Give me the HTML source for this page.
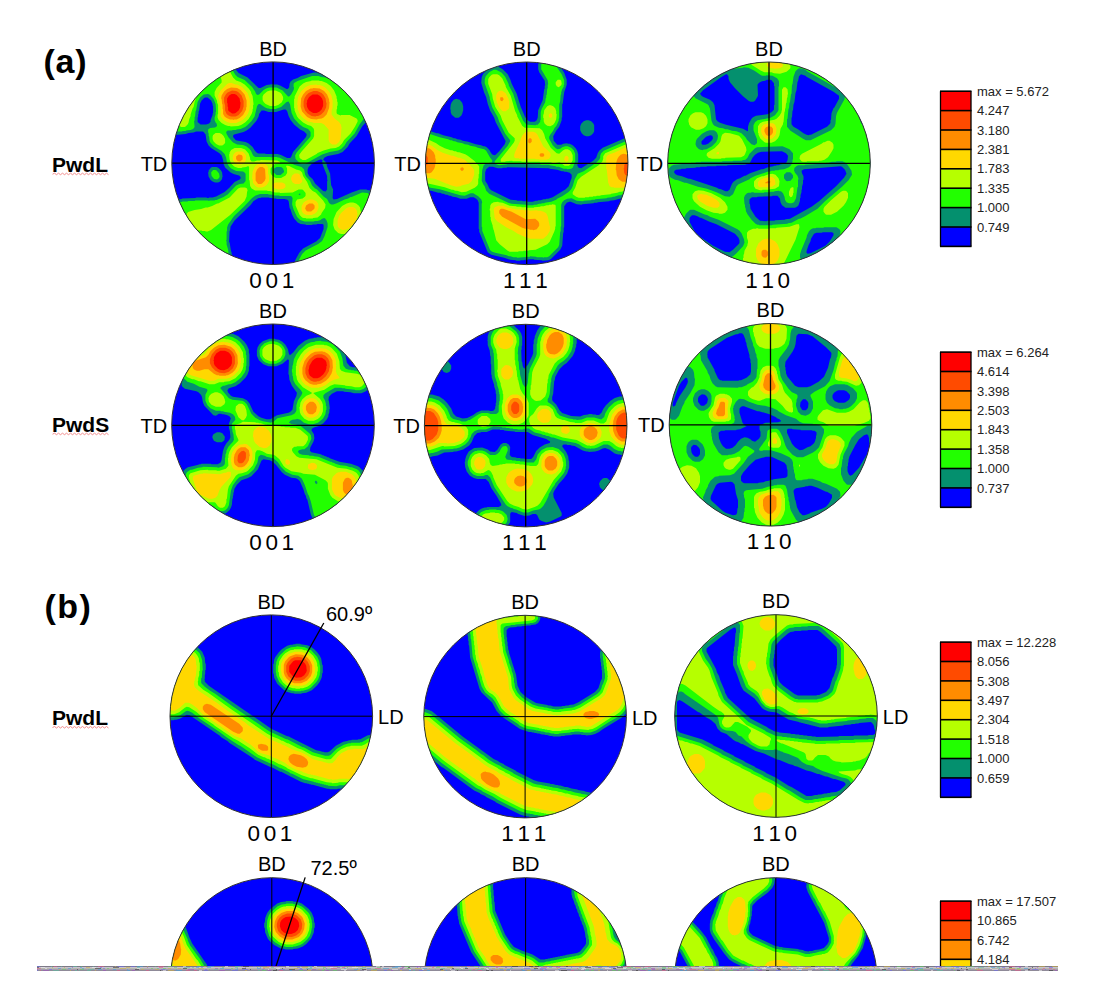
<!DOCTYPE html><html><head><meta charset="utf-8"><style>html,body{margin:0;padding:0;background:#fff;width:1099px;height:1005px;overflow:hidden}svg{display:block}</style></head><body><svg width="1099" height="1005" viewBox="0 0 1099 1005" font-family="Liberation Sans, sans-serif"><defs><clipPath id="c0"><circle cx="273.1" cy="163.2" r="101.3"/></clipPath><clipPath id="c1"><circle cx="526.7" cy="163.3" r="101.3"/></clipPath><clipPath id="c2"><circle cx="769.0" cy="163.3" r="101.3"/></clipPath><clipPath id="c3"><circle cx="273.0" cy="425.3" r="101.3"/></clipPath><clipPath id="c4"><circle cx="525.7" cy="425.6" r="101.3"/></clipPath><clipPath id="c5"><circle cx="770.5" cy="424.8" r="101.3"/></clipPath><clipPath id="c6"><circle cx="271.3" cy="716.2" r="101.3"/></clipPath><clipPath id="c7"><circle cx="525.1" cy="716.6" r="101.3"/></clipPath><clipPath id="c8"><circle cx="776.0" cy="716.0" r="101.3"/></clipPath><clipPath id="c9"><circle cx="271.8" cy="979.0" r="101.3"/></clipPath><clipPath id="c10"><circle cx="525.6" cy="979.0" r="101.3"/></clipPath><clipPath id="c11"><circle cx="775.8" cy="979.0" r="101.3"/></clipPath></defs><rect width="1099" height="1005" fill="#fff"/><g clip-path="url(#c0)"><rect x="169.8" y="59.9" width="206.6" height="206.6" fill="#0000ff"/>
<path fill="#04906e" fill-rule="evenodd" d="M212.1 167.1 211.1 167.6 208.6 170.6 208.6 172.1 208.1 172.6 208.6 176.6 210.6 180.1 212.6 181.6 215.1 182.6 218.1 182.6 220.1 181.6 222.1 179.1 222.1 177.6 222.6 177.1 222.1 172.6 221.1 170.6 218.6 168.1 216.6 167.1ZM218.6 63.6 215.6 66.6 214.1 69.6 213.1 74.1 210.6 76.6 200.6 81.1 194.1 86.6 188.6 90.1 182.1 97.1 179.1 101.6 174.1 112.1 173.1 118.6 172.6 119.1 172.6 121.6 172.1 122.1 171.6 131.1 172.1 132.6 174.1 134.6 175.6 135.1 185.6 134.1 188.6 133.1 193.6 132.6 196.1 131.6 202.6 131.6 203.6 132.1 205.6 134.6 206.6 141.6 208.6 145.6 211.1 148.1 219.1 153.1 221.6 155.6 223.1 160.1 223.6 164.1 225.1 167.6 230.6 172.6 233.6 174.1 239.1 175.6 240.6 177.1 240.6 178.6 239.6 179.6 234.6 182.1 229.1 188.1 224.6 192.1 216.1 196.6 212.6 197.6 209.1 197.6 208.6 198.1 207.1 198.1 206.6 197.6 196.1 197.6 195.6 198.1 182.1 198.6 181.6 199.1 177.6 199.6 175.6 202.1 175.6 204.6 178.6 213.1 178.6 214.6 179.6 216.6 179.6 218.1 181.1 222.6 186.6 232.6 207.1 252.6 211.1 255.1 212.1 255.1 221.6 259.6 227.1 261.6 229.6 261.6 230.6 261.1 232.1 259.1 232.1 254.6 231.6 254.1 231.6 252.1 231.1 251.6 229.6 242.6 229.1 242.1 229.6 231.1 230.1 230.6 230.6 226.6 234.6 220.6 250.6 205.1 253.6 201.1 258.6 198.1 260.6 198.1 261.1 197.6 269.1 197.6 269.6 198.1 272.6 198.1 273.1 198.6 276.1 198.6 276.6 199.1 285.1 199.1 285.6 199.6 287.1 199.6 288.6 201.1 289.6 208.1 290.6 209.6 292.1 214.6 294.1 218.6 297.6 222.6 300.6 224.1 305.6 224.6 306.1 225.1 312.1 225.1 312.6 224.6 316.6 224.6 317.1 224.1 322.6 224.1 323.6 225.1 323.6 229.1 320.1 238.1 316.1 241.6 303.1 248.6 299.1 253.1 295.1 260.6 295.1 262.1 294.6 262.6 295.1 264.6 297.6 266.6 300.6 266.6 315.1 262.6 336.1 250.6 346.1 241.6 353.1 238.1 356.6 235.6 361.6 230.6 365.1 225.1 365.1 224.1 366.1 222.6 367.1 219.1 367.1 217.1 367.6 216.6 368.1 208.6 368.6 208.1 369.6 203.1 370.6 201.6 372.6 195.6 372.1 192.6 370.1 190.6 367.1 190.1 366.6 189.6 360.1 189.6 351.6 192.6 337.1 199.1 333.6 199.6 332.6 198.1 333.1 189.6 331.1 185.1 330.1 173.6 327.1 166.6 326.6 164.1 325.6 162.1 323.1 159.6 324.6 157.6 327.6 156.1 338.1 154.1 342.6 152.1 347.6 147.1 349.6 143.6 356.6 136.1 362.1 126.6 366.1 122.1 367.1 120.1 367.1 116.1 355.6 92.6 352.1 89.1 350.1 88.1 342.6 82.1 336.1 77.6 335.1 77.6 333.6 76.6 324.6 74.1 317.1 73.1 316.6 72.6 313.6 72.6 301.1 76.1 297.6 78.1 293.1 79.6 290.6 81.6 289.6 83.6 289.1 87.6 287.6 89.1 286.6 89.1 280.1 85.6 277.1 84.6 274.1 84.6 273.6 84.1 266.6 85.1 260.6 88.1 258.6 88.1 247.6 77.6 238.6 73.1 236.1 70.1 234.6 67.1 232.1 64.6 227.1 62.1 222.1 62.1ZM320.1 159.6 321.6 159.6 322.6 160.6 322.1 161.6 322.6 164.6 327.1 176.1 327.1 179.6 327.6 180.1 327.1 181.6 327.1 189.6 325.6 191.6 323.1 191.1 315.1 183.6 312.6 179.1 309.1 176.1 307.6 173.1 307.6 169.6 308.6 167.1 311.6 164.1 314.6 162.1ZM306.6 134.1 306.6 135.6 305.6 137.6 293.1 152.1 291.1 157.1 290.1 158.1 287.1 158.1 281.1 155.1 277.6 154.1 265.6 154.1 265.1 153.6 258.6 153.6 257.1 153.1 255.1 151.1 252.6 147.1 248.6 143.6 245.6 142.1 236.6 140.6 235.6 140.1 233.1 137.1 233.1 135.6 234.1 134.6 243.6 132.1 246.6 130.6 250.6 127.6 256.6 120.6 258.6 116.6 259.1 114.1 261.6 110.6 264.1 110.6 268.6 112.1 276.1 112.1 283.6 109.6 285.6 109.6 287.1 111.1 288.6 116.1 290.6 120.1 294.1 124.6 300.1 129.6 304.1 131.6ZM207.6 97.6 211.1 100.6 212.6 104.1 212.6 105.6 213.1 106.1 213.1 113.1 212.6 113.6 212.6 115.1 210.6 120.1 210.6 121.6 209.1 123.6 206.1 124.6 200.6 124.6 197.6 122.1 197.6 117.6 198.1 117.1 198.1 114.6 198.6 114.1 198.6 111.6 199.1 111.1 200.1 103.6 201.6 100.6 204.1 98.1 205.1 97.6Z"/>
<path fill="#22ff00" fill-rule="evenodd" d="M213.1 170.1 211.1 172.6 211.6 176.1 214.1 179.1 217.1 179.6 219.1 178.1 219.6 176.6 219.1 173.6 216.6 170.6 215.6 170.1ZM221.6 65.6 218.1 68.6 217.1 71.1 216.6 75.6 214.6 78.1 209.6 80.6 206.1 81.6 201.6 84.1 196.6 88.6 189.1 93.6 184.1 99.6 179.6 107.1 176.6 114.6 176.1 118.6 175.6 119.1 175.6 121.6 175.1 122.1 174.6 129.6 176.1 131.6 182.1 131.6 182.6 131.1 185.6 131.1 186.1 130.6 190.6 130.1 193.1 129.1 194.6 127.1 194.1 121.1 194.6 120.6 194.6 117.1 195.1 116.6 195.6 111.1 196.1 110.6 197.6 102.1 200.1 97.6 203.6 94.6 208.1 94.1 210.1 95.1 213.6 99.1 215.6 104.1 216.1 111.6 215.6 112.1 215.6 114.6 214.6 117.6 214.6 120.1 215.6 122.6 216.6 123.6 217.1 126.1 215.1 127.6 210.1 128.1 208.1 129.6 208.1 132.6 208.6 133.1 208.6 136.1 209.1 136.6 209.6 141.1 210.6 143.1 214.1 146.6 221.6 151.1 224.6 154.1 226.1 157.6 227.1 163.1 229.1 166.6 231.1 168.6 236.1 171.1 243.1 171.6 245.1 173.1 245.6 174.1 245.6 181.1 243.6 183.6 239.6 184.1 236.1 185.6 227.6 194.6 223.6 197.1 216.6 200.1 215.1 200.1 214.6 200.6 209.6 200.6 209.1 201.1 207.6 200.6 195.1 200.6 194.6 201.1 188.1 201.1 187.6 201.6 182.1 201.6 181.6 202.1 180.1 202.1 179.1 203.1 179.1 206.1 184.6 222.6 188.6 230.1 208.6 250.1 212.6 252.6 219.6 255.1 222.1 256.6 223.1 256.6 226.1 258.1 228.1 258.1 229.1 257.1 229.1 254.6 228.6 254.1 228.1 249.6 226.6 244.6 226.6 241.6 226.1 241.1 226.6 239.6 226.6 231.6 227.1 231.1 227.1 227.6 228.1 224.6 234.1 216.1 244.1 206.6 252.1 198.1 255.6 195.6 260.1 194.1 268.1 194.1 268.6 194.6 271.1 194.6 274.6 195.6 279.1 195.6 279.6 196.1 290.6 196.1 291.6 196.6 292.6 198.1 292.1 204.6 293.6 209.6 297.1 217.1 300.1 220.1 304.6 221.6 314.1 221.6 314.6 221.1 317.6 221.1 320.6 220.1 321.6 219.1 324.1 218.1 325.1 218.6 326.6 220.6 327.6 223.6 327.6 227.1 324.6 236.1 322.1 241.1 318.1 244.1 305.6 250.6 302.1 254.1 298.6 260.6 298.6 262.1 299.6 263.1 301.6 263.1 314.1 259.6 319.1 257.1 335.6 247.1 344.6 238.6 352.1 234.6 358.6 228.6 360.6 225.6 363.6 218.6 365.1 206.6 367.1 202.1 367.6 199.6 368.6 198.1 369.1 194.6 367.6 193.1 362.1 192.6 351.6 197.1 350.6 197.1 348.1 198.6 344.6 199.6 336.1 203.6 333.1 204.6 331.1 204.6 329.1 203.1 327.1 199.1 323.6 196.6 317.1 189.6 315.1 188.6 312.1 185.6 310.1 181.1 306.1 176.6 305.1 174.6 304.1 169.6 301.6 167.1 294.6 165.1 279.1 157.6 277.6 157.6 277.1 157.1 272.1 157.1 271.6 157.6 270.1 157.1 255.1 157.1 253.1 155.6 251.1 151.1 249.6 149.1 246.6 146.6 243.1 145.1 237.1 144.6 233.1 142.6 228.6 137.6 226.6 134.1 226.1 132.1 227.6 130.6 232.1 130.6 232.6 130.1 236.1 130.1 236.6 129.6 240.6 129.1 245.1 127.1 247.1 125.6 251.6 121.1 254.6 116.6 257.1 106.1 258.6 104.1 260.1 104.1 265.1 107.6 267.6 108.6 269.1 108.6 269.6 109.1 275.6 109.1 281.1 107.1 286.6 102.1 288.6 101.6 290.1 104.6 291.6 113.1 294.1 118.6 299.1 124.1 303.1 127.1 308.1 129.1 310.6 132.1 310.6 136.1 310.1 137.1 296.6 152.6 295.1 155.6 295.6 159.1 298.6 162.1 301.6 164.1 305.1 164.1 322.1 154.6 329.6 152.1 338.1 150.6 341.1 149.1 344.6 145.6 346.6 142.1 354.6 133.6 359.6 124.6 364.1 118.6 363.6 115.6 359.6 108.1 359.6 107.1 353.6 95.1 349.6 91.1 335.1 80.6 331.1 79.1 329.6 79.1 325.6 77.6 321.1 77.1 318.6 76.1 312.1 76.1 297.6 81.1 294.1 83.1 293.6 84.1 293.6 87.1 294.1 87.6 293.6 90.1 291.1 94.6 289.1 96.6 288.1 96.6 282.6 90.6 276.6 87.6 269.1 87.6 266.1 88.6 263.6 90.1 259.1 94.6 257.6 95.1 256.1 94.1 255.1 91.6 252.1 87.1 244.6 80.1 237.6 77.1 235.1 74.6 232.1 69.1 229.6 66.6 226.1 65.1ZM298.6 194.1 300.1 193.6 300.6 194.6 299.1 195.1ZM273.1 170.6 274.1 168.6 276.6 167.1 281.1 167.1 283.1 168.6 284.1 171.6 283.6 172.6 280.6 175.1 276.6 175.1 273.6 172.6Z"/>
<path fill="#b6ff00" fill-rule="evenodd" d="M356.1 203.6 353.1 202.6 350.1 202.6 346.6 203.6 342.1 206.1 336.6 212.1 333.6 219.1 333.1 225.1 334.6 229.6 338.1 233.1 341.1 234.1 344.6 234.1 347.6 233.1 351.1 231.1 357.6 224.1 360.1 218.6 361.1 211.6 360.6 211.1 360.1 207.6 358.6 205.6ZM247.1 188.6 245.1 187.6 240.6 187.6 238.1 188.6 229.6 197.6 218.1 203.6 217.1 203.6 212.1 206.1 207.6 207.6 205.6 207.6 201.1 209.1 194.6 210.1 188.1 212.1 186.6 214.1 186.6 216.6 189.1 222.6 191.6 226.1 195.6 229.6 199.1 230.6 201.6 230.6 202.1 231.1 205.1 231.1 205.6 231.6 207.6 231.6 211.1 230.1 230.1 215.1 244.6 201.1 246.6 196.6 247.1 191.6 247.6 191.1ZM231.1 150.1 229.6 152.6 229.6 154.1 229.1 154.6 229.6 159.6 231.1 163.6 234.1 166.6 238.1 168.1 241.6 168.1 242.1 167.6 246.1 167.1 248.1 166.1 249.1 167.1 249.1 180.1 249.6 180.6 250.1 186.1 251.6 188.6 255.1 190.6 267.1 190.6 267.6 191.1 270.1 191.1 275.1 192.6 279.6 192.6 280.1 193.1 292.6 192.6 298.6 189.6 302.1 189.6 303.1 190.1 305.6 193.1 305.6 195.6 305.1 196.6 302.6 198.6 297.1 199.6 295.6 202.1 295.6 205.6 299.6 215.1 302.1 217.6 303.6 218.1 305.6 218.1 306.1 218.6 312.6 218.6 313.1 218.1 317.6 217.6 321.1 214.6 321.6 213.1 325.1 208.1 325.6 204.6 323.1 200.6 315.6 192.6 312.6 191.1 309.6 188.1 307.1 182.1 303.1 176.1 302.1 172.6 300.1 170.6 296.1 169.6 289.1 166.1 286.6 165.6 286.1 166.6 287.1 168.6 287.1 173.1 285.6 175.6 281.1 178.1 276.1 178.1 274.6 177.6 271.6 175.1 270.6 173.1 270.6 168.6 274.1 164.6 276.6 163.6 280.1 163.1 280.1 162.1 277.1 160.6 260.6 160.1 260.1 160.6 257.1 160.6 254.1 161.6 251.6 161.6 250.1 159.6 250.1 158.1 248.6 153.6 245.1 149.6 241.1 148.1 234.6 148.1ZM213.1 135.1 212.6 136.6 212.6 139.1 213.6 141.6 216.1 144.1 219.1 145.6 222.1 145.6 223.1 145.1 225.1 143.1 225.1 139.1 223.6 136.1 221.6 134.1 219.6 133.1 215.6 133.1ZM195.6 95.1 193.6 95.1 191.6 96.1 189.6 98.1 184.6 105.1 182.6 109.1 179.1 120.1 179.1 125.1 179.6 126.1 181.1 127.1 184.6 127.1 185.6 126.6 187.6 124.6 188.6 122.6 189.1 119.6 190.6 116.1 190.6 114.6 192.6 108.6 193.6 107.1 194.6 102.1 196.6 97.1 196.6 96.1ZM262.6 96.6 262.6 100.1 263.6 102.1 265.6 104.1 270.1 106.1 275.1 106.1 278.1 105.1 281.6 102.6 283.1 99.6 283.1 97.1 281.6 94.1 280.1 92.6 275.6 90.6 270.1 90.6 267.1 91.6 263.6 94.6ZM321.6 81.1 319.6 81.1 319.1 80.6 311.6 80.6 311.1 81.1 306.1 82.1 303.1 83.6 299.6 86.6 294.6 96.6 294.6 98.6 294.1 99.1 294.1 108.1 294.6 108.6 294.6 110.6 297.1 116.6 298.6 118.6 303.1 122.6 307.6 125.1 311.1 126.1 313.6 128.6 314.1 130.1 314.1 136.1 313.1 138.6 301.6 151.6 299.1 155.1 299.6 158.1 302.6 160.1 305.6 160.1 316.6 154.1 317.6 153.1 323.6 150.6 330.6 148.6 335.6 148.1 339.1 146.6 342.1 143.6 344.1 140.1 350.6 133.6 355.1 126.6 357.6 121.6 357.6 120.1 356.6 118.6 349.6 115.1 341.1 115.1 340.6 115.6 337.1 114.1 336.6 113.1 336.6 109.6 337.1 109.1 337.1 106.1 337.6 105.6 337.6 102.1 337.1 101.6 337.1 99.1 336.6 98.6 336.6 96.6 334.1 90.6 330.6 86.1 326.6 83.1ZM224.1 68.1 222.6 68.6 220.6 70.6 220.1 72.1 220.1 75.6 221.6 80.1 221.6 82.6 216.6 88.1 214.6 92.1 214.6 95.6 217.1 101.1 217.1 102.6 218.1 105.1 218.1 114.1 217.6 114.6 217.6 117.6 218.6 120.1 221.6 123.1 225.1 125.1 228.1 126.1 230.1 126.1 230.6 126.6 238.1 126.1 241.1 125.1 245.1 122.6 248.6 119.1 251.6 114.1 252.6 111.1 252.6 109.1 253.1 108.6 253.1 105.1 253.6 104.6 252.6 96.1 251.1 93.1 251.1 92.1 249.1 89.1 244.6 84.6 240.6 82.1 236.1 80.6 233.1 77.6 229.6 71.1 227.6 69.1Z"/>
<path fill="#ffd800" fill-rule="evenodd" d="M353.1 207.1 349.1 207.1 346.6 208.1 341.1 213.1 339.1 216.1 337.6 220.6 337.6 225.6 338.1 227.1 340.1 229.1 342.6 230.1 346.6 229.6 350.1 227.6 354.6 222.6 356.6 218.6 357.6 213.6 357.1 213.1 357.1 211.1 355.6 208.6ZM316.1 201.1 312.6 199.6 309.1 199.6 305.6 201.1 303.6 202.6 301.6 206.1 301.6 210.6 302.6 212.6 304.1 214.1 306.6 215.1 311.6 215.1 315.1 213.6 317.1 211.6 318.6 207.6 318.1 203.6ZM272.1 185.6 273.6 188.1 278.1 189.6 283.1 189.1 285.6 187.1 285.1 184.1 282.1 182.6 275.6 182.6 273.6 183.6ZM292.1 175.6 291.1 178.1 291.1 179.6 292.6 182.6 295.1 184.1 299.6 184.1 302.1 182.1 302.1 180.6 299.6 174.6 298.1 173.6 294.6 173.6ZM259.6 163.6 257.1 164.6 254.6 167.1 252.6 172.1 252.1 178.6 252.6 179.1 253.1 183.1 256.1 186.6 258.1 187.6 262.1 187.6 264.6 186.6 266.6 185.1 268.1 183.1 269.1 180.6 269.1 176.1 268.1 173.6 268.1 168.1 267.6 167.6 267.6 166.1 264.1 163.6ZM237.1 151.6 235.1 152.6 233.1 155.1 233.1 156.6 232.6 157.1 233.1 160.6 236.1 164.1 237.6 164.6 241.6 164.6 244.1 163.1 245.6 161.1 246.1 156.1 245.1 154.1 243.1 152.1 242.1 151.6ZM307.6 86.1 305.1 87.6 301.1 91.6 298.1 97.1 297.1 104.6 297.6 105.1 297.6 108.6 299.1 113.1 301.1 116.1 303.6 118.6 308.1 121.6 313.1 122.6 313.6 123.1 321.1 123.1 324.1 124.6 328.6 129.6 328.6 140.1 329.6 142.6 332.1 144.6 336.1 144.6 339.1 142.1 340.6 138.6 341.6 127.1 341.1 126.6 341.1 125.1 339.1 122.1 334.6 118.6 331.6 114.6 331.6 110.6 332.6 107.6 332.6 100.1 332.1 99.6 331.6 96.1 329.1 91.6 325.1 87.6 322.6 86.1 319.6 85.1 317.1 85.1 316.6 84.6 310.6 85.1ZM229.1 83.1 227.1 84.1 220.6 90.6 218.1 95.6 218.1 97.1 220.1 103.6 220.1 106.1 220.6 106.6 220.6 116.6 223.6 120.1 227.1 122.1 230.6 123.1 236.1 123.1 242.6 120.1 246.1 116.6 248.1 113.6 249.6 109.1 249.6 105.6 250.1 105.1 249.6 98.6 247.6 93.1 242.1 87.1 237.1 84.6 235.6 84.6 231.6 83.1Z"/>
<path fill="#ff8c00" fill-rule="evenodd" d="M309.1 203.6 306.1 205.6 305.1 208.6 306.6 211.1 307.6 211.6 311.1 211.6 314.1 209.1 314.6 208.1 314.6 205.6 312.6 203.6ZM262.6 167.1 260.1 167.1 259.1 167.6 257.1 169.6 255.6 173.1 255.6 180.6 258.1 184.1 261.1 184.1 262.1 183.6 264.6 181.1 265.6 178.6 265.1 169.6 264.6 168.6ZM238.6 154.6 236.1 156.6 236.1 159.1 237.6 161.1 240.1 161.6 242.6 159.6 242.6 156.6 241.6 155.1ZM313.1 88.1 312.6 88.6 310.6 88.6 306.1 91.1 303.1 94.6 301.1 98.6 300.6 106.6 302.1 111.6 307.1 117.1 311.1 119.1 317.1 119.6 317.6 119.1 321.6 118.6 323.6 117.6 326.6 114.6 329.1 108.1 329.6 102.1 329.1 101.6 329.1 99.6 327.1 94.6 324.1 91.1 319.6 88.6ZM231.1 87.6 227.1 89.1 224.1 91.6 221.6 95.6 221.1 98.6 221.6 99.1 222.1 104.1 222.6 104.6 222.6 109.1 223.1 109.6 223.1 114.1 224.6 116.6 226.6 118.1 230.1 119.6 232.6 119.6 233.6 120.1 234.1 119.6 236.6 119.6 239.6 118.1 243.1 115.1 246.1 109.6 246.1 107.6 246.6 107.1 246.6 100.6 244.6 94.6 240.6 90.1 237.1 88.1Z"/>
<path fill="#ff4b00" fill-rule="evenodd" d="M313.6 91.1 308.6 93.1 306.1 95.6 304.6 98.1 303.6 101.6 303.6 106.1 305.1 110.6 307.6 113.6 311.6 116.1 315.6 116.6 316.1 116.1 318.1 116.1 321.1 114.6 324.1 111.6 326.1 107.6 326.6 103.1 326.1 102.6 325.6 98.6 323.6 95.1 321.6 93.1 317.1 91.1ZM232.1 90.6 227.6 92.6 226.1 94.1 224.1 97.6 224.1 102.1 225.1 105.6 225.1 110.6 226.6 114.1 228.6 115.6 231.1 116.6 235.6 116.6 238.6 115.1 242.1 111.1 243.6 106.6 243.6 101.1 241.6 95.6 238.1 92.1 236.1 91.1Z"/>
<path fill="#ff0000" fill-rule="evenodd" d="M312.6 94.6 309.1 97.1 307.1 100.6 307.1 102.6 306.6 103.1 307.1 107.1 309.1 110.6 313.1 113.1 316.6 113.1 319.6 111.6 321.6 109.6 323.1 106.1 323.1 101.6 322.1 98.6 320.1 96.1 317.6 94.6ZM231.6 94.1 229.1 95.6 227.1 98.6 227.1 103.1 227.6 103.6 227.6 106.6 228.1 107.1 228.1 110.1 228.6 111.1 232.1 113.6 234.1 113.6 235.6 113.1 238.6 110.6 240.1 107.6 240.6 102.6 240.1 102.1 239.6 98.6 236.6 95.1 234.6 94.1Z"/>
<path d="M171.8 163.2H374.4M273.1 61.9V264.5" stroke="#000" stroke-width="1.3" fill="none"/>
</g>
<circle cx="273.1" cy="163.2" r="101.3" fill="none" stroke="#333" stroke-width="1"/>
<g clip-path="url(#c1)"><rect x="423.4" y="60.0" width="206.6" height="206.6" fill="#0000ff"/>
<path fill="#04906e" fill-rule="evenodd" d="M586.2 120.3 583.7 121.3 581.2 123.8 580.2 126.3 580.2 130.2 581.7 133.2 583.7 135.2 586.2 136.2 588.7 136.2 591.2 135.2 593.2 133.2 594.2 131.2 594.2 125.3 593.2 123.3 591.2 121.3 588.7 120.3ZM456.2 98.8 453.7 99.8 451.7 102.3 450.7 104.8 450.2 109.3 450.7 109.8 450.7 112.3 451.7 114.8 455.2 117.8 458.7 117.8 461.2 115.8 462.2 113.8 463.2 110.3 463.2 106.3 462.2 102.8 459.7 99.8ZM552.2 56.3 543.7 56.3 540.2 60.3 538.2 64.3 538.2 69.3 539.2 72.3 544.7 80.8 545.2 85.3 544.7 85.8 544.7 88.8 544.2 89.3 542.7 100.3 538.2 110.3 537.7 117.8 536.7 120.3 534.7 121.8 530.2 121.8 528.2 120.8 525.2 117.3 520.7 106.8 516.7 93.8 511.7 83.8 510.2 79.3 507.7 74.3 502.7 69.3 499.2 67.3 496.7 64.8 495.7 64.3 493.2 64.3 483.2 73.8 481.7 77.3 481.2 82.8 484.2 92.8 486.2 97.3 487.7 103.8 490.2 110.8 494.2 117.8 495.7 122.3 505.7 141.2 504.7 144.2 499.2 151.2 495.7 154.8 494.7 155.2 492.7 154.8 491.2 153.2 489.2 149.8 486.7 147.2 484.7 146.2 483.2 146.2 481.2 145.2 475.7 144.2 468.2 141.8 462.7 140.8 460.7 139.8 457.2 139.2 455.2 138.2 453.7 138.2 451.7 137.2 443.2 135.2 438.2 133.2 436.7 133.2 427.7 130.2 422.7 130.2 419.7 131.2 419.7 188.8 422.2 188.8 426.7 190.2 428.7 190.2 429.2 190.8 431.2 190.8 438.2 192.8 440.2 192.8 442.2 193.8 443.7 193.8 445.7 194.8 447.2 194.8 449.2 195.8 450.7 195.8 452.7 196.8 456.2 197.2 460.2 198.8 466.7 198.8 470.2 197.2 473.7 197.2 476.2 198.8 477.7 200.2 478.7 202.8 478.7 228.8 479.2 229.2 479.2 231.8 487.7 252.2 491.2 254.8 504.2 257.8 510.2 259.8 515.7 260.2 516.2 260.8 520.2 260.8 520.7 260.2 524.2 260.2 524.7 259.8 527.7 259.8 528.2 259.2 533.7 259.2 534.2 259.8 541.7 260.2 542.2 260.8 548.7 260.2 551.2 258.8 560.2 249.8 562.2 245.8 563.2 232.8 563.7 232.2 563.7 227.8 564.2 227.2 564.2 206.2 566.7 202.8 569.2 201.8 570.7 201.8 576.7 204.2 581.7 204.8 582.2 204.2 593.7 203.2 594.2 202.8 597.2 202.8 597.7 202.2 609.2 201.2 609.7 200.8 614.2 200.2 623.2 197.8 633.7 196.8 633.7 137.2 628.2 137.2 624.7 138.2 602.7 147.8 599.2 150.8 597.7 153.2 596.2 157.8 593.2 160.8 581.2 168.2 578.7 167.8 577.2 165.2 578.2 161.8 578.2 154.2 577.2 150.8 575.7 148.2 572.7 145.2 569.7 143.8 567.7 143.8 567.2 143.2 563.2 143.8 561.2 144.8 557.2 144.8 553.7 140.8 553.2 136.2 556.2 130.8 559.2 126.8 561.7 120.3 561.7 117.8 562.2 117.3 562.2 104.3 562.7 103.8 564.2 92.3 566.7 84.8 566.7 79.8 564.2 72.8 557.2 62.3 552.2 57.3ZM485.2 172.2 486.2 169.2 489.2 166.8 492.7 166.8 497.7 168.2 502.2 168.2 502.7 167.8 506.7 167.8 507.2 167.2 549.2 168.2 549.7 168.8 557.2 169.8 561.7 171.2 563.7 171.2 564.2 171.8 566.2 171.8 569.7 172.8 571.7 174.8 571.7 177.8 568.7 186.2 565.7 189.2 552.7 197.2 548.2 198.8 546.2 198.8 545.7 199.2 543.7 199.2 540.7 200.2 538.2 200.2 537.7 200.8 535.7 200.8 532.7 201.8 527.7 201.8 527.2 201.2 522.7 201.2 522.2 200.8 517.2 200.8 516.7 200.2 510.7 199.8 491.2 190.2 489.2 188.2 487.2 183.8 485.7 181.8 485.2 180.2Z"/>
<path fill="#22ff00" fill-rule="evenodd" d="M419.7 136.2 419.7 184.2 426.2 186.8 428.2 186.8 430.7 187.8 439.7 189.2 460.2 195.2 464.7 195.8 470.7 193.2 473.2 193.2 478.2 196.2 481.2 199.2 482.2 202.2 481.7 203.8 481.7 226.8 482.2 227.2 482.2 230.8 489.7 249.2 490.7 250.8 492.2 251.8 495.2 252.8 506.7 255.2 508.7 256.2 510.7 256.2 513.2 257.2 516.7 257.2 517.2 257.8 529.7 256.8 530.2 256.2 536.2 256.8 536.7 257.2 542.7 257.2 543.2 257.8 544.2 257.2 547.2 257.2 549.2 256.2 558.2 247.2 559.2 244.8 560.2 231.8 560.7 231.2 560.7 226.8 561.2 226.2 561.2 204.8 562.2 202.2 564.2 200.2 567.2 198.8 571.7 198.2 576.7 200.8 583.2 201.2 583.7 200.8 591.2 200.2 591.7 199.8 594.7 199.8 595.2 199.2 606.7 198.2 607.2 197.8 612.2 197.2 612.7 196.8 614.2 196.8 618.7 195.2 620.7 195.2 621.2 194.8 623.2 194.8 623.7 194.2 628.2 194.2 628.7 193.8 632.7 193.8 633.7 193.2 633.7 140.8 632.2 140.8 631.7 140.2 626.7 140.8 603.7 150.8 601.2 153.2 600.2 155.8 600.2 157.8 599.2 159.8 596.2 162.8 583.7 171.2 577.7 173.8 574.7 179.2 572.7 186.2 571.2 189.2 568.2 192.2 562.2 196.2 557.2 198.8 556.2 199.8 551.2 201.8 544.7 202.8 544.2 203.2 541.7 203.2 541.2 203.8 539.2 203.8 536.2 204.8 533.7 204.8 533.2 205.2 526.7 205.2 526.2 204.8 511.7 203.8 508.2 202.8 489.2 193.8 486.2 190.8 484.7 186.2 483.2 184.2 481.7 180.8 482.2 170.2 483.7 165.2 485.7 163.8 492.2 162.2 492.2 160.2 490.2 157.8 486.2 150.8 484.2 149.2 477.7 147.8 475.7 146.8 470.2 145.8 468.2 144.8 464.7 144.2 462.7 143.2 457.2 142.2 455.2 141.2 453.7 141.2 451.7 140.2 450.2 140.2 448.2 139.2 439.7 137.2 427.7 133.2 424.7 133.2 421.7 135.8ZM551.2 60.8 548.7 59.8 545.2 60.3 541.7 63.3 541.2 64.8 541.2 69.3 547.7 80.3 548.2 84.3 547.7 84.8 547.7 88.3 547.2 88.8 546.7 94.8 546.2 95.3 546.2 97.8 545.7 98.3 545.2 102.3 541.7 108.8 540.7 112.3 540.7 119.8 540.2 120.3 540.2 121.8 537.7 124.8 536.2 124.8 535.7 125.3 527.7 124.8 525.7 123.8 523.2 120.8 517.7 108.3 513.2 93.8 508.7 85.3 508.7 84.3 505.2 76.8 501.7 72.8 496.2 69.8 493.7 69.8 489.2 72.3 485.7 76.3 484.7 79.3 484.7 83.3 489.7 97.3 489.7 98.8 492.2 107.3 497.7 117.3 499.2 121.8 505.2 133.8 510.2 140.2 510.2 141.2 507.7 145.8 494.7 161.2 494.7 162.8 496.2 164.2 499.2 165.2 507.2 164.2 507.7 163.8 540.2 164.2 540.7 164.8 549.2 164.8 549.7 165.2 555.7 166.2 556.2 166.8 558.7 166.8 563.7 168.8 566.7 168.8 567.2 169.2 571.2 168.8 572.7 167.8 575.2 161.8 575.2 153.8 573.7 150.2 571.2 147.8 567.7 146.2 565.2 146.2 562.2 147.2 560.2 148.8 557.7 149.2 555.7 148.2 552.7 145.2 549.2 138.8 549.2 136.8 550.2 134.8 553.2 130.8 554.7 127.8 556.2 126.3 558.7 120.8 558.7 118.8 559.2 118.3 559.2 104.8 560.2 101.3 560.7 94.8 561.2 94.3 561.2 92.3 562.2 89.3 563.7 86.8 563.7 85.3 564.2 84.8 564.2 80.3 561.7 74.3 554.2 63.3Z"/>
<path fill="#b6ff00" fill-rule="evenodd" d="M491.2 203.8 490.2 205.8 490.2 208.2 489.7 208.8 489.7 210.2 490.2 210.8 490.2 216.8 490.7 217.2 490.7 219.8 492.7 225.8 492.7 227.2 493.2 227.8 493.2 229.2 493.7 229.8 496.2 240.2 499.7 244.2 507.7 250.8 509.7 251.8 518.2 251.8 518.7 251.2 523.2 251.2 523.7 250.8 528.2 250.8 528.7 250.2 535.7 249.8 547.2 244.2 549.7 241.8 554.2 231.8 555.2 228.8 555.2 226.8 555.7 226.2 555.7 205.8 555.2 204.8 552.2 204.2 551.7 204.8 549.2 204.8 548.7 205.2 546.7 205.2 543.7 206.2 540.7 206.2 540.2 206.8 534.2 207.2 533.7 207.8 527.2 207.8 526.7 207.2 521.7 207.2 521.2 206.8 516.7 206.8 516.2 206.2 509.7 205.8 502.7 202.8 498.7 202.2 498.2 201.8 493.7 202.2ZM633.7 144.2 630.7 143.2 627.2 143.8 605.2 153.2 603.2 156.2 603.2 158.8 602.2 161.8 598.7 165.2 581.2 176.8 577.7 180.2 575.2 187.8 572.7 192.2 572.7 194.2 576.2 196.8 578.7 197.8 584.7 197.8 585.2 197.2 588.7 197.2 589.2 196.8 592.7 196.8 593.2 196.2 596.2 196.2 596.7 195.8 600.2 195.8 600.7 195.2 610.7 194.2 611.2 193.8 617.2 192.8 619.7 191.8 622.2 191.8 622.7 191.2 628.7 191.2 629.2 190.8 633.2 190.2 633.7 189.8ZM419.7 143.2 419.7 178.2 421.2 178.8 424.7 182.8 444.7 187.2 451.7 189.8 453.2 189.8 455.2 190.8 457.2 190.8 461.7 192.2 466.2 191.8 474.7 187.8 477.2 185.8 478.2 183.8 478.2 178.8 478.7 178.2 478.7 174.2 479.2 173.8 479.2 166.2 474.2 160.8 467.7 155.8 465.2 154.2 459.2 152.2 457.7 152.2 455.7 151.2 454.2 151.2 452.2 150.2 450.7 150.2 444.7 148.2 439.7 145.8 436.2 143.2 426.7 138.8 424.2 139.2 421.7 142.2ZM549.2 105.3 547.2 106.3 544.2 110.3 543.7 114.3 543.2 114.8 543.2 117.8 543.7 118.3 543.7 121.3 544.7 123.8 547.2 125.8 550.2 126.3 553.2 124.8 554.7 122.8 556.2 119.3 556.7 114.3 556.2 113.8 556.2 111.3 555.2 108.3 553.2 106.3 550.7 105.3ZM560.2 79.8 557.7 79.8 555.7 82.3 555.7 84.3 556.7 86.3 558.7 87.3 561.2 85.3 561.7 83.8 561.2 80.8ZM491.7 74.8 489.2 77.3 488.2 79.3 488.2 83.8 492.2 94.3 492.7 98.3 495.2 106.8 500.7 115.8 502.2 120.3 508.7 132.8 514.7 138.2 514.7 140.8 513.7 142.8 500.7 159.2 500.7 161.2 501.2 161.8 505.2 161.8 505.7 161.2 512.2 160.8 512.7 161.2 521.2 161.2 521.7 161.8 539.7 161.8 540.2 162.2 550.2 162.2 553.7 163.2 559.7 162.2 564.7 165.8 568.7 165.8 570.2 164.8 572.7 160.2 572.7 155.2 571.2 151.8 569.7 150.2 567.7 149.2 565.2 149.2 563.2 150.2 559.2 153.8 556.7 153.2 550.7 147.8 545.2 138.2 544.2 134.2 542.2 130.2 539.7 128.2 524.7 127.8 522.2 125.8 517.2 116.3 517.2 115.3 515.2 111.3 510.7 95.8 505.7 86.8 505.7 85.8 502.2 78.3 499.2 75.3 497.2 74.3 493.2 74.3Z"/>
<path fill="#ffd800" fill-rule="evenodd" d="M493.7 209.2 494.7 218.2 497.2 221.2 506.2 227.2 513.2 230.8 517.7 233.8 525.7 237.2 530.2 238.8 543.2 238.8 547.2 235.2 549.7 231.2 550.2 226.2 549.7 225.8 547.7 216.2 546.2 213.2 543.7 211.8 540.2 210.8 537.7 210.8 537.2 210.2 529.7 210.8 529.2 210.2 524.2 210.2 523.7 209.8 515.2 209.2 514.7 208.8 512.2 208.8 511.7 208.2 507.7 207.8 503.2 205.8 498.2 205.8 494.7 207.2ZM566.2 155.8 564.7 156.8 564.2 159.8 565.2 161.2 566.7 161.8 568.2 160.8 568.7 157.8 567.7 156.2ZM628.7 146.8 623.7 148.2 614.2 152.8 609.7 154.2 607.2 155.8 606.2 157.8 606.2 168.8 606.7 169.2 608.2 182.8 609.7 186.2 611.7 187.2 613.7 187.2 614.2 187.8 629.2 187.8 630.7 186.2 630.7 184.8 631.7 182.2 633.7 180.8 633.7 156.2 632.2 155.2 631.2 153.2 630.7 148.2ZM419.7 148.2 419.7 173.2 421.2 173.8 424.7 176.8 426.7 177.8 434.7 178.8 446.7 183.8 447.7 183.8 449.2 184.8 456.2 186.8 460.2 186.2 462.2 185.2 468.7 183.8 471.7 181.2 474.2 174.8 474.2 170.2 472.2 167.2 464.7 159.8 459.7 157.8 458.2 157.8 453.2 155.8 451.7 155.8 442.7 152.8 437.7 150.2 431.7 145.8 429.2 144.8 424.7 144.8 421.2 147.8ZM524.7 132.8 522.2 135.8 520.7 138.8 520.7 139.8 515.2 151.8 514.2 154.8 514.2 157.2 515.7 158.2 518.7 158.2 519.2 158.8 535.2 158.8 535.7 159.2 539.2 159.2 539.7 159.8 546.2 159.8 549.2 158.8 550.7 155.8 550.2 153.2 549.2 151.8 543.2 146.2 537.2 134.2 535.7 132.8 533.2 131.8 526.2 131.8ZM550.2 113.3 548.7 114.8 548.7 116.3 549.7 117.8 551.2 117.8 552.2 116.8 552.2 114.8 551.7 113.8ZM500.2 90.8 498.7 91.3 497.2 92.8 496.2 95.3 496.2 100.3 496.7 100.8 496.7 102.3 499.7 108.3 502.2 110.8 503.2 111.3 505.7 111.3 508.7 108.8 509.2 107.3 509.2 101.3 508.7 100.8 508.7 99.3 505.7 93.3 502.2 90.8Z"/>
<path fill="#ff8c00" fill-rule="evenodd" d="M499.2 210.8 499.2 213.2 502.2 216.8 522.2 227.8 525.2 228.8 527.7 228.8 530.2 229.8 532.7 229.8 533.2 230.2 536.7 229.2 539.2 225.8 539.2 223.2 538.2 221.2 535.2 218.8 525.7 219.2 511.7 211.8 503.2 208.8 501.2 208.8 500.2 209.2ZM460.7 167.8 460.2 169.2 461.2 170.8 462.7 170.8 463.7 169.8 463.7 168.2 462.7 167.2ZM623.2 153.8 620.7 154.8 618.7 156.8 617.2 159.2 616.2 162.8 615.7 169.8 616.2 170.2 616.7 175.2 618.7 179.2 622.2 181.8 625.7 181.8 627.7 180.8 633.7 175.2 633.7 162.2 630.2 159.2 629.2 157.2 626.2 154.2ZM540.7 153.2 539.7 154.2 539.7 155.8 540.7 156.8 543.2 156.8 544.2 155.8 544.2 154.2 543.2 153.2ZM426.2 148.2 424.2 149.2 420.7 152.8 419.7 152.8 419.7 168.8 420.7 168.8 424.2 172.2 426.2 173.2 429.7 173.2 431.7 172.2 434.2 168.8 435.2 165.8 435.2 163.2 435.7 162.8 435.7 158.8 435.2 158.2 435.2 155.8 433.7 152.2 430.7 149.2 428.7 148.2ZM529.2 138.2 528.2 139.8 528.2 142.2 529.2 143.2 530.2 143.2 531.7 141.8 531.7 139.2 530.7 138.2ZM500.7 97.3 500.2 97.8 500.2 99.8 500.7 100.8 502.2 101.3 503.7 99.3 502.7 97.3Z"/>
<path fill="#ff4b00" fill-rule="evenodd" d="M628.2 162.2 626.2 162.2 625.2 163.2 624.2 165.2 624.2 167.8 623.7 168.2 624.2 172.8 625.2 174.8 627.2 175.8 629.7 174.2 631.2 170.8 631.2 166.8 630.7 165.2ZM424.2 155.2 421.7 158.2 421.2 161.8 422.2 164.2 423.7 165.8 425.2 166.2 427.2 164.8 427.7 163.2 427.7 157.8 426.7 155.8Z"/>
<path d="M425.4 163.3H628.0M526.7 62.0V264.6" stroke="#000" stroke-width="1.3" fill="none"/>
</g>
<circle cx="526.7" cy="163.3" r="101.3" fill="none" stroke="#333" stroke-width="1"/>
<g clip-path="url(#c2)"><rect x="665.7" y="60.0" width="206.6" height="206.6" fill="#0000ff"/>
<path fill="#04906e" fill-rule="evenodd" d="M696.0 56.3 696.0 57.3 691.0 62.3 685.0 66.8 674.5 77.3 668.0 85.3 663.5 89.8 662.0 90.3 662.0 238.2 663.5 238.8 667.5 242.8 674.0 250.8 683.5 260.2 692.5 267.8 693.5 269.2 693.5 270.2 844.5 270.2 845.0 268.8 849.0 264.8 855.0 260.2 868.5 246.2 870.5 243.2 874.5 239.2 876.0 238.8 876.0 89.8 874.5 89.3 870.0 84.8 868.0 81.8 854.0 67.3 845.5 60.8 843.0 58.3 842.5 56.3ZM833.5 233.2 833.5 235.2 829.5 241.8 825.5 245.8 810.5 253.2 807.5 253.8 806.5 252.8 806.5 251.2 808.5 245.2 810.5 241.2 811.0 238.8 814.0 233.8 816.5 232.8 822.0 232.8 822.5 232.2 832.0 232.2ZM690.0 217.2 692.0 215.2 694.5 215.2 697.5 216.2 700.0 217.8 701.0 217.8 709.5 221.8 716.5 224.2 735.0 233.8 738.5 237.8 739.5 240.2 739.5 242.8 739.0 243.8 733.0 249.8 729.5 252.2 725.0 251.8 713.0 245.8 702.0 238.2 695.5 232.8 689.5 221.8 689.5 218.2ZM846.5 173.8 844.0 177.8 836.0 186.2 819.0 201.2 811.5 206.8 790.0 218.8 785.5 219.2 785.0 219.8 775.0 220.2 774.5 220.8 767.0 220.8 766.5 221.2 760.0 220.8 755.5 216.8 750.5 208.8 750.0 204.2 749.5 203.8 749.5 199.2 752.0 197.2 757.0 197.2 757.5 196.8 772.0 196.2 772.5 195.8 777.5 195.8 780.0 198.8 780.5 202.2 782.0 205.2 785.5 207.8 795.0 207.8 797.0 206.8 798.5 205.2 800.0 200.8 800.0 198.2 800.5 197.8 800.5 195.2 801.5 192.2 801.5 189.8 802.0 189.2 802.0 186.8 803.0 183.2 803.0 180.2 803.5 179.8 803.5 176.2 802.0 173.2 801.5 170.8 804.0 169.2 840.5 166.2 842.0 166.8 845.0 169.8ZM788.0 155.8 787.5 160.2 786.5 162.2 784.5 163.8 781.0 164.2 778.5 165.2 776.5 165.2 776.0 165.8 774.0 165.8 773.5 166.2 768.0 167.2 763.0 169.2 761.5 169.2 750.0 173.2 745.5 175.8 744.5 175.8 740.0 178.2 737.0 179.2 733.5 181.8 732.0 183.8 729.5 189.8 727.5 191.2 725.5 191.2 721.0 189.2 718.5 188.8 717.0 187.8 690.0 178.8 688.5 178.8 682.0 176.2 677.5 175.2 675.5 174.2 674.0 172.2 674.5 170.8 676.0 169.8 681.0 169.2 681.5 168.8 685.5 168.8 686.0 168.2 695.5 167.8 696.0 167.2 700.0 167.2 700.5 166.8 706.5 166.8 707.0 166.2 716.0 166.2 716.5 165.8 727.0 165.8 727.5 165.2 745.5 164.8 746.0 164.2 747.5 164.2 750.0 162.8 752.5 157.8 755.0 154.8 758.0 152.8 761.5 151.8 782.0 151.2 786.0 153.2ZM712.5 136.2 713.0 138.2 712.0 140.2 708.0 143.8 705.5 144.8 702.5 144.8 701.5 143.8 701.5 141.2 706.0 136.8 710.0 135.2 711.0 135.2ZM801.0 74.3 805.5 75.8 806.5 76.8 833.5 91.8 839.0 95.8 839.0 98.8 834.5 107.3 833.5 108.3 831.5 113.3 831.0 119.8 830.5 120.3 830.5 122.8 830.0 123.8 827.0 126.8 811.0 134.8 809.5 134.8 809.0 135.2 806.5 134.8 803.5 133.2 798.0 129.2 793.5 126.8 791.5 124.3 791.5 117.8 792.0 117.3 792.5 110.8 793.0 110.3 793.5 104.8 794.5 101.8 795.5 93.3 796.5 90.3 797.5 81.8 798.0 81.3 799.0 76.3ZM726.0 74.3 727.0 74.3 728.5 76.3 728.5 78.8 730.0 82.3 735.0 88.3 743.0 96.3 748.5 100.8 750.5 101.8 753.5 101.8 755.0 100.8 757.5 96.8 758.0 95.3 757.5 84.8 759.0 82.8 762.0 81.3 765.0 80.8 767.0 79.8 770.5 79.8 771.5 80.3 774.0 83.3 774.0 85.8 774.5 86.3 774.5 104.8 774.0 105.3 774.0 109.3 773.5 110.3 771.5 112.3 767.5 114.3 756.0 115.8 753.0 117.3 751.5 118.8 749.0 123.3 748.0 126.8 748.0 130.8 747.5 131.2 743.0 128.8 726.0 124.8 720.0 122.8 717.5 121.3 716.0 119.3 714.5 105.3 713.0 102.3 710.0 99.8 703.0 96.8 701.5 95.8 700.0 93.8 703.0 90.3 721.0 77.3Z"/>
<path fill="#22ff00" fill-rule="evenodd" d="M701.5 56.3 701.0 58.3 699.0 60.3 686.0 70.3 673.5 83.3 667.5 91.3 664.0 94.8 662.0 95.3 662.0 233.2 664.0 233.8 667.0 236.8 672.5 244.2 677.5 249.8 688.5 260.2 697.0 266.8 699.0 270.2 839.5 270.2 840.5 267.8 843.0 265.2 853.5 257.2 865.5 244.8 870.5 237.8 874.0 234.2 876.0 233.8 876.0 94.8 874.0 94.3 870.5 90.8 864.5 82.8 852.5 70.3 840.0 60.8 837.5 58.3 837.0 56.3ZM839.5 229.2 840.5 231.2 840.0 234.2 833.5 244.8 829.5 249.2 815.0 256.8 814.0 256.8 806.0 260.8 802.0 260.2 800.0 257.8 800.0 254.2 801.5 249.8 806.5 237.8 807.0 235.2 809.0 231.2 811.0 229.2 813.0 228.2 815.5 228.2 816.0 227.8 823.5 227.8 824.0 227.2 836.5 227.2ZM686.0 213.8 689.5 210.2 690.5 209.8 694.0 209.8 704.0 214.2 707.5 215.2 710.0 216.8 718.5 219.8 737.5 229.2 739.5 230.8 741.5 233.2 744.0 239.2 744.5 242.8 743.0 246.2 736.0 253.8 733.0 256.2 730.0 257.8 725.0 257.2 709.0 249.2 695.0 239.2 691.5 235.8 689.5 232.8 684.0 221.8 684.0 217.8ZM786.5 172.2 790.0 172.2 791.0 172.8 793.0 175.2 793.0 177.8 790.5 180.8 787.0 181.2 786.0 180.8 784.0 178.2 784.0 174.8ZM851.5 170.8 852.0 174.8 848.5 180.2 842.0 186.8 825.0 201.2 817.5 208.8 805.0 216.2 800.0 218.8 799.0 218.8 791.5 222.8 788.0 223.2 787.5 223.8 772.5 224.8 772.0 225.2 759.5 225.2 759.0 224.8 757.5 224.8 755.5 223.8 751.5 219.8 747.5 214.2 746.0 211.2 745.5 207.8 745.0 207.2 745.0 204.8 744.5 204.2 744.0 197.8 745.0 195.2 747.0 193.2 748.5 192.8 751.0 192.8 751.5 192.2 753.5 192.2 754.0 192.8 764.0 192.8 764.5 192.2 770.0 192.2 770.5 191.8 774.0 191.8 774.5 191.2 779.0 190.8 779.5 191.2 781.0 191.2 783.0 193.2 784.5 196.8 785.0 199.8 786.5 202.2 789.0 203.2 791.5 203.2 794.0 202.2 796.0 198.2 797.5 187.2 798.0 186.8 798.0 180.2 798.5 178.8 797.5 175.8 795.0 172.8 794.0 170.2 794.5 167.8 797.0 165.8 798.5 165.2 804.5 165.2 805.0 164.8 822.0 163.8 822.5 163.2 825.5 163.2 826.0 162.8 828.5 162.8 832.0 161.8 836.0 161.8 836.5 161.2 842.5 161.2 845.5 162.8 847.5 164.8ZM793.0 153.2 793.0 159.2 792.5 159.8 792.5 161.8 791.0 165.2 789.0 167.2 784.0 169.2 779.0 169.8 778.5 170.2 775.0 170.2 774.5 170.8 771.5 170.8 771.0 171.2 767.5 171.8 755.5 175.8 750.5 178.2 749.5 179.2 738.5 184.2 736.5 186.2 733.0 194.2 729.5 196.8 725.0 196.2 716.5 192.2 707.0 188.8 698.0 186.8 686.0 182.8 684.5 182.8 678.0 180.2 675.0 179.8 671.0 177.8 669.5 176.2 668.5 173.8 668.5 169.8 669.0 168.2 671.5 165.8 674.0 164.8 685.5 163.8 686.0 163.2 690.5 163.2 691.0 162.8 695.5 162.8 696.0 162.2 700.5 162.2 701.0 161.8 722.0 161.8 722.5 161.2 732.5 161.2 733.0 160.8 742.0 160.8 742.5 160.2 745.5 159.8 747.5 157.8 749.5 153.8 755.0 148.2 757.0 147.2 782.5 146.2 789.5 149.2ZM715.0 130.8 717.0 132.8 718.0 135.8 717.5 139.2 716.0 142.2 712.0 146.2 706.5 149.2 703.0 149.8 702.5 150.2 699.0 149.2 696.5 146.8 695.5 144.2 696.0 140.8 697.0 138.8 702.0 133.8 706.5 131.2 709.5 130.2 713.5 130.2ZM855.0 99.8 856.5 100.3 861.0 104.8 871.5 118.3 873.0 121.8 873.0 126.3 871.0 128.8 868.0 128.8 864.0 126.8 861.0 123.3 854.5 104.8 854.0 100.8ZM799.5 68.3 803.0 68.8 806.0 70.3 807.0 71.3 841.5 90.8 844.5 93.8 845.0 95.3 844.5 99.3 837.0 112.8 836.0 116.3 835.5 123.8 834.5 126.8 831.0 130.2 810.5 140.2 806.0 140.2 803.0 138.8 790.5 130.8 787.0 126.8 787.0 119.3 787.5 118.8 788.5 108.8 789.0 108.3 789.5 102.8 790.0 102.3 791.0 94.3 791.5 93.8 792.0 84.8 792.5 84.3 793.5 76.8 795.5 71.3 798.0 68.8ZM726.5 67.8 730.0 67.3 734.0 68.8 743.0 67.8 743.5 67.3 748.5 67.8 754.5 70.8 761.0 75.3 762.5 75.8 766.0 75.8 766.5 75.3 772.5 75.8 777.0 78.3 778.5 80.3 779.0 81.8 779.0 86.3 778.5 86.8 778.5 109.8 778.0 111.3 775.0 115.3 770.5 117.8 757.5 120.3 755.0 122.3 753.5 125.3 753.5 130.2 757.0 139.2 757.0 142.8 756.5 143.8 754.5 145.2 751.5 144.2 747.0 139.8 745.5 137.2 741.5 133.2 736.5 131.2 732.0 130.8 727.5 129.2 725.5 129.2 723.0 128.2 719.0 127.8 714.5 125.8 713.0 124.3 711.5 120.8 710.0 108.8 708.5 105.3 707.5 104.3 695.5 98.3 693.5 95.8 693.5 92.3 696.0 89.3 723.5 69.3Z"/>
<path fill="#b6ff00" fill-rule="evenodd" d="M799.0 224.2 796.5 224.2 789.5 226.8 776.5 227.8 776.0 228.2 770.0 228.2 769.5 228.8 758.5 228.8 758.0 228.2 756.5 228.2 756.0 228.8 753.0 228.8 748.5 230.8 747.0 232.8 747.0 237.8 748.0 240.8 748.0 243.2 747.5 243.8 747.5 245.2 744.5 250.8 744.0 254.2 743.5 254.8 743.5 257.8 743.0 258.2 743.0 263.8 743.5 264.8 745.5 266.2 756.5 266.8 760.5 268.2 762.0 270.2 773.5 270.2 775.0 268.2 781.5 265.8 784.5 262.2 795.5 239.8 799.5 227.2ZM846.5 191.2 845.5 190.8 843.0 190.8 841.0 191.8 831.0 200.2 824.5 206.8 823.5 208.8 823.5 211.8 825.5 214.2 826.5 214.8 831.0 214.8 837.0 211.8 843.5 205.8 846.0 202.2 848.0 197.8 848.0 193.2ZM692.5 194.2 692.5 198.2 694.0 201.2 700.0 206.8 706.5 210.2 713.5 212.8 718.5 213.2 719.0 213.8 722.0 213.8 725.0 212.8 727.5 209.8 727.5 206.8 725.0 202.2 720.0 197.8 711.5 193.2 703.5 190.8 698.5 190.2 695.0 191.2ZM793.0 187.2 792.0 187.2 790.5 188.2 789.0 191.8 789.0 195.2 790.5 197.2 792.0 196.8 793.0 194.8 793.0 193.2 793.5 192.8 793.5 187.8ZM778.5 178.2 775.5 174.8 772.5 173.8 768.5 174.2 763.5 176.2 762.0 176.2 757.0 178.2 754.5 180.8 754.0 181.8 754.0 186.2 755.5 188.8 760.0 190.2 762.0 190.2 762.5 189.8 769.0 189.8 769.5 189.2 775.0 188.8 779.0 186.2 779.5 181.2ZM833.5 144.8 832.5 142.8 829.5 140.8 827.5 140.8 824.5 142.2 823.5 142.2 821.5 143.8 802.0 153.8 800.0 155.8 799.5 158.8 801.5 161.2 803.0 161.8 806.5 161.8 807.0 161.2 818.5 161.2 819.0 160.8 821.0 160.8 824.5 159.8 828.0 157.2 832.0 151.2 833.5 148.2ZM746.0 147.2 742.0 139.2 739.0 135.8 730.0 133.2 725.0 132.8 722.5 134.2 721.5 136.2 720.5 141.2 719.0 143.8 714.5 148.2 708.0 152.2 707.0 153.2 706.5 155.2 708.5 157.8 712.0 158.8 721.0 158.8 721.5 158.2 725.0 158.2 725.5 157.8 741.0 157.2 744.0 155.8 745.0 154.2 746.5 150.2ZM695.5 112.3 693.0 113.3 690.5 115.3 688.5 119.3 688.5 122.3 689.0 122.8 689.0 124.3 691.0 127.3 696.0 129.8 699.5 129.8 703.5 128.2 706.0 126.3 707.5 123.3 707.5 119.3 706.0 115.8 703.5 113.3 701.0 112.3ZM785.5 87.3 783.5 87.3 782.0 89.8 782.0 110.3 781.5 110.8 781.5 112.3 779.5 115.8 776.5 118.8 774.5 119.8 763.0 121.8 760.0 123.3 758.0 126.3 758.0 132.8 758.5 133.2 758.5 134.8 760.5 138.8 764.5 142.2 766.0 142.8 771.5 142.8 775.0 141.2 778.0 138.2 779.5 135.2 780.5 128.8 783.0 124.3 783.0 122.8 783.5 122.3 784.5 111.8 785.0 111.3 785.0 108.8 785.5 108.3 786.0 103.3 786.5 102.8 787.0 97.8 787.5 97.3 787.5 94.8 788.0 94.3 787.5 89.3ZM751.0 62.3 751.5 64.8 761.0 70.8 764.5 72.3 771.5 72.3 774.0 73.3 780.0 73.8 786.5 71.8 790.0 68.8 790.5 67.3 790.0 64.3 788.0 61.8 786.0 60.3 779.5 57.3 779.0 56.3 768.5 56.3 766.5 57.8 754.5 60.3Z"/>
<path fill="#ffd800" fill-rule="evenodd" d="M765.5 238.8 762.5 239.8 758.5 243.2 756.0 248.8 756.0 256.2 757.5 260.2 760.5 263.2 764.5 265.2 767.0 265.2 768.0 265.8 768.5 265.2 772.0 264.8 775.0 263.2 777.5 260.8 779.5 255.8 779.5 249.2 777.5 244.2 775.0 241.2 770.0 238.8ZM697.0 196.2 698.0 199.2 700.5 201.8 707.0 205.8 713.5 207.8 717.5 207.8 719.5 206.2 719.5 203.2 719.0 202.2 716.5 199.8 710.5 196.2 709.5 196.2 706.5 194.8 702.0 194.2 701.5 193.8 698.0 194.8ZM775.0 179.8 773.5 177.8 771.0 176.8 764.0 178.2 759.5 180.2 758.0 182.2 758.0 185.2 758.5 186.2 760.0 187.2 769.0 187.2 769.5 186.8 772.0 186.8 775.5 184.2ZM719.0 152.2 718.0 151.8 716.5 152.8 716.5 154.2 718.5 154.2 719.0 153.8ZM773.0 123.3 768.0 123.3 763.5 124.8 761.5 127.3 761.0 131.2 762.0 134.8 765.0 138.2 767.0 139.2 772.0 138.8 775.0 135.8 776.0 133.8 776.5 128.2 775.0 124.8ZM766.5 64.8 767.5 66.8 771.0 68.3 773.5 68.3 774.0 68.8 779.5 68.3 782.5 66.8 783.0 64.8 781.5 62.8 779.0 61.8 776.5 61.8 776.0 61.3 770.0 61.8 768.0 62.8Z"/>
<path fill="#ff8c00" fill-rule="evenodd" d="M763.5 249.8 762.5 250.2 761.5 251.8 761.5 255.2 763.0 257.2 765.5 257.8 766.5 257.2 768.0 255.2 768.0 251.8 766.0 249.8ZM765.0 182.8 765.5 183.2 769.0 183.2 770.0 182.8 770.5 181.8 770.0 181.2 767.5 181.2ZM768.5 126.3 766.0 127.3 764.5 129.2 764.5 131.8 766.0 134.8 767.5 135.8 770.0 135.8 772.0 134.2 773.0 132.2 773.0 128.8 771.5 126.8Z"/>
<path d="M667.7 163.3H870.3M769.0 62.0V264.6" stroke="#000" stroke-width="1.3" fill="none"/>
</g>
<circle cx="769.0" cy="163.3" r="101.3" fill="none" stroke="#333" stroke-width="1"/>
<g clip-path="url(#c3)"><rect x="169.7" y="322.0" width="206.6" height="206.6" fill="#0000ff"/>
<path fill="#04906e" fill-rule="evenodd" d="M213.4 434.2 212.4 436.2 212.4 437.8 213.9 440.8 216.9 442.2 221.9 442.2 224.4 440.2 224.9 436.8 222.4 433.2 219.9 432.2 216.9 432.2ZM182.4 356.8 179.4 361.8 177.4 366.8 177.4 373.2 177.9 373.8 177.9 375.2 181.4 381.2 181.9 386.2 184.9 388.8 196.4 391.2 198.4 392.2 200.9 394.8 201.9 396.8 202.9 402.2 204.4 405.8 213.4 415.2 215.9 415.8 218.9 413.8 221.4 413.8 221.9 414.2 223.9 414.2 227.4 415.2 229.4 416.2 230.9 418.2 228.9 423.8 228.9 427.8 229.9 431.2 230.4 437.2 229.4 439.8 226.4 443.2 224.4 446.8 222.9 451.2 221.4 460.8 220.4 462.8 217.4 464.2 211.4 464.2 210.9 463.8 201.4 463.8 200.9 464.2 198.9 464.2 198.4 464.8 187.9 467.2 184.9 469.2 183.4 471.2 182.4 474.8 182.4 477.8 182.9 478.2 183.4 481.8 187.9 495.2 191.4 500.8 204.4 507.8 210.9 509.2 216.9 513.2 220.4 514.2 222.4 514.2 225.9 513.2 229.4 510.2 230.9 507.8 231.9 504.8 232.4 498.8 232.9 498.2 232.9 495.8 233.4 495.2 233.4 492.8 233.9 492.2 234.4 488.8 236.9 484.8 241.4 480.2 247.4 478.2 251.4 476.2 257.9 469.2 261.4 460.8 263.4 459.2 269.9 460.2 272.9 461.8 276.4 465.2 281.9 472.2 284.9 474.8 291.4 477.8 295.9 478.2 297.9 479.2 299.9 481.2 303.4 489.2 304.9 494.2 305.9 495.8 306.4 498.2 307.4 499.8 310.9 514.8 312.9 518.8 315.9 521.2 317.4 521.8 321.9 521.2 327.9 516.2 333.9 514.2 335.4 513.2 339.4 512.2 348.9 507.8 349.9 507.8 360.4 502.2 362.9 499.8 363.9 497.8 363.9 492.8 364.4 492.2 364.4 488.8 364.9 488.2 364.9 485.2 365.4 484.8 365.4 477.2 362.9 470.8 359.4 467.2 357.9 466.2 350.9 463.8 339.4 461.8 329.9 458.2 328.4 457.2 327.4 457.2 325.9 456.2 324.9 456.2 323.4 455.2 322.4 455.2 320.9 454.2 311.4 452.2 309.9 450.8 310.4 447.2 313.4 441.8 314.4 438.2 313.9 434.2 311.4 430.2 311.9 428.8 314.4 427.2 318.4 426.2 323.4 423.2 326.9 419.2 328.4 416.2 328.4 414.8 329.4 412.2 329.4 409.2 329.9 408.8 328.9 400.8 328.4 400.2 328.9 396.8 331.9 393.8 336.9 391.2 343.4 391.2 343.9 391.8 350.4 392.2 353.9 393.2 361.4 393.2 365.9 391.2 368.9 388.2 370.4 385.2 370.9 378.8 368.9 373.8 365.4 370.2 362.4 368.8 355.9 367.8 355.4 367.2 352.9 367.2 349.9 366.2 346.9 362.8 345.4 354.8 343.4 350.2 337.4 343.2 331.4 339.2 328.4 338.2 326.4 338.2 325.9 337.8 323.4 337.8 322.9 337.2 316.9 337.2 316.4 337.8 313.9 337.8 313.4 338.2 309.4 338.8 304.9 340.8 298.4 345.8 293.4 352.2 289.9 355.2 288.9 353.8 287.9 349.2 285.4 344.8 282.4 341.8 278.9 339.8 275.4 339.2 274.9 338.8 269.4 338.8 262.9 341.2 259.4 344.2 257.4 347.8 257.4 349.2 256.9 349.8 256.9 355.8 258.9 360.2 263.4 364.2 268.4 366.2 276.4 366.2 282.4 363.8 287.9 359.2 288.9 360.2 288.4 374.2 288.9 374.8 289.4 379.8 291.9 385.8 296.9 392.8 296.4 395.8 293.9 401.2 292.4 409.8 290.4 411.8 288.4 412.8 276.9 415.2 270.4 419.2 266.4 419.2 261.4 417.8 258.4 416.2 253.4 411.8 249.4 403.2 246.9 400.2 242.9 398.2 232.9 396.8 230.9 395.8 227.9 392.2 227.4 390.2 228.9 388.2 235.4 386.2 239.9 383.2 245.4 377.8 247.4 374.8 248.9 370.8 248.9 366.8 249.4 366.2 249.4 353.8 248.9 353.2 248.9 349.8 246.9 345.2 244.4 341.8 238.4 336.2 232.9 333.8 231.4 333.8 228.9 332.8 226.4 332.8 225.9 332.2 219.4 332.2 218.9 332.8 216.4 332.8 215.9 333.2 212.4 333.8 206.4 337.2 196.4 347.2 187.9 351.2Z"/>
<path fill="#22ff00" fill-rule="evenodd" d="M264.4 343.2 260.9 346.8 259.4 350.8 259.9 356.2 262.9 360.8 264.9 362.2 268.9 363.8 275.9 363.8 280.4 361.8 283.9 358.2 285.4 354.8 285.4 350.8 283.9 347.2 281.4 344.2 276.9 341.8 275.4 341.8 274.9 341.2 269.9 341.2ZM185.4 358.2 181.4 365.2 180.4 368.8 180.4 371.8 182.4 376.8 187.4 381.8 193.9 383.8 199.4 386.8 206.4 388.8 207.4 389.8 207.4 390.8 205.4 394.8 205.4 400.8 207.4 405.2 210.4 408.2 215.9 410.8 220.4 410.8 220.9 411.2 223.4 411.2 223.9 411.8 229.9 412.8 232.9 414.2 234.9 416.8 235.4 419.8 231.9 423.8 231.9 428.8 232.4 429.2 232.4 431.2 233.4 434.2 233.9 439.8 232.9 441.8 228.4 446.8 226.4 450.8 226.4 452.2 225.4 454.8 225.4 457.2 224.9 457.8 224.9 463.2 224.4 464.8 222.9 466.2 218.4 467.8 216.9 467.2 202.9 466.8 202.4 467.2 197.9 467.8 191.9 469.8 190.4 469.8 186.9 472.2 185.9 474.2 185.9 478.8 190.9 493.8 192.4 496.8 194.9 499.2 205.9 504.8 211.9 505.8 213.9 506.8 218.4 510.8 222.9 511.2 225.4 510.2 227.4 508.2 228.9 505.2 230.9 490.8 232.9 485.2 236.9 479.8 239.4 477.2 248.4 474.2 253.9 469.2 257.4 462.8 258.4 457.2 258.9 456.2 260.9 454.8 264.9 455.8 266.4 456.8 273.4 458.2 277.9 462.2 280.9 466.8 285.9 471.8 292.4 474.8 298.4 475.8 301.9 478.8 304.9 485.2 307.9 494.2 308.9 495.8 310.9 501.8 313.9 514.8 315.4 517.2 317.9 518.8 320.4 518.8 321.4 518.2 324.9 514.8 329.4 512.2 336.4 510.2 337.9 509.2 343.9 507.2 347.4 505.2 348.4 505.2 356.4 501.2 360.4 498.2 360.9 497.2 360.9 493.8 361.4 493.2 361.9 484.2 362.4 483.8 362.4 478.2 361.9 477.8 361.9 475.8 358.9 470.8 356.9 469.2 351.9 467.2 350.4 467.2 345.9 465.8 340.4 465.2 335.4 463.8 333.9 462.8 332.9 462.8 331.4 461.8 330.4 461.8 318.4 456.8 313.9 456.2 313.4 455.8 309.4 455.8 308.9 455.2 302.4 454.8 299.4 453.8 297.9 451.8 298.9 450.2 302.4 449.2 304.4 449.2 307.9 446.2 311.4 438.8 310.9 435.2 309.4 433.2 300.4 425.8 296.9 424.8 291.9 424.2 288.9 422.8 290.4 420.8 292.4 419.8 296.4 419.2 296.9 418.8 300.4 419.8 303.9 422.8 308.9 424.2 312.9 424.2 317.9 422.8 322.9 418.8 325.4 414.2 325.9 410.2 326.4 409.8 326.4 406.2 325.9 405.8 325.9 403.8 324.9 400.2 323.4 397.8 323.4 395.2 325.4 393.2 334.9 387.8 341.4 387.8 341.9 388.2 344.9 388.2 345.4 388.8 354.9 389.8 355.4 390.2 359.9 390.2 363.9 388.8 366.4 386.2 367.9 381.8 367.9 380.2 366.4 375.8 363.4 372.8 361.4 371.8 357.4 371.2 356.9 370.8 354.4 370.8 353.9 370.2 351.4 370.2 350.9 369.8 348.9 369.8 345.9 368.8 343.4 365.8 342.4 358.2 339.9 351.8 333.9 345.2 331.9 343.8 326.9 341.8 321.4 341.2 320.9 340.8 315.4 341.2 314.9 341.8 310.9 342.2 306.4 344.2 299.4 350.2 296.4 354.2 293.9 359.2 292.9 365.2 292.4 365.8 292.4 368.8 291.9 369.2 291.9 372.2 292.4 372.8 292.4 375.8 292.9 376.2 293.4 380.2 295.4 384.2 300.9 390.2 302.4 392.8 301.4 395.2 297.9 400.2 296.4 405.2 296.4 410.2 295.9 411.8 294.4 413.8 291.4 415.2 277.4 418.2 272.9 422.2 271.4 422.2 270.9 422.8 262.9 421.2 259.9 420.2 255.4 417.8 251.4 413.8 246.9 404.2 244.4 401.8 242.4 400.8 232.4 399.8 228.9 398.2 220.4 388.2 220.4 387.8 222.9 385.8 224.4 385.8 228.9 384.2 230.9 384.2 235.4 382.2 241.4 377.2 244.9 372.2 245.9 369.2 245.9 366.2 246.4 365.8 246.4 355.2 245.9 354.8 245.9 351.8 243.9 346.8 239.9 341.8 237.4 339.8 232.9 337.2 229.4 336.2 227.4 336.2 226.9 335.8 218.4 335.8 217.9 336.2 215.9 336.2 212.9 337.2 206.9 341.2 198.4 350.2 191.4 352.8ZM315.4 480.8 316.4 480.8 317.4 482.2 317.4 483.2 316.4 484.2 314.9 482.8 314.9 481.2Z"/>
<path fill="#b6ff00" fill-rule="evenodd" d="M188.9 475.2 188.9 478.2 194.4 494.2 198.4 497.8 205.4 501.2 206.4 501.2 207.9 502.2 214.4 502.2 215.4 502.8 217.9 506.2 219.9 507.8 222.9 507.8 224.9 506.2 226.4 502.2 226.4 499.2 226.9 498.8 227.9 489.8 228.9 486.2 235.9 475.8 238.4 473.8 241.9 473.2 246.4 471.8 247.9 470.8 252.9 465.2 254.9 459.8 255.4 452.8 256.9 450.2 259.4 450.2 262.4 451.2 266.9 453.8 273.4 454.8 275.4 455.8 279.4 459.2 283.4 465.8 285.4 467.8 291.4 471.2 300.9 472.8 303.4 473.8 314.9 474.8 325.4 480.2 327.4 482.2 327.9 483.8 327.9 488.8 330.4 495.2 332.4 497.8 337.9 501.2 341.4 501.8 341.9 502.2 344.9 502.2 345.4 501.8 347.4 501.8 350.4 500.8 354.4 498.2 356.4 496.2 357.9 493.2 358.4 489.2 358.9 488.8 358.9 485.2 359.4 484.8 359.4 478.2 358.4 475.2 356.4 472.8 352.9 470.8 346.4 468.8 337.4 467.8 316.4 459.2 299.4 457.8 296.4 456.2 292.9 452.2 291.9 450.2 292.4 448.2 294.4 446.8 296.4 446.8 296.9 446.2 302.9 446.2 303.9 445.8 305.9 443.8 307.9 439.8 307.9 436.8 307.4 435.8 300.4 429.8 295.4 427.8 290.4 427.8 289.9 427.2 284.9 427.2 284.4 426.8 280.9 426.8 280.4 426.2 269.9 425.8 269.4 425.2 267.4 425.2 266.9 424.8 265.4 424.8 260.9 423.2 258.9 423.2 258.4 422.8 255.9 422.8 255.4 422.2 242.9 421.8 240.4 423.2 235.4 424.8 234.9 425.8 234.9 429.2 235.4 429.8 235.9 434.2 238.4 439.8 238.4 440.8 231.9 447.2 229.4 451.8 228.4 455.2 228.4 457.8 227.9 458.2 228.4 465.8 225.9 468.8 219.4 470.8 216.9 470.8 216.4 470.2 208.4 470.2 207.9 469.8 200.4 470.2 190.4 473.2ZM238.9 403.8 235.9 406.2 235.4 410.2 238.4 417.2 241.9 420.2 243.9 420.2 245.9 417.8 246.9 415.2 246.4 410.2 244.9 406.2 242.9 404.2 241.9 403.8ZM211.4 393.8 209.4 395.8 208.4 398.2 208.9 401.8 211.4 404.8 215.9 406.8 220.9 406.8 224.4 404.2 225.4 401.8 224.9 401.2 224.9 399.8 223.4 396.2 220.9 393.8 217.4 392.2 214.9 392.2ZM326.4 345.2 324.4 345.2 323.9 344.8 315.9 344.8 308.4 347.2 304.4 350.2 300.9 354.2 297.4 360.2 296.4 363.8 296.4 365.8 295.9 366.2 295.9 375.2 296.4 375.8 296.9 379.2 298.4 382.2 302.9 387.2 311.9 392.8 311.4 393.8 306.4 395.8 302.4 399.2 300.4 402.8 299.9 406.8 299.4 407.2 299.9 412.2 300.9 414.8 304.4 418.8 308.4 420.8 313.9 420.8 317.4 419.2 319.4 417.8 321.4 415.2 322.9 411.2 322.9 404.8 321.9 401.8 319.9 398.8 313.4 393.2 313.9 392.8 324.4 389.8 330.4 385.8 334.4 384.2 344.9 385.2 345.4 385.8 351.4 386.2 354.9 387.2 359.4 387.2 361.9 386.2 364.4 383.2 364.4 378.8 361.4 375.2 356.9 373.8 345.4 372.2 341.4 370.8 339.9 368.8 339.4 361.2 336.9 353.8 331.9 348.2 329.9 346.8ZM266.4 345.2 263.9 347.2 262.4 349.8 262.4 355.2 263.4 357.2 265.4 359.2 270.4 361.2 273.9 361.2 274.4 360.8 276.4 360.8 280.4 358.2 282.4 354.8 282.4 350.2 281.4 348.2 278.9 345.8 272.9 343.8 268.9 344.2ZM242.9 352.2 239.4 346.2 235.4 342.2 231.4 340.2 227.9 339.2 225.9 339.2 225.4 338.8 219.9 338.8 219.4 339.2 215.4 339.8 210.9 342.2 200.9 352.8 194.4 354.8 190.9 356.8 188.9 358.8 184.9 365.2 183.4 369.2 183.4 371.2 184.9 374.8 187.4 377.2 192.4 379.2 193.9 379.2 198.9 381.2 200.4 381.2 209.4 384.2 214.4 384.2 219.4 382.2 223.9 382.2 224.4 381.8 229.4 381.2 235.4 378.2 240.4 373.2 242.4 369.8 243.4 366.2 243.4 363.2 243.9 362.8 243.9 358.2 243.4 357.8Z"/>
<path fill="#ffd800" fill-rule="evenodd" d="M338.4 472.2 336.4 473.2 332.9 476.8 331.9 479.2 331.9 489.2 334.4 494.2 335.9 495.8 340.9 498.2 347.9 498.2 351.9 496.2 354.9 492.2 355.9 489.2 355.9 486.2 356.4 485.8 355.9 479.8 354.4 476.8 351.9 474.2 345.9 471.8 340.4 471.8 339.9 472.2ZM230.9 472.2 230.4 471.8 227.9 471.8 225.9 472.8 224.4 472.8 219.9 474.2 203.4 473.2 202.9 473.8 200.9 473.8 193.9 475.8 192.9 476.8 192.9 479.2 197.4 492.2 199.4 494.2 208.9 498.8 212.4 498.8 215.4 497.8 217.4 495.8 219.4 490.2 221.4 486.8 229.9 477.8 230.9 475.8ZM308.4 464.2 307.9 465.2 307.9 467.8 308.4 468.8 309.9 469.8 311.4 469.8 311.9 470.2 315.9 469.2 316.9 467.8 316.9 465.2 314.9 463.2 311.9 462.8ZM286.4 459.2 285.4 460.2 285.4 463.2 286.9 464.8 288.9 464.8 289.9 463.8 289.9 461.2 288.9 459.8ZM246.9 444.2 243.9 443.8 243.4 444.2 239.4 444.8 235.4 447.8 232.4 452.2 231.4 455.2 231.4 457.2 230.9 457.8 230.9 461.8 231.4 462.2 231.4 464.2 232.9 468.2 234.9 469.8 236.4 470.2 241.9 470.2 246.4 468.2 248.9 465.8 250.9 462.8 252.4 457.8 252.4 451.8 250.9 447.8ZM258.4 426.8 256.4 427.8 254.4 429.8 253.4 431.8 252.9 436.8 253.4 437.2 253.9 440.8 255.4 443.2 259.4 446.8 263.9 448.2 266.9 447.8 269.9 445.2 271.4 441.2 271.4 436.8 270.4 433.2 268.9 430.8 265.4 427.8 262.4 426.8ZM309.4 398.2 306.9 399.2 304.4 401.8 302.9 404.8 302.4 408.8 302.9 409.2 302.9 411.2 304.4 414.2 306.9 416.8 309.4 417.8 312.9 417.8 316.4 416.2 318.4 414.2 319.9 410.8 319.9 405.2 318.9 402.8 316.4 399.8 313.4 398.2ZM325.9 348.8 320.4 348.2 319.9 347.8 319.4 348.2 315.4 348.2 309.4 350.8 304.9 354.8 300.4 362.2 299.4 365.8 299.4 369.2 298.9 369.8 299.9 377.2 302.4 381.8 305.4 384.8 311.4 387.8 318.9 387.8 319.4 387.2 320.9 387.2 325.4 385.2 329.9 381.8 333.9 379.8 339.4 378.2 339.4 377.2 336.9 374.2 335.9 371.2 335.9 366.2 336.4 365.2 335.9 364.8 335.9 360.8 334.9 357.8 332.9 354.2 329.4 350.8ZM239.9 353.2 237.4 348.8 233.4 344.8 230.4 343.2 226.9 342.2 224.4 342.2 223.9 341.8 216.4 342.8 212.9 344.8 207.4 350.2 205.9 352.8 203.9 354.8 198.9 356.8 195.9 357.2 192.4 359.2 190.4 361.8 187.4 367.8 186.9 371.2 187.9 373.2 190.9 375.2 209.4 380.8 213.9 380.8 218.4 378.8 226.4 378.8 229.9 377.8 233.4 375.8 237.9 371.2 239.4 368.8 240.4 365.8 240.4 363.2 240.9 362.8 240.9 358.2 240.4 357.8Z"/>
<path fill="#ff8c00" fill-rule="evenodd" d="M346.9 477.8 344.9 478.8 342.9 482.8 342.9 489.8 343.9 492.2 345.9 494.2 348.9 494.2 350.9 492.8 352.4 489.8 352.9 484.8 352.4 484.2 351.9 480.8 350.9 479.2 348.4 477.8ZM245.4 447.2 240.9 447.2 238.4 448.8 236.9 450.2 234.4 454.8 234.4 456.2 233.9 456.8 233.9 462.2 234.9 464.8 238.4 467.2 241.9 467.2 244.4 466.2 246.9 463.8 248.9 460.2 249.4 456.2 249.9 455.8 248.9 450.2ZM309.9 401.8 306.9 404.2 305.9 406.2 305.9 409.8 307.9 413.2 309.9 414.2 312.9 414.2 315.9 411.8 316.9 407.2 315.9 404.2 313.9 402.2 312.9 401.8ZM324.4 351.8 322.9 351.8 322.4 351.2 314.9 351.8 310.9 353.8 306.4 358.2 304.4 361.2 302.4 367.8 302.4 373.8 303.4 377.2 305.4 380.2 309.9 383.8 313.4 384.8 316.9 384.8 317.4 384.2 320.9 383.8 325.9 380.8 328.9 377.8 331.4 373.8 332.4 370.8 332.4 368.8 332.9 368.2 332.4 360.2 329.9 355.8 327.9 353.8ZM237.4 355.2 234.4 349.8 230.9 346.8 224.4 344.8 218.4 345.2 213.9 347.8 210.4 351.2 208.4 354.8 205.9 357.2 195.4 360.8 193.4 362.8 192.4 365.2 192.9 368.2 194.4 369.8 196.9 370.8 199.4 370.8 204.4 369.2 208.4 369.2 213.9 373.8 216.9 375.2 218.9 375.2 219.4 375.8 225.9 375.8 226.4 375.2 227.9 375.2 232.4 372.8 234.9 370.2 236.9 366.8 237.9 363.2Z"/>
<path fill="#ff4b00" fill-rule="evenodd" d="M243.9 450.8 241.4 451.2 238.9 453.8 237.9 455.8 237.4 460.8 238.9 463.2 241.9 463.2 243.4 462.2 245.4 459.2 245.9 457.8 245.9 452.8ZM321.9 354.2 317.9 354.2 314.4 355.2 309.4 359.2 306.9 363.2 305.4 368.2 305.4 373.2 307.4 377.8 310.9 380.8 313.9 381.8 316.4 381.8 316.9 381.2 318.9 381.2 321.9 379.8 325.9 376.2 328.9 371.2 329.4 367.8 329.9 367.2 329.4 361.2 327.9 358.2 325.4 355.8ZM219.9 347.8 215.9 349.8 211.9 354.2 209.9 359.2 209.9 363.2 211.9 367.2 215.4 370.8 219.4 372.8 224.4 373.2 228.9 371.8 232.9 368.2 234.9 363.8 234.9 356.8 233.4 353.2 231.9 351.2 229.4 349.2 225.4 347.8Z"/>
<path fill="#ff0000" fill-rule="evenodd" d="M321.9 357.8 316.9 357.8 314.9 358.8 312.4 360.8 309.4 365.8 308.9 369.2 308.4 369.8 308.9 373.8 309.9 375.8 313.4 378.2 317.4 378.2 319.9 377.2 323.4 374.2 325.4 371.2 326.4 368.2 326.4 366.2 326.9 365.8 326.4 362.2 325.4 360.2ZM220.4 350.8 216.4 353.2 213.9 357.2 213.9 359.8 213.4 360.2 213.9 361.2 213.9 363.8 214.9 365.8 217.9 368.8 219.9 369.8 223.9 370.2 227.9 368.8 230.9 365.8 231.9 363.2 231.9 357.2 230.4 354.2 228.4 352.2 224.9 350.8Z"/>
<path d="M171.7 425.3H374.3M273.0 324.0V526.6" stroke="#000" stroke-width="1.3" fill="none"/>
</g>
<circle cx="273.0" cy="425.3" r="101.3" fill="none" stroke="#333" stroke-width="1"/>
<g clip-path="url(#c4)"><rect x="422.4" y="322.3" width="206.6" height="206.6" fill="#0000ff"/>
<path fill="#04906e" fill-rule="evenodd" d="M604.2 478.1 602.7 478.6 600.2 481.1 599.2 483.6 599.2 485.1 599.7 485.6 599.7 487.1 602.2 489.6 604.7 490.6 606.2 490.6 608.2 489.6 610.2 487.6 611.2 484.1 610.2 481.1 607.7 478.6 606.7 478.1ZM445.2 361.6 444.2 362.1 441.7 365.1 441.7 369.1 443.7 372.1 446.7 373.1 449.2 372.1 450.2 371.1 451.2 368.6 451.2 365.6 448.7 362.1 447.7 361.6ZM564.7 318.6 549.2 318.6 547.7 320.6 543.2 323.6 539.7 327.1 537.2 330.6 534.7 336.6 534.7 338.1 533.7 340.6 533.7 344.1 533.2 344.6 533.2 353.1 532.2 356.1 527.7 365.1 524.7 368.6 523.7 368.1 522.7 366.1 522.2 362.1 521.7 361.6 521.2 350.1 521.7 349.6 521.7 346.1 522.2 345.6 522.2 337.1 521.2 333.6 519.7 331.1 512.7 324.6 507.2 321.6 503.7 320.6 499.7 321.1 496.7 322.6 492.7 326.6 488.7 333.1 487.7 336.6 487.7 340.1 487.2 340.6 487.7 341.1 487.7 345.1 489.7 350.6 490.2 356.1 490.7 356.6 490.7 364.1 491.2 364.6 491.2 374.6 491.7 375.1 491.7 377.6 494.2 385.1 494.2 386.6 495.7 391.1 495.7 393.6 496.2 394.1 496.2 402.6 495.7 403.1 495.7 406.1 495.2 406.6 495.2 408.6 493.7 410.6 492.2 411.1 489.7 411.1 489.2 410.6 481.2 410.6 476.7 412.6 473.2 415.1 467.2 418.1 462.7 418.6 456.2 416.6 453.2 413.6 451.2 408.6 447.2 403.1 443.7 399.6 439.2 396.6 432.2 394.6 429.2 394.6 428.7 394.1 418.7 395.1 418.7 456.1 420.7 456.1 423.7 457.1 431.2 457.1 431.7 456.6 437.7 455.6 444.2 452.6 453.2 452.1 453.7 451.6 456.2 451.6 463.2 449.6 469.2 445.6 471.7 442.1 474.2 436.1 477.2 433.1 480.7 432.6 481.2 432.1 486.7 432.1 492.7 429.6 499.7 429.6 500.2 430.1 503.7 430.1 504.2 430.6 514.7 431.6 515.2 432.1 527.7 432.1 532.7 435.1 546.2 439.1 550.2 441.6 549.7 443.1 544.7 444.6 539.7 447.6 536.2 451.1 533.2 457.1 531.2 459.1 524.7 459.1 524.2 458.6 520.7 458.6 520.2 458.1 516.7 458.1 516.2 457.6 511.7 457.1 509.7 455.1 510.2 447.1 508.7 444.6 506.2 443.1 503.2 443.1 500.7 444.6 497.2 450.1 494.7 452.1 490.2 451.6 487.7 449.6 482.2 447.6 474.2 448.1 468.7 451.6 466.2 456.1 465.2 459.6 465.2 461.6 464.7 462.1 465.2 467.1 466.7 471.6 469.7 475.6 473.7 478.1 477.2 479.1 485.7 479.1 488.7 482.1 491.2 488.1 496.7 496.1 501.2 504.1 501.2 505.6 498.7 507.1 487.2 507.1 486.7 507.6 484.7 507.6 481.7 508.6 479.2 510.1 475.7 513.5 474.2 517.0 474.2 520.0 475.2 523.0 478.7 527.0 484.7 530.0 486.2 530.0 489.7 531.5 495.2 531.5 504.7 528.0 506.2 527.0 509.7 523.0 510.2 521.5 510.2 513.5 511.7 512.0 516.7 513.0 518.2 514.0 524.7 516.0 529.2 515.5 532.7 514.0 535.7 514.0 537.2 515.0 539.2 519.5 541.7 521.0 546.2 522.5 550.2 521.5 560.7 516.5 561.7 515.5 561.7 513.0 553.7 497.6 553.2 493.6 554.2 491.1 558.7 484.1 563.7 478.6 567.2 473.6 569.2 467.6 569.2 461.1 568.7 460.6 568.2 456.6 566.2 452.1 562.2 446.6 562.7 445.1 563.7 444.6 566.7 444.6 567.2 445.1 570.7 445.1 571.2 445.6 574.7 446.1 582.7 450.6 586.2 451.6 588.2 451.6 588.7 452.1 595.2 451.6 598.7 450.6 602.7 448.6 605.2 448.1 609.2 449.6 614.7 453.6 618.2 454.6 620.2 454.6 620.7 455.1 629.2 455.1 629.7 454.6 632.7 454.6 632.7 397.1 628.2 396.6 627.7 396.1 622.2 396.1 621.7 396.6 619.7 396.6 614.7 398.1 610.2 401.1 605.7 405.6 603.2 409.1 601.7 412.6 599.7 414.6 598.7 415.1 596.2 415.1 595.7 414.6 592.7 414.6 592.2 414.1 588.7 414.1 588.2 414.6 583.7 415.1 580.2 416.6 571.2 416.1 562.2 413.1 559.7 410.6 556.2 404.6 552.7 401.1 552.2 400.1 552.2 397.1 553.2 393.6 554.2 381.1 554.7 380.6 555.2 377.1 559.2 369.6 563.7 365.1 566.7 363.1 572.7 356.1 575.2 350.6 575.2 349.1 576.2 346.6 576.2 344.1 576.7 343.6 576.7 337.6 576.2 337.1 576.2 334.6 575.2 331.1 572.2 326.1 568.2 322.6Z"/>
<path fill="#22ff00" fill-rule="evenodd" d="M477.2 517.0 477.2 520.5 478.2 522.5 480.7 525.0 485.2 527.0 489.7 527.5 490.2 528.0 497.7 527.5 504.2 525.0 506.7 522.5 507.7 519.0 506.7 515.0 503.7 512.0 502.2 511.1 499.2 510.1 496.7 510.1 496.2 509.6 489.2 509.6 488.7 510.1 486.2 510.1 481.2 512.0 478.2 515.0ZM470.2 455.1 467.7 461.6 467.7 465.1 470.2 471.6 473.2 474.6 477.2 476.1 483.2 476.1 485.7 475.1 487.7 475.1 490.2 477.6 494.2 487.1 505.7 504.6 507.2 506.1 511.2 508.1 512.2 508.1 513.7 509.1 516.2 509.6 523.2 512.5 528.2 512.5 533.2 510.6 538.7 509.6 540.7 508.6 543.2 506.1 546.2 501.1 548.7 495.6 548.7 494.6 552.7 487.6 554.7 485.1 555.2 483.6 563.2 474.1 564.7 471.6 564.7 470.6 565.7 469.1 565.7 466.6 566.2 466.1 565.7 459.1 563.7 454.1 558.7 449.1 552.7 447.1 546.7 447.6 541.7 450.1 537.7 454.6 536.2 459.6 533.7 462.6 527.2 462.6 523.7 461.6 520.2 461.6 519.7 461.1 516.2 461.1 515.7 460.6 512.2 460.6 511.7 460.1 506.7 459.6 505.2 457.1 507.7 450.6 507.7 448.6 506.7 446.6 505.7 446.1 502.7 446.6 500.7 449.1 499.7 451.6 497.2 454.1 495.2 455.1 490.2 455.1 485.2 451.6 482.2 450.6 477.2 450.6 476.7 451.1 475.2 451.1 472.7 452.6ZM632.7 400.6 630.2 400.6 627.2 399.6 622.7 399.6 622.2 400.1 618.2 400.6 614.2 402.6 608.7 407.6 605.2 413.6 604.2 417.1 601.2 419.6 594.2 417.6 586.7 417.6 581.7 419.6 576.7 420.1 576.2 419.6 573.2 419.6 572.7 419.1 568.7 418.6 559.7 415.6 556.7 412.1 556.7 411.1 554.7 407.6 552.2 405.1 547.7 402.1 547.7 399.1 548.7 397.6 549.7 394.1 550.7 382.6 551.2 382.1 551.2 379.1 552.2 375.6 557.7 365.6 559.7 363.6 564.2 360.6 567.7 357.1 571.2 351.6 572.7 346.6 572.7 344.6 573.2 344.1 573.2 337.1 572.7 336.6 572.2 333.1 570.7 330.1 566.2 325.1 560.7 322.6 553.2 322.6 552.7 323.1 551.2 323.1 545.7 326.1 540.7 331.6 537.7 338.6 537.2 343.6 536.7 344.1 536.7 354.1 535.7 357.1 529.7 369.1 529.2 372.6 528.7 373.1 527.7 383.1 526.7 386.1 525.2 387.6 522.7 384.1 520.2 375.1 519.7 370.1 519.2 369.6 518.7 361.6 518.2 361.1 518.2 354.6 517.7 354.1 518.2 347.6 519.2 344.6 519.2 337.6 518.7 337.1 518.7 335.6 516.2 331.6 509.2 326.1 505.2 324.1 500.7 324.1 497.7 325.6 495.7 327.6 492.2 333.1 490.7 337.1 490.7 344.6 493.2 350.6 493.2 352.6 493.7 353.1 494.7 376.1 497.2 383.6 497.2 385.1 498.7 389.6 498.7 391.6 499.2 392.1 499.2 394.1 499.7 394.6 499.7 401.1 499.2 401.6 499.2 404.6 498.7 405.1 498.7 411.6 498.2 412.6 496.2 414.1 490.7 414.1 487.7 413.1 481.7 413.1 478.2 414.6 469.7 420.1 468.7 420.1 465.7 421.6 461.7 421.6 459.7 420.6 453.2 419.1 450.7 417.1 447.2 409.1 444.2 405.1 438.7 400.6 431.2 398.1 423.7 398.1 423.2 398.6 418.7 399.1 418.7 452.6 421.7 452.6 424.7 453.6 430.2 453.6 430.7 453.1 432.7 453.1 437.7 451.6 441.7 449.6 453.2 449.1 453.7 448.6 456.2 448.6 459.7 447.6 465.2 444.6 468.2 441.6 470.7 437.1 471.7 434.1 474.7 431.1 478.7 429.6 485.7 429.6 493.2 426.6 501.7 427.1 502.2 427.6 505.7 427.6 506.2 428.1 509.2 428.1 509.7 428.6 512.7 428.6 513.2 429.1 517.2 429.1 517.7 429.6 522.7 429.6 525.2 428.6 528.7 428.6 534.7 432.6 541.2 434.1 543.2 435.1 544.7 435.1 546.7 436.1 548.2 436.1 551.7 437.6 553.2 437.6 562.2 440.6 575.7 443.1 579.2 444.6 582.7 447.1 586.7 448.6 589.7 448.6 590.2 449.1 591.2 448.6 594.2 448.6 597.7 447.6 603.7 444.6 607.7 444.6 610.7 446.1 614.2 449.1 618.7 451.1 620.7 451.1 621.2 451.6 632.7 451.1Z"/>
<path fill="#b6ff00" fill-rule="evenodd" d="M480.7 517.0 480.7 520.0 482.7 522.5 487.7 524.5 493.2 525.0 493.7 524.5 498.7 524.0 502.2 522.5 504.2 520.0 504.2 517.5 501.7 514.5 498.2 513.0 495.2 513.0 494.7 512.5 490.2 512.5 489.7 513.0 485.2 513.5 483.2 514.5ZM563.2 462.1 562.7 461.6 562.2 458.1 560.7 455.1 557.7 452.1 552.7 450.1 549.2 450.1 545.7 451.1 541.7 454.1 539.7 457.6 538.2 464.1 536.2 466.1 529.7 466.1 529.2 465.6 526.7 465.6 523.2 464.6 519.7 464.6 519.2 464.1 515.2 464.1 514.7 463.6 505.7 463.6 505.2 464.1 502.7 464.1 502.2 464.6 499.7 464.6 499.2 465.1 492.7 466.1 490.7 465.1 489.7 462.6 489.2 459.1 486.2 455.6 482.7 453.6 479.2 453.1 474.7 454.6 472.2 457.1 470.7 460.6 470.7 466.1 472.2 469.6 474.7 472.1 476.7 473.1 480.7 473.6 481.2 473.1 483.2 473.1 488.2 470.1 489.7 470.6 491.2 472.1 493.2 476.1 493.2 477.1 496.7 485.1 507.2 501.1 509.7 503.6 513.7 505.6 518.7 507.1 522.7 509.1 527.2 509.6 534.7 507.1 537.7 505.6 540.2 503.1 553.7 480.1 561.2 471.6 563.2 466.1ZM478.2 419.1 477.7 420.1 477.7 423.6 479.7 426.1 482.7 427.1 486.2 426.6 488.2 425.6 490.7 422.1 490.2 419.1 486.7 416.1 481.7 416.1ZM632.7 447.6 632.7 404.1 630.2 404.1 627.2 403.1 622.7 403.1 617.7 404.6 614.7 406.6 611.2 410.1 609.2 413.1 606.2 421.6 603.7 423.6 600.7 423.6 593.7 420.6 587.2 420.6 581.2 423.1 575.2 423.1 574.7 422.6 570.2 422.1 564.2 420.1 562.7 420.1 557.2 418.1 555.2 416.1 552.7 409.6 549.2 406.6 546.2 405.6 540.2 405.6 539.2 406.1 536.7 408.6 533.2 414.1 530.2 416.6 529.2 418.6 529.2 421.6 530.2 424.6 533.2 428.1 535.7 429.6 540.2 430.6 542.2 431.6 543.7 431.6 545.7 432.6 547.2 432.6 549.2 433.6 550.7 433.6 552.7 434.6 554.2 434.6 562.7 437.6 576.7 440.1 587.2 445.6 589.7 445.6 590.2 446.1 594.2 445.6 603.7 441.1 609.2 441.1 612.7 443.1 616.2 446.1 619.2 447.6 620.7 447.6 621.2 448.1ZM418.7 402.6 418.7 448.6 422.2 449.6 424.2 449.6 424.7 450.1 430.2 450.1 442.2 446.1 443.7 446.1 444.2 446.6 454.7 446.1 460.7 444.1 463.7 442.1 466.2 439.6 467.7 437.1 467.7 435.6 468.2 435.1 468.2 430.1 466.7 427.6 465.2 426.1 459.7 423.6 454.7 422.6 454.2 422.1 452.2 422.1 448.7 420.6 446.7 417.6 446.7 416.6 444.2 411.1 439.7 405.6 434.7 402.6 431.2 401.6 423.7 401.6 421.2 402.6ZM501.7 328.6 499.2 329.6 494.7 334.6 493.2 338.6 493.2 342.6 494.7 347.1 496.2 349.6 496.7 353.6 497.2 354.1 497.2 359.1 497.7 359.6 497.7 369.6 497.2 370.1 497.2 372.1 497.7 372.6 497.7 375.6 500.7 383.6 500.7 385.1 502.7 391.6 502.7 393.6 503.2 394.1 503.2 399.6 502.7 400.1 502.7 402.6 501.7 406.1 502.2 414.1 503.7 418.6 507.7 422.6 512.2 424.6 518.7 424.6 523.2 422.6 526.2 419.6 528.2 416.6 528.7 415.1 528.7 403.1 526.7 398.1 522.7 393.6 520.2 389.1 518.2 380.1 517.7 379.6 517.7 377.6 517.2 377.1 516.7 370.6 516.2 370.1 516.2 367.6 515.2 364.1 515.2 360.6 514.7 360.1 514.7 348.6 516.7 342.1 516.2 337.1 513.7 333.1 510.7 330.6 506.2 328.6ZM562.2 326.6 558.7 325.6 555.2 325.6 550.2 327.1 545.2 331.1 542.7 334.6 541.2 338.1 541.2 339.6 540.2 342.1 540.2 354.6 539.2 357.6 533.7 368.1 532.2 372.6 531.2 385.1 530.7 385.6 530.7 389.6 530.2 390.1 530.2 394.6 531.7 398.1 534.7 400.6 536.2 401.1 540.7 400.6 545.2 396.6 546.7 392.1 547.2 383.6 547.7 383.1 547.7 379.6 548.2 379.1 548.7 375.1 554.7 363.6 557.7 360.6 563.2 357.1 566.2 353.6 568.2 350.1 569.7 345.1 569.7 342.6 570.2 342.1 569.7 336.1 568.7 333.1 566.7 330.1 564.7 328.1Z"/>
<path fill="#ffd800" fill-rule="evenodd" d="M510.2 471.6 508.2 473.6 506.2 477.6 506.2 482.6 508.2 486.6 511.7 489.6 516.7 491.6 522.2 491.6 527.7 489.6 532.2 484.6 533.2 481.1 532.7 477.1 531.2 474.1 528.2 471.1 523.7 469.1 517.2 468.6 513.7 469.6ZM478.2 457.1 475.7 458.6 474.2 462.1 474.2 464.6 476.2 468.6 477.7 469.6 481.7 469.6 482.7 469.1 485.2 466.1 485.2 464.1 485.7 463.6 485.2 460.6 483.2 458.1 481.2 457.1ZM548.7 453.1 546.2 454.1 544.2 455.6 541.7 460.6 541.2 466.6 542.2 469.6 544.7 472.6 547.7 474.1 551.7 474.6 555.7 473.1 559.2 469.1 560.2 466.1 560.2 461.1 559.2 458.1 556.2 454.6 553.2 453.1ZM564.7 425.6 563.2 426.1 561.2 428.1 561.2 431.6 562.7 433.1 566.2 434.1 567.7 433.6 569.7 431.6 569.7 428.1 567.7 426.1ZM588.7 423.1 584.2 425.1 580.7 428.1 579.7 430.6 579.7 435.1 580.7 437.6 585.2 441.6 588.7 443.1 592.2 443.1 596.2 441.6 600.2 438.1 601.2 436.1 601.7 432.1 600.2 428.1 597.7 425.6 594.2 423.6ZM542.2 409.1 538.2 412.6 537.2 415.1 537.2 418.1 538.7 420.6 541.7 422.6 543.2 423.1 547.7 422.6 548.7 422.1 551.2 419.1 551.2 414.1 550.7 412.6 548.7 410.1 546.7 409.1ZM622.2 406.6 619.2 407.6 615.7 410.1 612.2 414.6 609.2 424.1 609.2 431.1 611.2 436.6 615.7 441.6 620.7 444.6 626.2 445.1 626.7 444.6 629.2 444.6 632.7 443.6 632.7 407.6 630.2 407.6 627.7 406.6ZM418.7 406.6 418.7 445.1 420.2 445.1 424.2 446.6 431.2 446.6 434.2 445.6 438.7 443.1 446.7 443.1 447.2 443.6 453.7 443.1 459.7 441.1 463.7 437.6 464.7 435.6 464.7 432.1 464.2 431.1 461.2 428.1 457.2 426.1 446.7 424.1 444.2 421.1 442.7 415.6 441.2 412.6 436.7 407.6 433.2 405.6 429.7 405.1 429.2 404.6 425.7 404.6ZM512.7 394.6 510.2 395.6 507.2 398.6 505.2 403.1 504.7 410.1 506.7 416.1 510.2 419.6 513.7 421.1 516.7 421.1 520.7 419.6 524.2 415.6 525.7 411.6 525.7 404.6 524.2 400.6 521.2 396.6 517.7 394.6ZM506.2 365.1 504.7 365.6 501.7 368.6 501.2 370.1 501.2 375.1 502.2 377.1 504.2 379.1 505.2 379.6 508.7 379.6 512.2 376.6 513.2 372.1 512.2 368.6 511.2 367.1 509.2 365.6ZM502.7 332.6 499.7 334.1 497.7 336.1 496.2 340.1 496.7 343.6 499.7 347.6 503.2 349.1 506.7 349.1 510.2 347.6 512.7 344.6 513.2 343.1 513.2 338.1 511.7 335.6 509.2 333.6 506.7 332.6ZM560.2 329.1 555.7 328.6 551.2 330.1 546.7 334.1 544.7 337.6 543.2 342.6 543.2 349.6 543.7 350.1 543.7 352.1 545.2 355.1 546.7 356.6 549.7 358.1 553.7 358.6 558.7 356.6 562.7 353.1 565.7 348.1 566.7 344.6 566.7 341.6 567.2 341.1 566.2 335.1 564.7 332.6 562.7 330.6Z"/>
<path fill="#ff8c00" fill-rule="evenodd" d="M517.7 476.1 515.2 478.1 514.2 480.1 514.2 482.6 514.7 483.6 516.7 485.6 519.2 486.6 521.7 486.6 524.2 485.6 526.7 482.6 526.7 479.6 526.2 478.6 523.2 476.1 521.7 476.1 521.2 475.6ZM549.2 456.1 547.2 457.1 545.2 459.6 544.7 461.1 544.7 466.1 545.7 468.1 547.7 470.1 548.7 470.6 552.7 470.6 555.7 468.6 557.2 465.6 557.2 461.6 556.2 459.1 553.7 456.6 552.7 456.1ZM589.7 426.1 586.2 427.6 584.7 429.1 583.7 431.1 583.7 435.1 585.2 437.6 589.2 440.1 591.7 440.1 594.2 439.1 596.7 436.6 597.7 432.6 596.7 429.6 594.2 427.1 591.7 426.1ZM622.7 409.6 618.2 412.1 614.7 416.6 613.2 421.1 613.2 423.6 612.7 424.1 613.2 431.1 615.2 436.1 618.2 439.6 621.7 441.6 628.2 441.6 631.2 440.1 632.7 440.1 632.7 411.6 627.2 409.6ZM427.2 407.6 426.7 408.1 424.2 408.1 418.7 410.6 418.7 441.1 425.2 443.6 430.2 443.6 434.7 441.6 438.7 438.1 440.7 434.1 441.7 430.6 441.7 424.1 441.2 423.6 441.2 421.6 439.7 416.6 437.7 413.1 434.2 409.6 430.7 408.1 428.2 408.1ZM513.2 398.1 510.2 400.1 507.7 405.1 507.7 411.1 509.2 414.6 511.7 417.1 513.7 418.1 516.7 418.1 519.2 417.1 521.2 415.1 522.7 412.1 523.2 406.6 522.7 406.1 522.7 404.1 521.2 401.1 518.7 398.6 517.7 398.1ZM558.7 332.1 554.7 332.1 551.7 333.6 549.7 335.6 547.2 340.1 546.7 343.6 546.2 344.1 546.2 347.6 547.2 351.1 548.2 352.6 550.2 354.1 554.7 354.6 557.2 353.6 560.2 351.1 562.7 347.1 563.7 343.6 563.7 338.1 562.2 334.6Z"/>
<path fill="#ff4b00" fill-rule="evenodd" d="M623.7 412.6 620.7 414.1 618.7 416.1 617.2 418.6 616.2 422.1 616.2 429.6 618.7 435.6 620.7 437.6 622.7 438.6 627.2 438.6 631.7 436.1 632.7 436.1 632.7 415.6 631.7 415.6 627.7 413.1ZM425.2 411.1 418.7 414.6 418.7 437.1 425.7 440.6 429.7 440.6 432.7 439.1 436.7 434.6 438.2 430.1 438.2 422.1 437.2 418.6 433.7 413.1 430.2 411.1ZM514.7 401.6 513.7 402.1 511.7 404.6 511.2 406.1 511.2 410.1 513.2 413.6 514.2 414.1 516.7 414.1 518.7 412.1 519.2 410.6 519.2 405.6 518.7 404.1 516.7 402.1Z"/>
<path d="M424.4 425.6H627.0M525.7 324.3V526.9" stroke="#000" stroke-width="1.3" fill="none"/>
</g>
<circle cx="525.7" cy="425.6" r="101.3" fill="none" stroke="#333" stroke-width="1"/>
<g clip-path="url(#c5)"><rect x="667.2" y="321.5" width="206.6" height="206.6" fill="#0000ff"/>
<path fill="#04906e" fill-rule="evenodd" d="M695.5 317.8 695.0 319.8 691.5 323.2 685.0 328.2 676.0 337.2 666.0 348.8 663.5 349.8 663.5 500.8 666.5 502.2 675.5 512.8 683.0 520.2 693.5 529.2 694.5 530.8 694.5 531.8 845.0 531.8 845.5 529.8 849.5 525.8 856.0 520.8 864.5 512.2 871.5 503.8 876.0 499.2 877.5 498.8 877.5 351.8 876.0 351.2 871.0 346.2 864.0 337.8 854.0 327.8 848.5 323.8 844.5 319.8 844.0 317.8ZM832.0 494.8 832.0 497.8 829.0 503.2 826.0 506.8 822.0 508.8 810.5 512.8 809.0 513.8 804.5 515.2 802.5 515.2 799.5 512.2 797.0 507.2 795.5 500.2 795.0 499.8 793.5 491.2 794.0 489.8 796.0 488.2 805.0 486.8 805.5 486.2 808.0 486.2 808.5 485.8 811.5 485.8 817.5 487.8 826.0 491.8 827.0 491.8ZM717.5 483.8 720.0 482.8 731.0 481.8 732.5 482.2 734.5 484.2 736.0 493.8 738.0 500.2 738.0 507.8 737.5 508.2 737.0 513.2 736.0 514.8 733.0 515.2 725.5 512.8 722.5 510.8 711.5 500.8 710.5 498.8 711.0 495.8 716.0 485.2ZM786.5 465.2 787.0 469.2 787.5 469.8 787.5 475.8 787.0 476.8 785.5 477.8 773.5 479.2 773.0 479.8 771.0 479.8 769.0 480.8 765.5 481.2 763.5 482.2 758.5 482.8 758.0 483.2 744.5 483.2 743.0 482.8 741.0 480.8 741.0 476.2 743.0 472.8 749.5 465.2 755.5 459.8 766.0 456.8 771.5 456.8 784.5 462.8ZM693.5 444.8 696.5 445.2 699.0 447.8 700.0 449.8 700.0 454.2 698.0 456.8 695.5 456.8 694.5 456.2 692.5 454.2 691.5 452.2 691.0 448.2 691.5 446.8ZM867.0 434.2 868.5 435.8 868.5 437.2 869.0 437.8 869.0 442.2 869.5 442.8 869.5 449.2 869.0 450.8 859.0 467.8 852.5 474.8 850.5 475.8 849.0 474.8 847.5 471.2 847.5 466.2 848.0 465.8 848.0 462.8 848.5 462.2 848.5 459.8 849.5 456.2 855.5 444.8 859.0 439.2 864.0 435.2ZM787.0 429.8 788.0 428.8 792.0 428.8 792.5 429.2 800.5 429.8 801.0 430.2 812.0 430.2 812.5 430.8 814.5 430.8 816.5 432.2 816.5 435.2 816.0 435.8 816.0 437.8 815.0 441.2 814.0 443.2 810.5 446.2 807.5 447.2 803.0 449.8 799.5 450.2 795.0 447.2 792.0 443.8 787.0 432.8ZM781.0 420.8 780.5 421.8 779.0 421.8 778.5 422.2 765.5 422.8 760.5 424.8 759.5 425.8 759.5 429.2 760.5 431.8 760.5 436.2 759.0 438.8 755.0 441.8 752.0 440.8 750.5 439.2 747.5 437.8 744.5 437.2 741.0 438.8 738.0 441.8 735.5 445.2 732.5 447.8 729.5 448.8 726.0 448.8 723.0 446.2 721.0 443.2 719.0 438.2 718.5 432.8 721.0 430.8 724.5 430.8 725.0 430.2 736.0 430.2 736.5 429.8 740.0 429.2 746.5 426.2 744.5 425.2 742.5 422.8 739.5 412.8 739.5 408.8 740.0 407.8 742.0 406.2 744.0 406.2 757.5 411.2 759.0 411.2 769.5 414.2 776.0 417.2 777.0 418.2 779.5 419.2ZM803.0 399.2 805.5 399.2 807.5 401.2 808.5 403.2 808.0 407.8 806.0 410.2 803.0 410.2 802.0 409.8 800.0 406.2 800.5 402.2ZM702.0 394.2 705.0 394.8 707.0 396.8 708.0 399.2 707.0 403.2 704.0 405.8 701.5 405.8 700.5 405.2 698.0 401.8 698.0 398.2 699.0 396.2ZM832.5 395.2 834.0 392.8 837.0 390.8 838.5 390.2 844.0 390.2 846.5 391.2 849.5 394.2 850.0 395.2 850.0 397.8 849.0 399.8 845.5 402.2 844.0 402.8 838.5 402.8 835.0 401.2 833.5 399.8 832.5 397.8ZM686.5 377.8 687.5 378.8 687.5 380.2 688.0 380.8 687.5 383.2 685.5 387.2 679.5 396.2 676.0 403.2 675.5 405.2 673.5 406.8 672.5 405.2 673.0 402.2 679.0 385.8 681.5 381.8 685.5 377.8ZM798.5 333.8 807.5 334.2 812.5 336.2 826.0 347.2 831.0 352.2 831.5 353.8 831.0 357.2 830.0 359.2 828.0 367.8 824.0 376.8 818.5 381.8 810.5 386.2 807.0 387.2 798.5 387.2 795.0 385.8 787.5 376.8 786.0 373.2 786.0 370.8 785.5 370.2 785.5 367.2 785.0 366.8 785.5 361.8 792.5 351.8 794.5 347.8 795.5 344.2 796.5 335.8ZM742.0 333.2 743.5 334.8 745.5 339.8 745.5 341.2 746.5 343.2 746.5 344.8 749.5 355.2 749.5 357.2 750.5 359.8 750.5 362.8 751.0 363.2 751.0 372.2 750.5 372.8 750.5 374.2 746.5 377.8 741.0 380.2 739.0 380.2 738.5 380.8 722.0 380.8 721.5 380.2 720.0 380.2 718.0 378.2 714.5 370.8 714.5 369.8 707.5 357.2 707.5 354.8 707.0 354.2 707.5 353.8 707.5 351.8 709.5 349.2 727.0 337.8 736.0 334.2 737.5 334.2 739.5 333.2Z"/>
<path fill="#22ff00" fill-rule="evenodd" d="M701.0 317.8 701.0 319.2 696.5 323.8 688.0 330.2 677.5 340.8 666.0 354.2 663.5 354.8 663.5 495.8 665.0 495.8 666.5 496.8 677.0 509.2 686.5 518.8 693.0 524.2 695.5 525.8 699.5 529.8 700.0 531.8 840.0 531.8 840.5 529.2 845.0 524.8 853.0 518.8 867.0 504.2 872.0 497.2 875.0 494.2 877.5 493.2 877.5 451.8 876.0 452.8 873.0 457.2 864.0 472.8 853.0 483.8 851.0 484.8 847.5 484.8 846.5 484.2 843.5 480.8 841.0 474.2 841.0 467.8 841.5 467.2 842.5 459.2 843.0 458.8 843.0 456.8 844.0 453.8 848.0 446.2 849.0 442.8 851.5 437.8 857.0 431.8 867.5 425.8 871.5 425.8 874.0 427.8 875.0 429.8 875.5 433.8 876.0 434.2 876.0 436.8 877.0 440.2 877.5 440.2 877.5 356.8 876.0 356.8 874.5 355.8 858.5 336.8 851.0 329.8 843.0 323.8 839.0 319.8 838.5 317.8ZM692.0 439.8 696.5 439.8 698.0 440.2 702.5 444.2 704.0 447.2 705.0 450.8 705.0 455.2 703.0 459.2 699.5 461.8 695.0 461.8 692.5 460.8 688.5 456.8 686.5 452.2 686.5 446.2 688.0 442.8 690.0 440.8ZM712.0 427.2 715.0 425.2 731.0 424.2 734.0 422.8 735.0 419.2 734.5 418.8 734.5 416.2 733.5 413.2 733.0 408.2 733.5 407.8 733.5 406.2 736.0 401.8 738.5 399.2 740.0 398.8 744.0 399.2 749.0 401.8 757.5 404.8 765.0 405.8 772.0 407.8 777.5 410.2 778.5 411.2 786.0 415.2 796.0 418.8 799.5 421.8 803.0 423.2 813.0 423.8 813.5 424.2 816.0 424.2 821.0 425.8 824.0 429.2 824.0 432.8 819.0 447.2 815.5 450.8 812.5 452.8 803.0 457.2 797.0 457.2 792.5 454.8 787.0 448.8 785.5 445.8 782.5 436.8 780.0 431.8 778.5 429.8 776.5 428.8 770.5 428.8 767.5 430.8 766.5 438.8 759.5 448.2 759.0 450.2 760.5 450.8 762.5 450.8 763.0 450.2 771.0 450.2 781.0 453.2 789.5 457.2 792.0 459.8 793.0 462.8 793.0 466.2 793.5 466.8 793.5 469.2 794.0 469.8 794.0 471.8 795.0 474.8 795.0 477.2 796.0 479.8 797.0 480.2 802.0 480.2 802.5 479.8 807.5 479.2 808.0 478.8 812.5 478.8 820.0 481.2 822.5 482.8 826.0 483.8 837.0 488.8 840.0 491.8 840.5 495.8 839.0 498.8 839.0 499.8 838.0 500.8 834.5 507.8 830.5 512.2 827.0 514.2 822.0 515.8 820.5 516.8 815.5 518.2 806.0 522.2 800.0 522.8 798.0 521.8 796.0 519.8 791.0 510.8 790.0 507.8 790.0 505.8 789.5 505.2 789.5 502.8 788.5 499.8 788.5 497.2 788.0 496.8 787.0 489.8 785.5 485.8 783.5 484.8 777.0 484.8 776.5 485.2 774.0 485.2 773.5 485.8 768.0 486.8 762.0 488.8 746.0 490.2 744.0 491.8 743.5 494.2 744.0 494.8 744.0 496.8 745.0 499.8 745.0 507.8 744.5 508.2 744.5 511.8 744.0 512.2 743.5 517.8 741.0 521.8 739.0 522.8 734.0 522.8 725.0 520.2 721.0 518.2 708.5 507.8 703.5 502.2 703.0 497.2 705.5 491.8 705.5 490.8 708.0 486.2 708.0 485.2 710.5 480.8 715.0 476.8 718.5 476.2 719.0 475.8 730.0 475.2 734.0 473.8 743.5 463.2 748.0 456.8 754.0 452.2 754.5 450.8 748.5 446.8 745.5 445.8 744.0 446.2 739.0 451.2 734.5 453.8 731.0 454.8 728.5 454.8 728.0 455.2 722.0 455.2 718.5 452.2 713.5 443.8 712.0 438.8 712.0 436.8 711.5 436.2 711.5 433.2 711.0 432.8 711.0 429.8ZM701.5 389.2 704.5 389.2 708.0 390.8 710.5 393.2 711.5 395.8 711.5 402.2 711.0 402.8 711.0 404.2 709.5 406.8 707.5 408.8 704.0 410.8 701.0 410.8 698.5 409.8 694.5 405.8 693.0 401.2 693.0 398.2 695.0 393.2 698.5 390.2ZM828.0 388.2 830.0 386.2 835.0 384.2 845.0 384.2 845.5 384.8 847.0 384.8 853.0 388.2 856.5 392.2 857.0 393.8 857.0 398.2 855.0 402.2 851.0 406.2 848.5 407.8 845.5 408.8 843.5 408.8 843.0 409.2 839.5 409.2 839.0 408.8 835.0 408.2 829.5 405.2 827.0 402.8 825.5 399.2 825.5 393.8 826.0 393.2 826.0 391.8ZM690.0 366.8 693.0 369.8 694.0 372.8 694.5 378.2 695.0 378.8 694.5 385.2 690.5 392.8 684.5 401.8 684.5 402.8 682.5 406.2 679.0 415.8 676.0 419.2 675.0 419.8 672.0 419.8 671.0 419.2 668.0 415.8 666.5 411.2 664.5 407.2 665.0 402.8 667.0 398.8 672.0 384.2 675.0 378.8 684.0 368.2 686.5 366.8ZM795.5 326.2 800.5 326.2 801.0 326.8 808.0 327.2 808.5 327.8 812.5 328.2 815.5 329.8 835.0 345.8 838.0 349.8 837.5 356.2 836.5 358.2 836.5 359.8 835.5 361.8 833.5 370.2 829.5 381.2 825.0 386.2 814.5 391.8 810.5 394.8 810.5 396.2 813.0 401.8 813.0 408.2 811.0 412.2 809.0 414.2 805.5 415.8 801.0 414.8 798.0 411.8 796.0 405.8 796.0 402.8 796.5 402.2 796.5 399.8 797.5 397.8 797.5 395.2 796.5 394.2 792.0 392.2 788.5 388.8 782.5 380.2 780.5 375.8 780.0 371.2 779.5 370.8 779.5 368.8 778.5 365.8 778.5 360.2 780.0 357.2 786.5 348.8 789.0 344.2 789.5 340.8 790.0 340.2 790.5 333.2 791.5 329.8 793.5 327.2ZM745.0 325.8 748.0 328.2 749.0 330.2 750.5 336.8 753.0 343.8 753.0 345.2 754.5 348.2 755.5 352.8 756.5 354.8 756.5 356.8 757.5 359.2 757.5 368.8 757.0 369.2 756.5 376.8 755.5 378.8 752.5 381.8 747.5 384.2 746.5 385.2 741.5 387.2 738.5 387.2 738.0 387.8 717.5 387.2 715.5 386.2 712.5 383.2 710.5 379.2 709.5 375.8 707.5 372.2 707.5 371.2 701.0 360.2 700.5 355.2 700.0 354.8 701.0 348.2 705.0 343.8 723.5 331.8 727.5 329.8 738.5 326.2Z"/>
<path fill="#b6ff00" fill-rule="evenodd" d="M780.5 488.2 774.0 488.2 773.5 488.8 768.0 489.8 766.0 490.8 760.0 491.8 756.5 493.2 754.5 495.8 754.0 497.2 754.0 507.8 754.5 508.2 755.0 512.2 757.5 517.8 761.5 522.2 766.0 524.8 771.0 525.2 771.5 524.8 773.5 524.8 777.5 522.8 781.0 519.2 783.5 514.8 785.0 509.8 785.0 498.2 784.5 497.8 784.5 495.2 783.5 491.8 782.5 489.8ZM687.0 465.2 682.5 466.8 680.5 468.2 678.5 470.8 676.5 476.2 676.5 481.8 678.5 487.2 681.5 490.8 685.5 492.8 691.0 492.8 695.0 490.8 698.0 487.2 700.0 482.2 700.0 476.2 699.0 472.8 696.0 468.2 691.5 465.8ZM800.0 464.8 799.0 464.8 799.0 466.2 799.5 466.8 800.0 466.2ZM740.5 457.8 739.5 456.8 737.5 456.8 737.0 457.2 730.5 458.2 726.0 459.8 723.5 462.8 723.5 465.2 724.5 467.2 726.0 468.8 729.0 469.8 730.5 469.8 733.0 468.8 740.5 460.2ZM830.0 435.2 827.0 436.8 825.0 439.2 822.5 447.2 818.0 454.2 818.0 458.2 820.0 462.2 823.5 465.8 828.5 468.2 833.5 468.8 836.0 467.8 838.5 464.8 840.5 454.8 844.5 445.8 844.5 441.8 841.0 437.8 838.5 436.2 835.5 435.2ZM772.5 432.2 771.5 432.8 770.5 434.2 769.5 439.8 768.0 442.8 768.0 445.8 769.5 446.8 773.0 447.8 778.5 447.8 780.0 446.8 781.0 444.8 781.0 441.8 780.0 438.8 776.5 432.8 775.5 432.2ZM870.5 415.8 870.0 415.2 870.0 412.8 869.5 412.2 869.5 410.2 869.0 409.8 869.0 407.8 868.5 407.2 868.5 405.2 867.5 402.2 865.5 400.2 863.0 400.2 860.0 402.2 853.5 409.2 849.0 411.8 845.5 412.8 837.0 412.8 827.0 409.2 823.0 410.2 818.5 415.2 817.5 417.2 817.5 419.8 820.0 421.2 823.5 422.2 829.0 425.8 854.5 425.8 864.5 422.8 869.0 420.8 870.5 418.2ZM716.0 395.8 715.0 397.8 713.5 405.2 709.0 412.2 708.5 413.8 709.0 417.2 711.5 420.8 714.0 421.8 725.5 421.8 726.0 421.2 728.5 421.2 731.0 419.2 731.0 413.8 730.5 413.2 730.0 408.8 732.0 401.8 732.0 398.8 729.5 395.8 726.5 394.2 725.0 394.2 724.5 393.8 720.0 393.8ZM763.0 367.2 760.5 370.8 760.0 374.2 759.5 374.8 759.5 377.2 757.0 382.8 753.5 386.8 751.5 387.8 748.5 390.8 748.0 391.8 748.0 395.2 750.0 397.8 753.0 399.2 758.0 400.8 760.0 400.8 766.0 398.2 770.0 398.2 770.5 398.8 775.5 399.2 782.5 405.8 786.0 410.2 789.5 412.2 791.0 412.2 791.5 412.8 793.0 411.8 793.0 407.8 792.5 407.2 792.5 403.2 791.5 399.8 785.0 392.8 783.5 389.8 782.0 384.8 778.5 379.2 777.5 374.2 777.0 373.8 777.0 371.8 775.5 368.2 773.5 366.2 772.0 365.8 766.5 365.8ZM844.0 352.2 841.5 354.2 840.0 357.2 835.0 374.8 835.0 378.2 836.0 379.8 838.5 380.8 841.5 380.8 842.0 381.2 847.0 381.8 856.0 385.8 859.0 385.2 861.5 382.8 863.5 376.8 863.5 371.8 863.0 371.2 863.0 368.8 862.0 365.8 858.5 359.8 854.0 355.2 849.5 352.8ZM754.0 326.2 753.0 328.2 753.0 331.8 753.5 332.2 754.0 335.8 755.0 337.8 756.0 342.2 757.0 344.2 759.5 346.8 765.5 348.8 774.0 348.8 774.5 348.2 778.5 347.8 781.5 346.2 784.5 343.8 786.5 338.8 787.0 328.8 786.0 326.2 781.0 321.2 779.0 320.2 777.0 317.8 764.5 317.8 763.0 319.8 758.5 322.2Z"/>
<path fill="#ffd800" fill-rule="evenodd" d="M778.0 491.2 773.0 491.2 772.5 491.8 766.5 492.8 761.0 494.8 758.5 497.8 758.5 499.2 758.0 499.8 758.0 505.2 758.5 505.8 759.0 510.8 760.5 514.2 763.0 517.8 766.5 520.2 771.5 520.8 774.0 519.8 777.5 516.8 780.0 512.2 781.0 508.8 781.0 506.2 781.5 505.8 781.5 498.8 781.0 498.2 780.5 494.2ZM831.5 439.2 829.0 440.2 827.5 441.8 825.5 447.8 822.0 454.2 822.0 456.8 823.5 459.8 826.5 462.8 830.0 464.2 833.5 464.2 835.5 462.8 836.5 460.8 837.5 454.2 841.0 445.2 840.5 444.8 840.5 443.2 838.0 440.8 833.5 439.2ZM774.0 437.8 772.5 440.2 772.5 442.8 773.5 443.8 776.0 443.8 777.0 442.8 777.0 440.2 775.5 437.8ZM725.5 398.2 724.0 397.8 719.5 398.2 717.0 401.2 716.0 405.8 712.5 412.8 713.0 416.2 714.0 417.8 717.0 419.2 724.0 419.2 727.0 418.2 728.0 416.8 727.5 407.8 728.0 407.2 728.5 401.8 728.0 400.2ZM767.0 369.8 765.0 370.8 762.5 374.2 761.5 379.8 759.5 384.8 759.5 387.8 760.5 390.2 764.0 393.2 767.0 394.2 773.5 394.2 776.0 393.2 778.0 391.2 779.0 389.2 779.0 385.8 776.0 379.8 775.0 374.8 773.5 371.2 771.0 369.8ZM845.5 356.8 844.5 357.2 842.5 359.8 839.0 371.8 839.0 376.2 841.0 377.8 846.0 378.2 851.0 379.8 854.0 381.2 856.0 381.2 858.0 379.8 859.0 377.2 859.0 370.2 858.0 367.2 855.0 362.2 851.5 358.8 849.0 357.2ZM761.5 326.8 761.5 329.8 763.5 332.2 767.0 333.8 774.5 333.8 778.0 332.2 780.0 329.8 780.0 327.2 779.5 326.2 776.5 323.8 773.5 322.8 768.0 322.8 764.0 324.2Z"/>
<path fill="#ff8c00" fill-rule="evenodd" d="M773.5 494.8 768.0 495.2 765.0 496.8 763.0 499.8 763.0 506.2 763.5 506.8 763.5 508.2 765.0 511.2 768.0 513.8 771.5 513.8 772.5 513.2 775.5 509.8 776.5 506.8 776.5 497.8 776.0 496.8ZM723.5 401.8 721.0 401.8 720.0 402.8 718.5 407.2 717.0 409.8 716.0 413.8 718.0 416.2 723.0 416.2 724.0 415.8 725.0 414.2 725.0 403.2 724.5 402.2ZM768.0 373.2 767.0 373.8 765.0 376.2 763.0 385.2 763.5 385.8 763.5 387.2 765.5 389.8 767.5 390.8 770.5 391.2 774.5 389.2 775.5 387.2 775.5 385.2 773.0 379.8 772.0 375.2 770.0 373.2Z"/>
<path d="M669.2 424.8H871.8M770.5 323.5V526.1" stroke="#000" stroke-width="1.3" fill="none"/>
</g>
<circle cx="770.5" cy="424.8" r="101.3" fill="none" stroke="#333" stroke-width="1"/>
<g clip-path="url(#c6)"><rect x="168.0" y="612.9" width="206.6" height="206.6" fill="#0000ff"/>
<path fill="#04906e" fill-rule="evenodd" d="M164.2 662.7 164.2 718.7 170.2 719.7 170.8 720.2 173.8 720.2 174.2 719.7 176.2 719.7 179.8 718.7 186.8 714.7 189.8 715.2 219.8 735.7 221.2 737.2 227.8 741.2 229.2 742.7 253.2 758.2 254.8 759.7 270.8 767.2 271.8 767.2 280.2 771.7 281.2 771.7 300.8 781.7 305.2 783.2 306.8 783.2 307.2 783.7 308.8 783.7 309.2 784.2 310.8 784.2 311.2 784.7 312.8 784.7 327.2 788.7 329.2 788.7 329.8 789.2 337.2 789.2 337.8 788.7 340.8 788.7 341.2 788.2 351.2 788.2 351.8 787.7 354.8 787.7 355.2 787.2 359.2 786.7 365.2 784.2 370.2 780.7 377.2 773.7 378.2 773.7 378.2 734.7 377.2 734.2 372.2 734.2 371.8 734.7 367.8 735.2 360.2 739.2 358.2 739.2 357.8 739.7 351.8 739.7 351.2 740.2 348.8 740.2 348.2 740.7 343.2 741.7 335.8 745.7 329.8 751.2 327.8 752.2 324.2 752.2 323.8 751.7 321.8 751.7 321.2 751.2 316.2 750.2 288.2 736.2 287.2 736.2 271.2 728.7 208.8 685.7 204.8 681.7 204.8 679.7 204.2 679.2 204.8 678.7 204.8 674.7 205.2 674.2 205.2 670.2 205.8 669.7 205.8 663.7 205.2 663.2 204.8 657.7 202.2 651.7 197.2 646.7 191.2 644.7 187.2 644.7 186.8 645.2 182.8 645.7 179.8 647.2 175.8 650.2 170.2 656.2 167.2 660.7 165.8 662.2ZM295.8 643.7 295.2 644.2 293.2 644.2 292.8 644.7 290.8 644.7 287.2 645.7 281.8 649.2 278.8 652.2 275.2 657.2 274.2 659.7 273.8 663.7 273.2 664.2 273.2 673.2 273.8 673.7 274.2 677.7 277.2 683.7 284.2 690.2 286.8 691.7 291.8 693.2 293.8 693.2 294.2 693.7 301.2 693.7 301.8 693.2 306.2 692.7 311.8 690.2 317.2 685.2 319.8 681.7 321.8 677.2 322.2 673.2 322.8 672.7 322.8 665.2 322.2 664.7 321.2 658.7 319.8 655.7 317.2 652.2 314.2 649.2 310.8 646.7 307.2 645.2 300.8 644.2 300.2 643.7Z"/>
<path fill="#22ff00" fill-rule="evenodd" d="M164.2 667.7 164.2 715.2 170.8 717.2 174.2 717.2 180.2 715.2 185.8 711.2 187.2 710.7 189.2 711.2 192.2 712.7 199.8 718.7 219.2 731.7 227.2 737.7 238.8 745.2 240.2 745.7 256.8 757.2 271.8 764.2 272.8 764.2 280.2 768.2 281.2 768.2 289.2 772.2 290.2 773.2 292.2 773.7 303.2 779.2 313.8 781.7 314.2 782.2 315.8 782.2 316.2 782.7 317.8 782.7 318.2 783.2 319.8 783.2 320.2 783.7 321.8 783.7 322.2 784.2 323.8 784.2 324.2 784.7 325.8 784.7 326.2 785.2 327.8 785.2 328.2 785.7 336.2 786.2 339.8 785.2 351.8 785.2 352.2 784.7 354.8 784.7 355.2 784.2 357.2 784.2 360.2 783.2 366.8 779.7 373.2 773.2 375.2 770.2 376.8 768.7 378.2 768.2 378.2 737.7 375.8 737.7 375.2 737.2 370.8 737.7 370.2 738.2 368.8 738.2 361.8 742.2 360.2 742.2 359.8 742.7 351.2 742.7 350.8 743.2 348.8 743.2 343.8 744.7 336.8 748.7 330.8 754.7 328.8 755.7 325.2 755.7 312.8 752.2 303.8 747.2 302.8 747.2 287.2 739.2 286.2 739.2 269.2 731.2 231.8 705.7 215.2 693.7 210.2 690.7 204.8 686.7 201.8 683.7 201.2 682.7 201.2 678.2 201.8 677.7 202.2 670.7 202.8 670.2 202.2 660.2 200.2 654.2 199.2 652.7 194.8 648.7 191.2 647.7 186.8 647.7 181.2 649.7 172.8 657.7 168.8 664.2 165.8 667.2ZM296.8 646.2 296.2 646.7 291.2 647.2 286.2 649.2 279.8 655.2 277.8 658.2 276.2 662.2 276.2 664.2 275.8 664.7 275.8 672.7 276.2 673.2 276.2 675.2 278.8 681.2 279.8 682.7 285.2 687.7 288.8 689.7 292.2 690.7 294.2 690.7 294.8 691.2 300.8 691.2 301.2 690.7 303.2 690.7 308.2 689.2 310.8 687.7 316.2 682.2 318.2 679.2 319.8 674.7 319.8 672.7 320.2 672.2 320.2 665.7 319.8 665.2 319.2 661.2 317.2 656.7 311.2 650.2 304.8 647.2Z"/>
<path fill="#b6ff00" fill-rule="evenodd" d="M164.2 671.2 164.2 711.2 165.2 711.2 167.2 712.7 170.8 714.2 174.2 714.2 179.2 712.2 184.8 707.7 186.8 706.7 189.2 707.2 196.2 711.7 203.8 718.2 213.2 724.2 214.8 725.7 233.2 738.2 238.2 740.7 249.8 748.2 258.2 754.7 263.8 757.2 264.8 757.2 267.2 758.7 268.2 758.7 271.8 760.7 272.8 760.7 279.2 764.2 280.2 764.2 286.2 767.2 287.2 768.2 301.8 775.2 310.8 778.2 312.2 778.2 326.8 782.2 331.8 782.7 332.2 783.2 338.2 782.7 338.8 782.2 351.8 782.2 352.2 781.7 354.8 781.7 359.8 780.2 365.8 776.7 370.2 772.2 373.8 766.7 376.8 763.7 378.2 763.7 378.2 740.7 371.8 740.7 368.8 741.7 365.2 744.2 361.8 745.7 350.8 745.7 350.2 746.2 346.8 746.7 341.2 749.2 337.8 751.7 331.2 758.7 330.2 759.2 326.2 759.2 311.8 755.2 302.2 749.7 297.8 748.2 288.2 743.2 287.2 743.2 282.8 740.7 281.8 740.7 278.2 738.7 272.8 736.7 267.2 733.7 231.2 709.2 208.2 692.7 203.2 689.7 198.2 685.2 197.8 681.2 198.2 680.7 198.2 678.2 199.2 675.2 199.2 671.2 199.8 670.7 199.8 662.7 199.2 662.2 198.8 658.2 197.2 655.2 195.2 652.7 191.2 650.7 186.8 650.7 180.8 653.7 174.2 660.7 169.8 668.2 167.2 670.7ZM290.2 650.2 285.2 653.2 282.8 655.7 279.2 661.2 278.8 665.2 278.2 665.7 278.2 671.7 278.8 672.2 279.2 676.2 282.8 682.2 286.2 685.2 289.8 687.2 292.8 688.2 295.2 688.2 295.8 688.7 299.8 688.7 300.2 688.2 302.8 688.2 307.2 686.7 310.2 684.7 313.2 681.7 316.2 677.2 317.2 674.2 317.2 671.7 317.8 671.2 317.8 666.7 317.2 666.2 317.2 663.7 316.2 660.7 313.2 655.7 308.8 651.7 305.8 650.2 304.2 650.2 301.8 649.2 294.2 649.2 293.8 649.7Z"/>
<path fill="#ffd800" fill-rule="evenodd" d="M164.2 675.2 164.2 705.2 169.8 710.2 174.8 710.7 179.8 707.7 185.2 702.7 188.8 702.7 191.8 704.2 197.2 708.2 200.2 711.7 205.2 716.2 217.8 724.2 230.2 733.2 235.2 736.2 240.8 738.2 250.8 744.7 258.2 751.7 261.2 753.2 268.8 755.2 274.8 758.2 275.8 758.2 284.8 762.7 290.2 766.7 296.2 769.7 301.8 771.2 303.2 772.2 309.2 774.2 310.8 774.2 311.2 774.7 312.8 774.7 313.2 775.2 314.8 775.2 329.2 779.2 331.8 779.2 332.2 779.7 338.2 779.2 338.8 778.7 347.2 778.7 347.8 779.2 348.8 778.7 353.2 778.7 358.2 777.2 362.2 775.2 367.2 770.7 371.2 764.2 375.8 759.7 378.2 759.2 378.2 744.2 372.2 744.2 362.8 749.2 353.8 748.7 353.2 749.2 348.2 749.7 341.2 753.2 336.8 757.7 335.8 759.7 332.8 762.7 331.8 763.2 327.8 763.2 327.2 762.7 325.8 762.7 325.2 762.2 323.8 762.2 323.2 761.7 312.8 759.2 305.2 754.2 301.2 752.2 291.8 749.2 284.2 745.2 283.2 745.2 279.8 743.2 278.8 743.2 275.2 741.2 274.2 741.2 270.8 739.2 268.8 738.7 248.2 725.2 244.8 722.2 226.8 710.2 216.8 702.7 199.2 691.2 194.8 687.2 193.8 683.7 194.2 683.2 194.2 681.2 194.8 680.7 194.8 678.7 195.8 675.7 196.8 665.7 196.2 665.2 195.8 659.7 194.2 656.7 191.2 654.2 186.8 654.2 183.8 655.7 180.8 658.2 177.2 662.2 171.2 672.2 167.8 674.7ZM294.8 651.7 288.2 654.2 283.8 658.7 281.2 663.7 280.8 670.7 281.2 671.2 281.8 675.2 283.8 679.2 287.2 682.7 291.8 685.2 298.8 686.2 299.2 685.7 301.8 685.7 306.2 684.2 312.2 678.7 314.8 673.2 315.2 667.7 314.8 667.2 314.2 662.7 312.2 658.7 307.8 654.2 301.2 651.7Z"/>
<path fill="#ff8c00" fill-rule="evenodd" d="M288.8 756.7 288.8 758.2 288.2 758.7 289.8 762.2 292.8 764.7 296.8 766.7 303.2 767.7 303.8 767.2 305.2 767.2 306.8 766.2 307.8 764.7 308.2 762.2 306.8 759.2 303.8 756.7 300.8 755.2 293.8 753.7 290.8 754.7ZM257.8 745.2 258.2 748.2 261.2 750.2 262.8 750.7 267.2 750.7 268.2 749.7 268.2 747.2 267.8 746.2 265.8 744.7 260.8 743.7 260.2 744.2 258.8 744.2ZM202.8 706.7 202.8 709.2 204.8 712.2 233.2 731.7 237.8 733.7 239.8 733.7 242.2 731.7 242.8 730.7 242.8 727.7 239.2 723.7 210.8 704.7 206.8 703.7 204.2 704.7ZM295.8 654.2 290.2 656.2 288.8 657.2 285.2 661.2 283.8 664.7 283.8 672.7 284.8 675.7 286.8 678.7 289.8 681.2 294.2 683.2 301.2 683.2 306.8 680.7 310.8 676.2 312.2 672.2 312.2 665.2 310.2 660.7 307.2 657.2 302.2 654.7Z"/>
<path fill="#ff4b00" fill-rule="evenodd" d="M296.8 656.7 296.2 657.2 294.2 657.2 291.2 658.7 287.8 662.2 286.2 665.7 286.2 671.7 288.2 676.2 291.8 679.2 295.2 680.7 300.2 680.7 304.2 679.2 308.2 675.2 309.8 671.2 309.8 666.2 307.8 661.7 304.8 658.7 301.2 657.2Z"/>
<path fill="#ff0000" fill-rule="evenodd" d="M295.2 660.2 293.2 661.2 289.8 665.2 289.2 666.7 289.2 671.2 289.8 672.7 292.8 676.2 296.2 677.7 301.2 677.2 304.2 675.2 306.2 672.2 306.8 670.7 306.2 665.7 305.2 663.7 302.8 661.2 300.8 660.2Z"/>
<path d="M170.0 716.2H372.6M271.3 614.9V817.5" stroke="#000" stroke-width="1.0" fill="none"/>
</g>
<circle cx="271.3" cy="716.2" r="101.3" fill="none" stroke="#333" stroke-width="1"/>
<line x1="271.3" y1="716.2" x2="323.8" y2="623.0" stroke="#000" stroke-width="1.3"/>
<g clip-path="url(#c7)"><rect x="421.8" y="613.3" width="206.6" height="206.6" fill="#0000ff"/>
<path fill="#04906e" fill-rule="evenodd" d="M418.1 709.1 418.1 749.1 420.6 749.6 441.6 767.1 443.6 768.1 474.1 790.6 479.6 793.1 480.6 794.1 485.1 796.1 486.1 797.1 495.1 801.6 496.1 802.6 520.0 814.6 524.5 816.1 526.5 816.1 527.0 816.6 529.0 816.6 529.5 817.1 531.5 817.1 532.0 817.6 534.0 817.6 534.5 818.1 536.5 818.1 537.0 818.6 548.5 820.6 553.0 822.1 554.0 823.6 597.0 823.6 597.0 822.6 600.0 817.6 601.0 814.1 601.0 805.1 598.5 799.6 597.0 797.6 593.0 794.1 590.0 792.6 585.0 791.6 584.5 791.1 578.0 790.1 577.5 789.6 571.5 788.6 567.0 787.1 565.0 787.1 560.5 785.6 558.5 785.6 558.0 785.1 556.0 785.1 553.0 784.1 550.5 784.1 550.0 783.6 538.0 781.6 533.5 780.1 516.5 771.6 515.5 770.6 504.6 765.1 503.6 764.1 499.1 762.1 498.1 761.1 493.6 759.1 462.6 736.6 431.6 711.1 425.6 709.1ZM466.6 609.6 466.6 611.6 466.1 612.1 466.1 622.6 466.6 623.1 466.6 627.1 467.1 627.6 467.1 631.6 467.6 632.1 467.6 636.1 468.1 636.6 468.1 640.6 468.6 641.1 468.6 645.1 469.1 645.6 470.1 657.6 479.6 689.1 481.6 692.6 492.1 702.6 496.6 711.1 501.1 716.1 520.0 729.1 529.0 732.1 531.5 732.1 532.0 732.6 534.0 732.6 534.5 733.1 536.5 733.1 537.0 733.6 539.0 733.6 542.0 734.6 544.5 734.6 545.0 735.1 547.0 735.1 550.0 736.1 552.5 736.1 553.0 736.6 560.5 736.6 561.0 736.1 564.5 736.1 565.0 735.6 572.0 735.1 572.5 734.6 581.0 734.6 581.5 735.1 585.5 735.1 586.0 735.6 591.5 735.1 595.0 734.1 599.0 732.1 603.0 729.1 622.0 717.6 627.5 712.1 630.5 706.6 632.0 705.6 632.0 641.6 629.0 640.6 624.5 637.6 623.0 637.6 620.5 636.6 614.5 636.6 609.5 638.1 606.5 640.1 603.5 643.1 601.0 647.6 600.5 651.6 600.0 652.1 600.0 658.1 600.5 658.6 600.5 662.1 601.0 662.6 601.0 666.1 601.5 666.6 601.5 670.1 602.0 670.6 602.0 678.6 600.5 681.6 598.5 688.1 595.0 692.1 578.0 702.6 573.5 704.6 569.0 705.1 568.5 705.6 565.5 705.6 565.0 706.1 562.0 706.1 561.5 706.6 553.5 706.6 550.5 705.6 548.0 705.6 547.5 705.1 536.0 703.1 526.0 697.1 520.5 692.1 517.5 685.6 516.0 674.6 509.1 653.1 509.1 651.6 508.1 649.1 508.1 646.6 507.6 646.1 507.6 642.1 507.1 641.6 507.1 637.6 506.6 637.1 506.6 630.1 508.6 628.1 510.1 627.6 516.5 627.1 517.0 626.6 521.5 626.6 522.0 626.1 526.0 626.1 526.5 625.6 530.5 625.6 531.0 625.1 535.5 624.6 538.0 623.1 540.0 620.1 540.5 617.1 539.0 613.1 537.0 610.6 537.0 609.6 519.5 609.6 518.5 610.6 512.5 611.6 512.0 612.1 506.1 612.1 504.6 610.6 504.6 609.6Z"/>
<path fill="#22ff00" fill-rule="evenodd" d="M418.1 712.1 418.1 744.6 422.1 746.6 441.6 763.1 476.1 788.1 481.6 790.6 482.6 791.6 492.6 796.6 498.1 800.1 521.0 811.6 527.5 813.6 529.5 813.6 530.0 814.1 532.0 814.1 535.0 815.1 537.5 815.1 538.0 815.6 540.0 815.6 540.5 816.1 542.5 816.1 543.0 816.6 545.0 816.6 545.5 817.1 547.5 817.1 548.0 817.6 550.0 817.6 550.5 818.1 552.5 818.1 555.0 819.1 557.0 819.1 557.5 819.6 563.0 820.6 567.0 822.1 568.0 823.6 592.5 823.6 593.0 821.6 596.5 817.6 598.0 813.1 598.0 806.1 596.0 801.6 594.5 799.6 591.0 796.6 586.0 794.6 581.5 794.1 581.0 793.6 575.0 792.6 570.5 791.1 568.5 791.1 564.0 789.6 562.0 789.6 557.5 788.1 552.5 787.6 552.0 787.1 550.0 787.1 549.5 786.6 547.5 786.6 547.0 786.1 545.0 786.1 544.5 785.6 542.5 785.6 542.0 785.1 537.0 784.6 533.5 783.6 513.5 773.6 512.5 772.6 501.6 767.1 500.6 766.1 496.1 764.1 488.6 759.6 483.1 755.1 481.1 754.1 475.6 749.6 460.1 738.6 431.1 714.6 424.6 712.1ZM469.1 609.6 468.6 620.6 469.1 621.1 469.1 625.1 469.6 625.6 469.6 629.6 470.1 630.1 470.1 634.1 470.6 634.6 470.6 638.6 471.1 639.1 472.6 656.6 481.6 686.6 485.1 692.6 492.6 698.6 495.1 702.1 499.6 710.6 503.6 714.6 518.0 724.1 519.5 725.6 524.5 728.1 528.0 729.1 535.5 730.1 536.0 730.6 538.0 730.6 538.5 731.1 540.5 731.1 541.0 731.6 543.0 731.6 546.0 732.6 548.5 732.6 551.5 733.6 554.0 733.6 554.5 734.1 558.5 734.1 559.0 733.6 570.5 732.6 571.0 732.1 574.0 732.1 574.5 731.6 579.5 731.6 580.0 732.1 583.0 732.1 583.5 732.6 590.5 732.6 596.0 730.6 609.0 722.1 617.0 717.6 622.0 714.1 626.0 709.1 630.0 699.1 632.0 697.6 632.0 646.1 630.5 645.6 627.5 642.6 624.5 640.6 621.5 639.6 619.5 639.6 619.0 639.1 613.5 639.6 609.0 641.6 604.5 646.6 603.0 650.6 602.5 656.1 603.0 656.6 603.0 660.6 603.5 661.1 603.5 664.6 604.0 665.1 604.0 668.6 604.5 669.1 604.5 672.6 605.0 673.1 605.0 678.1 603.0 684.1 602.0 685.6 601.5 688.1 600.0 691.1 597.0 694.1 580.0 704.6 573.0 707.6 563.5 708.6 563.0 709.1 559.5 709.1 559.0 709.6 555.0 709.6 554.5 709.1 552.0 709.1 551.5 708.6 549.5 708.6 546.5 707.6 544.0 707.6 543.5 707.1 539.0 706.6 532.5 704.6 522.0 697.6 517.5 692.6 515.0 687.6 514.5 683.1 514.0 682.6 514.0 678.1 513.5 677.6 513.0 674.1 511.6 670.6 511.6 669.1 509.1 662.6 509.1 661.1 505.6 650.6 505.1 644.1 504.6 643.6 504.6 639.6 504.1 639.1 504.1 635.1 503.6 634.6 503.6 628.6 504.1 627.6 506.1 626.1 510.6 625.6 511.1 625.1 515.0 625.1 515.5 624.6 529.5 623.6 530.0 623.1 532.5 623.1 535.5 622.1 538.0 619.1 538.0 616.1 536.5 613.6 533.5 612.1 529.0 612.1 528.5 612.6 516.5 613.6 516.0 614.1 512.0 614.1 511.6 614.6 503.6 614.6 502.1 613.6 501.1 611.6 501.1 609.6Z"/>
<path fill="#b6ff00" fill-rule="evenodd" d="M418.1 715.6 418.1 740.6 421.6 742.1 443.6 760.6 478.1 785.6 480.6 786.6 485.1 789.6 494.6 794.1 501.1 798.1 521.0 808.1 526.5 810.1 535.5 811.6 536.0 812.1 538.5 812.1 539.0 812.6 541.0 812.6 541.5 813.1 543.5 813.1 544.0 813.6 546.0 813.6 546.5 814.1 548.5 814.1 551.5 815.1 553.5 815.1 556.0 816.1 558.0 816.1 560.5 817.1 562.5 817.1 567.0 818.6 569.0 818.6 569.5 819.1 577.0 820.6 581.0 822.1 585.5 822.1 587.0 821.6 591.5 818.6 593.5 816.1 595.0 811.6 594.5 805.6 592.5 802.1 589.0 799.1 585.0 797.6 578.5 796.6 578.0 796.1 572.0 795.1 567.5 793.6 565.5 793.6 561.0 792.1 559.0 792.1 556.5 791.1 551.5 790.6 551.0 790.1 549.0 790.1 548.5 789.6 546.5 789.6 546.0 789.1 544.0 789.1 543.5 788.6 541.5 788.6 541.0 788.1 532.5 786.6 510.6 775.6 509.6 774.6 505.1 772.6 504.1 771.6 498.6 769.1 497.6 768.1 488.1 763.1 458.1 741.1 429.1 717.1 423.1 715.1ZM472.1 609.6 471.6 616.1 471.1 617.1 471.6 617.6 471.6 622.6 472.1 623.1 472.1 627.1 472.6 627.6 472.6 631.6 473.1 632.1 473.1 636.1 473.6 636.6 473.6 640.6 474.1 641.1 474.1 645.1 474.6 645.6 474.6 649.6 475.1 650.1 475.1 654.6 475.6 655.1 476.1 659.6 478.1 664.6 478.1 666.1 480.1 671.1 480.1 672.6 482.1 677.6 482.1 679.1 484.6 686.6 486.6 690.1 489.1 692.6 492.6 694.6 495.6 697.6 501.6 708.6 505.6 712.6 518.5 721.1 520.0 722.6 524.5 725.1 527.5 726.1 539.0 728.1 539.5 728.6 541.5 728.6 542.0 729.1 544.5 729.1 545.0 729.6 547.0 729.6 547.5 730.1 549.5 730.1 552.5 731.1 561.0 731.1 561.5 730.6 568.5 730.1 569.0 729.6 572.0 729.6 572.5 729.1 577.5 729.1 578.0 728.6 578.5 729.1 588.5 730.1 589.0 729.6 592.5 729.1 596.5 727.1 611.0 717.6 615.0 715.6 620.0 712.1 623.0 708.6 625.0 704.6 628.5 694.1 630.5 690.6 632.0 689.6 632.0 654.6 631.0 654.1 627.5 646.6 624.0 643.6 620.5 642.1 615.0 642.1 614.5 642.6 613.0 642.6 610.5 644.1 607.5 647.1 606.0 650.1 606.0 651.6 605.5 652.1 605.5 658.6 606.0 659.1 606.0 662.6 606.5 663.1 606.5 666.6 607.0 667.1 607.0 670.6 607.5 671.1 607.5 675.1 608.0 676.6 607.5 677.1 607.5 679.6 602.5 692.6 599.0 696.1 580.5 707.6 574.5 710.1 572.5 710.1 572.0 710.6 561.5 711.6 561.0 712.1 553.5 712.1 550.5 711.1 548.0 711.1 547.5 710.6 535.5 708.6 530.5 706.6 520.0 699.6 516.0 695.6 512.5 689.1 511.6 685.6 511.1 677.1 503.1 652.1 502.6 646.6 502.1 646.1 502.1 642.1 501.6 641.6 501.6 637.6 501.1 637.1 501.1 633.1 500.6 632.6 500.6 625.6 501.1 624.6 502.6 623.6 531.5 620.6 534.0 619.6 535.0 618.6 535.0 616.6 533.0 615.1 527.5 615.1 527.0 615.6 523.0 615.6 522.5 616.1 518.5 616.1 518.0 616.6 513.5 616.6 513.0 617.1 501.1 618.1 499.1 615.6 498.1 612.1 498.1 609.6Z"/>
<path fill="#ffd800" fill-rule="evenodd" d="M418.1 719.1 418.1 736.1 421.6 737.6 446.1 758.1 467.1 773.1 472.6 777.6 474.6 778.6 478.6 782.1 486.1 787.1 492.1 790.1 498.1 792.1 501.1 794.1 524.0 805.6 528.5 807.1 530.5 807.1 531.0 807.6 533.0 807.6 536.0 808.6 538.5 808.6 539.0 809.1 556.0 812.1 558.5 813.1 560.5 813.1 563.0 814.1 565.0 814.1 565.5 814.6 571.5 815.6 576.0 817.1 580.5 817.6 581.0 818.1 585.0 818.1 589.0 816.1 590.5 814.1 591.5 811.6 591.5 808.1 589.5 804.1 587.0 802.1 582.5 800.6 580.5 800.6 580.0 800.1 574.0 799.1 569.5 797.6 567.5 797.6 563.0 796.1 561.0 796.1 556.5 794.6 551.5 794.1 551.0 793.6 549.0 793.6 548.5 793.1 546.5 793.1 546.0 792.6 544.0 792.6 543.5 792.1 541.5 792.1 538.5 791.1 536.0 791.1 535.5 790.6 530.5 789.6 510.6 779.6 509.6 778.6 499.6 773.6 496.1 771.1 489.6 768.1 484.1 764.6 478.6 760.1 476.6 759.1 471.1 754.6 455.6 743.6 427.1 720.1 422.6 718.6ZM475.6 609.6 475.6 611.6 474.6 614.1 474.6 621.6 475.1 622.1 475.1 626.1 475.6 626.6 475.6 630.6 476.1 631.1 476.1 635.1 476.6 635.6 476.6 639.6 477.1 640.1 477.1 644.1 477.6 644.6 478.6 656.6 483.1 670.1 484.6 676.6 486.6 681.6 486.6 683.1 489.1 688.1 491.1 690.1 494.6 692.1 498.1 695.6 504.1 706.6 509.6 711.6 519.0 717.6 522.0 720.1 528.5 723.1 540.0 725.1 540.5 725.6 542.5 725.6 543.0 726.1 545.5 726.1 546.0 726.6 548.0 726.6 551.0 727.6 553.5 727.6 554.0 728.1 559.5 728.1 560.0 727.6 563.5 727.6 564.0 727.1 575.0 726.1 575.5 725.6 580.5 725.6 581.0 726.1 585.5 726.6 586.0 727.1 590.5 726.6 617.5 710.1 619.5 708.1 622.0 703.6 627.5 687.6 631.0 680.1 631.0 677.1 629.5 672.6 629.5 670.1 628.5 666.6 627.0 653.6 625.0 648.6 623.5 647.1 621.0 645.6 616.0 645.1 612.5 646.6 610.0 649.1 609.0 651.1 608.5 657.1 609.0 657.6 609.0 661.1 609.5 661.6 609.5 665.1 610.0 665.6 610.0 669.1 610.5 669.6 610.5 673.1 611.0 673.6 611.0 678.6 605.5 694.1 604.5 695.6 601.0 698.6 579.5 711.6 573.5 713.6 556.0 715.6 555.5 715.1 552.5 715.1 552.0 714.6 547.0 714.1 546.5 713.6 544.5 713.6 544.0 713.1 532.5 711.1 528.5 709.1 515.5 700.1 513.5 697.6 509.1 689.1 508.1 678.1 499.6 650.6 498.6 638.6 498.1 638.1 498.1 634.6 497.6 634.1 497.6 630.1 497.1 629.6 497.1 625.1 496.6 624.6 496.6 620.1 496.1 619.6 496.1 616.6 495.6 616.1 495.6 613.6 494.6 611.6 494.6 609.6Z"/>
<path fill="#ff8c00" fill-rule="evenodd" d="M481.1 773.6 480.6 774.6 481.1 778.6 482.6 780.6 486.6 784.1 491.1 786.6 494.1 787.6 497.6 787.6 499.1 786.6 500.1 784.1 499.6 781.1 498.1 778.6 493.6 774.6 489.6 772.6 486.1 772.1 485.6 771.6 483.1 772.1ZM583.5 714.1 583.5 716.1 585.5 718.1 589.0 719.1 591.5 719.1 597.5 717.1 599.0 715.1 599.0 714.1 598.0 712.6 594.0 711.1 589.0 711.1 588.5 711.6 585.5 712.1Z"/>
<path d="M423.8 716.6H626.4M525.1 615.3V817.9" stroke="#000" stroke-width="1.0" fill="none"/>
</g>
<circle cx="525.1" cy="716.6" r="101.3" fill="none" stroke="#333" stroke-width="1"/>
<g clip-path="url(#c8)"><rect x="672.7" y="612.7" width="206.6" height="206.6" fill="#0000ff"/>
<path fill="#04906e" fill-rule="evenodd" d="M699.5 609.0 699.0 610.5 688.5 619.5 679.5 628.5 673.0 636.5 670.5 639.0 669.0 639.5 669.0 793.0 670.0 793.0 673.5 796.5 679.0 803.5 687.0 811.5 698.5 821.5 699.0 823.0 853.5 823.0 854.0 821.0 865.0 812.0 872.0 805.0 878.5 797.0 882.0 793.5 883.0 793.5 883.0 639.0 881.5 638.5 871.5 627.0 863.5 619.0 856.5 613.5 853.0 610.0 853.0 609.0ZM677.5 701.0 679.5 700.0 682.5 701.5 698.0 712.0 699.5 712.5 706.5 717.5 711.0 720.0 715.5 724.0 717.5 728.5 721.0 732.0 726.5 734.0 733.5 740.0 736.0 741.5 738.0 742.0 741.5 744.0 742.5 744.0 755.5 751.0 764.0 753.5 777.0 759.5 779.5 760.0 789.0 764.0 793.0 765.0 794.5 766.0 797.0 766.5 806.5 770.5 811.0 771.5 817.5 774.0 819.0 774.0 825.5 776.5 827.0 776.5 833.5 779.0 835.0 779.0 844.0 782.0 845.5 783.5 845.5 785.0 839.5 790.5 836.0 792.0 830.5 792.5 830.0 793.0 827.5 793.0 827.0 793.5 824.5 793.5 821.0 794.5 818.0 794.5 817.5 795.0 815.0 795.0 811.5 796.0 806.5 796.0 791.5 787.0 789.0 786.0 775.5 777.5 766.0 773.0 765.0 772.0 755.5 767.5 754.5 766.5 745.0 762.0 744.0 761.0 734.5 756.5 733.5 755.5 724.0 751.0 723.0 750.0 713.5 745.5 712.5 744.5 702.5 739.5 679.5 732.5 677.5 730.5 677.0 729.0 677.0 702.5ZM817.5 630.0 820.5 632.0 829.5 640.0 836.5 647.0 836.5 648.5 837.0 649.0 837.0 665.0 836.5 665.5 836.5 667.5 833.5 676.5 832.5 678.0 829.5 688.0 826.0 692.0 819.0 695.0 817.0 695.0 816.5 695.5 798.0 695.5 794.5 694.0 783.0 685.5 779.5 682.0 778.5 680.0 777.0 674.5 776.0 673.0 773.5 665.5 773.5 658.5 774.0 658.0 774.0 654.5 774.5 654.0 774.5 650.5 775.0 650.0 775.5 645.5 781.0 639.5 788.0 633.5 790.5 632.0 794.0 631.5 794.5 631.0 801.0 631.0 801.5 630.5 807.5 630.5 808.0 630.0ZM707.0 648.0 730.5 629.5 734.0 627.5 735.0 627.5 736.0 629.0 736.0 632.5 735.5 633.0 734.5 646.5 734.0 647.0 734.0 651.0 733.5 651.5 733.5 655.5 733.0 656.0 733.0 665.0 737.0 674.5 741.0 686.0 743.5 690.5 754.5 698.5 762.0 708.0 764.0 709.5 768.5 711.5 776.5 712.5 788.5 719.5 799.0 722.0 799.5 722.5 801.0 722.5 801.5 723.0 803.0 723.0 803.5 723.5 805.0 723.5 805.5 724.0 807.0 724.0 807.5 724.5 809.0 724.5 809.5 725.0 811.0 725.0 811.5 725.5 813.0 725.5 813.5 726.0 815.0 726.0 815.5 726.5 817.0 726.5 817.5 727.0 819.0 727.0 819.5 727.5 828.0 727.5 828.5 727.0 843.5 725.5 844.0 725.0 851.0 724.5 851.5 724.0 855.0 724.0 855.5 723.5 858.5 723.5 859.0 723.0 871.0 722.0 873.0 724.0 874.0 726.0 874.5 729.0 875.5 731.0 875.5 733.5 873.0 735.0 868.5 735.0 868.0 735.5 854.0 735.5 853.5 736.0 839.0 736.0 838.5 736.5 816.0 737.0 815.5 736.5 812.0 736.5 811.5 736.0 807.5 736.0 807.0 735.5 803.5 735.5 803.0 735.0 799.5 735.0 799.0 734.5 795.5 734.5 795.0 734.0 791.0 734.0 790.5 733.5 779.0 732.5 778.5 732.0 775.0 731.5 768.0 728.0 767.0 727.0 750.5 718.5 728.0 698.0 725.0 692.5 724.5 690.0 720.5 681.0 719.0 676.0 717.0 672.5 716.0 669.0 706.5 651.5 706.5 649.0Z"/>
<path fill="#22ff00" fill-rule="evenodd" d="M703.0 609.0 703.0 610.0 699.5 613.5 697.0 615.0 689.5 621.5 677.0 634.5 673.5 639.5 670.0 643.0 669.0 643.0 669.0 789.0 672.0 791.0 681.0 802.5 693.5 814.5 699.0 818.5 702.5 822.0 702.5 823.0 850.0 823.0 850.5 821.0 864.0 810.0 874.5 799.0 881.0 790.5 883.0 790.0 883.0 642.5 882.0 642.5 878.5 639.0 875.0 634.0 862.5 621.0 851.0 612.0 849.0 609.0ZM674.0 697.0 675.5 695.0 679.5 691.5 681.5 691.5 683.5 692.5 685.0 694.0 715.0 714.5 718.0 717.5 719.5 725.0 720.5 727.0 722.5 729.0 726.0 730.5 732.5 731.0 735.5 732.0 738.5 735.5 741.5 736.5 746.5 741.5 750.5 744.5 758.0 748.5 761.5 749.5 764.0 749.5 764.5 750.0 773.5 750.0 774.0 749.5 777.0 749.5 778.5 750.5 779.5 750.5 781.0 751.5 782.0 751.5 783.5 752.5 788.5 754.0 798.0 758.0 802.0 762.0 806.5 764.5 813.0 766.0 816.0 768.0 822.5 771.0 842.0 777.5 846.5 778.5 848.5 779.5 851.0 783.0 850.0 786.5 843.0 793.0 838.5 795.5 831.0 796.5 830.5 797.0 824.5 797.5 824.0 798.0 821.5 798.0 821.0 798.5 818.5 798.5 818.0 799.0 815.0 799.0 811.5 800.0 805.5 800.0 800.5 797.5 789.5 790.5 787.0 789.5 773.5 781.0 764.0 776.5 763.0 775.5 753.5 771.0 752.5 770.0 743.0 765.5 742.0 764.5 732.5 760.0 731.5 759.0 722.0 754.5 721.0 753.5 700.5 743.0 676.0 735.5 674.0 733.5 673.0 730.0 673.0 700.5ZM789.5 628.0 794.0 627.5 794.5 627.0 801.0 627.0 801.5 626.5 807.5 626.5 808.0 626.0 818.5 626.0 822.0 628.0 839.5 644.0 841.0 648.5 841.0 665.0 840.5 665.5 840.5 668.0 836.5 680.0 835.5 681.5 833.0 690.0 832.0 692.0 828.0 695.5 821.0 698.5 817.5 699.0 817.0 699.5 798.0 699.5 797.5 699.0 795.5 699.0 791.0 696.5 779.0 687.5 776.0 684.0 769.5 666.0 769.5 658.0 770.0 657.5 770.0 654.0 770.5 653.5 771.5 644.5 773.0 641.5 776.0 638.5 786.5 629.5ZM705.0 644.0 709.5 641.0 730.5 624.5 735.5 622.0 738.5 623.0 740.0 625.0 740.0 632.5 739.5 633.0 738.5 646.5 738.0 647.0 738.0 651.0 737.5 651.5 737.5 655.5 737.0 656.0 737.0 664.0 746.0 687.0 748.5 689.5 754.5 693.5 758.0 697.0 761.0 702.5 765.5 707.0 770.5 709.0 778.5 709.0 787.5 714.5 792.0 716.5 795.0 717.0 798.5 718.5 807.5 720.0 820.0 723.5 827.5 723.5 828.0 723.0 831.5 723.0 832.0 722.5 835.0 722.5 835.5 722.0 847.0 721.0 847.5 720.5 858.5 719.5 859.0 719.0 866.0 718.5 866.5 718.0 873.0 718.0 876.0 720.5 878.5 727.0 878.5 728.5 880.0 732.0 880.0 735.5 879.5 736.5 877.0 738.5 875.0 738.5 874.5 739.0 868.5 739.0 868.0 739.5 854.0 739.5 853.5 740.0 839.0 740.0 838.5 740.5 816.0 741.0 815.5 740.5 811.5 740.5 811.0 740.0 807.5 740.0 807.0 739.5 799.0 739.0 798.5 738.5 795.0 738.5 794.5 738.0 791.0 738.0 790.5 737.5 787.0 737.5 786.5 737.0 782.5 737.0 782.0 736.5 776.0 736.0 766.0 731.5 765.0 730.5 748.5 722.0 724.0 699.5 717.0 683.0 712.0 668.5 709.5 664.0 705.5 658.5 702.0 651.0 702.0 648.0Z"/>
<path fill="#b6ff00" fill-rule="evenodd" d="M883.0 751.5 883.0 738.5 880.0 740.5 876.0 742.0 855.5 742.5 855.0 743.0 840.5 743.0 840.0 743.5 826.0 743.5 825.5 744.0 815.0 744.0 814.5 743.5 802.0 742.5 801.5 742.0 798.0 742.0 797.5 741.5 794.0 741.5 793.5 741.0 790.0 741.0 789.5 740.5 785.5 740.5 785.0 740.0 780.0 740.0 779.5 739.5 777.0 739.5 776.0 740.0 777.5 741.5 781.5 743.5 782.5 743.5 804.0 752.5 805.5 754.0 806.5 759.0 808.5 760.5 812.0 760.5 813.0 760.0 815.0 757.5 818.0 755.0 825.5 755.0 829.0 756.5 830.5 758.5 833.0 760.5 836.0 761.5 841.0 762.0 841.5 762.5 852.5 762.0 853.0 761.5 855.5 761.5 856.0 761.0 859.5 760.5 865.0 758.0 867.5 755.5 868.0 754.0 871.0 751.5 874.5 750.5 880.0 750.5ZM707.5 609.0 707.5 610.0 706.0 612.0 697.5 618.0 689.0 625.5 678.0 637.5 671.0 647.0 669.0 647.5 669.0 785.0 671.0 785.5 672.5 787.0 678.5 795.5 685.0 803.0 693.5 811.0 704.0 819.0 706.5 821.5 707.0 823.0 845.5 823.0 845.5 822.0 849.5 818.0 856.5 813.0 864.5 806.0 871.5 798.5 878.0 789.5 882.0 785.5 883.0 785.5 883.0 763.5 877.5 765.5 871.5 766.5 869.0 767.5 867.0 767.5 866.5 768.0 864.5 768.0 862.0 769.0 857.5 769.5 855.0 770.5 838.5 771.5 839.0 772.5 842.0 774.0 847.5 775.5 850.5 777.0 853.0 779.5 854.0 781.5 854.0 785.5 852.5 788.5 849.0 792.0 843.5 796.5 839.5 798.5 832.0 799.5 831.5 800.0 825.5 800.5 825.0 801.0 822.5 801.0 822.0 801.5 819.5 801.5 819.0 802.0 816.0 802.0 812.5 803.0 809.0 803.0 808.5 803.5 804.5 803.0 798.5 800.0 771.5 783.5 762.0 779.0 761.0 778.0 751.5 773.5 750.5 772.5 741.0 768.0 740.0 767.0 730.5 762.5 729.5 761.5 720.0 757.0 719.0 756.0 699.5 746.0 692.0 743.5 690.5 743.5 687.0 742.0 685.5 742.0 682.0 740.5 680.5 740.5 674.0 738.0 671.0 735.0 669.5 730.5 669.5 700.0 670.5 696.5 672.0 694.0 673.0 687.5 676.5 684.0 678.0 683.5 682.5 684.0 685.5 685.5 713.0 706.5 719.5 711.0 721.0 711.5 724.0 714.0 724.5 716.5 722.0 721.0 722.0 723.5 724.0 726.5 726.0 727.5 729.0 727.5 731.0 726.5 735.0 722.0 738.0 722.0 747.0 726.5 751.0 730.0 751.0 731.5 748.5 735.0 748.5 737.5 749.5 739.5 752.5 742.5 758.0 745.5 761.0 746.5 767.0 746.5 769.5 744.5 770.0 741.5 771.0 739.5 771.0 738.5 770.0 737.5 763.5 733.5 746.5 725.0 738.0 716.5 722.0 702.0 718.5 695.5 718.0 693.0 711.5 677.5 709.5 670.5 708.0 667.5 703.0 660.5 699.0 652.0 699.0 647.0 701.0 643.5 702.5 642.0 731.5 620.0 734.0 619.0 738.0 619.0 740.0 620.0 742.0 622.0 743.5 626.0 742.5 638.5 742.0 639.0 742.0 643.0 741.5 643.5 741.5 648.0 741.0 648.5 741.0 652.5 740.5 653.0 740.5 657.0 740.0 657.5 740.0 663.0 742.5 670.0 743.5 671.5 744.0 674.0 748.0 683.0 748.0 684.0 750.5 687.0 756.5 691.0 758.5 693.0 762.0 700.5 766.0 705.0 770.5 707.0 774.5 707.0 775.0 706.5 779.0 706.0 782.5 707.5 789.5 712.0 792.5 713.0 798.0 716.0 802.0 716.5 802.5 717.0 810.0 717.5 810.5 718.0 812.0 718.0 818.5 720.0 820.5 720.0 821.0 720.5 826.5 720.5 827.0 720.0 830.5 720.0 831.0 719.5 834.0 719.5 834.5 719.0 846.0 718.0 846.5 717.5 857.5 716.5 858.0 716.0 865.0 715.5 865.5 715.0 869.5 715.0 870.0 714.5 874.0 715.0 876.0 716.0 878.5 718.5 880.0 721.5 881.5 727.0 883.0 728.5 883.0 647.0 882.0 647.0 880.0 645.5 874.0 637.0 863.0 625.0 855.5 618.5 847.0 612.5 844.5 609.0ZM819.5 623.0 824.5 626.0 838.5 638.5 843.0 643.5 844.0 647.0 844.0 666.0 843.5 666.5 843.0 670.5 840.0 679.5 839.0 681.0 836.0 691.0 834.5 694.0 830.0 698.0 822.0 701.5 818.5 702.0 818.0 702.5 796.5 702.5 796.0 702.0 794.5 702.0 789.0 699.0 778.5 691.0 773.5 686.0 772.0 683.0 770.5 677.5 769.5 676.0 767.0 668.5 766.5 664.5 766.0 664.0 766.5 657.0 767.0 656.5 767.0 653.0 767.5 652.5 768.5 643.5 770.5 639.5 773.5 636.5 787.0 625.5 790.0 624.5 793.0 624.5 793.5 624.0 813.5 623.0 814.0 622.5Z"/>
<path fill="#ffd800" fill-rule="evenodd" d="M756.5 794.5 755.0 796.0 753.5 799.0 753.5 803.5 754.5 806.0 757.5 809.0 762.0 810.5 764.5 810.5 769.0 809.0 772.0 806.0 773.0 803.5 773.0 799.0 770.5 795.0 765.5 792.5 761.0 792.5ZM694.5 754.0 690.5 756.0 689.0 758.0 687.5 761.5 687.5 766.5 690.0 771.0 692.5 773.0 694.0 773.5 699.0 773.5 701.0 772.5 704.5 768.5 705.0 767.0 705.0 761.0 703.5 757.5 701.5 755.5 698.5 754.0ZM797.5 710.5 797.5 712.0 799.0 713.5 802.5 714.5 806.5 714.0 808.5 712.5 808.5 710.5 807.0 709.0 804.0 708.0 800.0 708.5ZM764.0 689.0 762.0 691.5 762.0 694.5 764.5 700.0 767.5 703.0 770.5 704.5 774.0 704.5 776.0 703.5 777.5 701.0 777.5 698.5 775.5 694.0 772.0 690.5 768.0 688.5ZM750.5 660.5 748.5 662.0 747.5 664.5 747.5 666.5 748.5 669.0 750.0 670.5 752.5 671.0 755.0 669.0 756.0 666.5 756.0 664.5 755.0 662.0 753.0 660.5ZM860.0 656.0 858.5 656.5 855.5 659.5 854.5 661.5 853.5 665.0 853.5 670.0 854.0 670.5 854.5 674.0 856.0 677.0 858.5 679.0 862.0 679.0 863.0 678.5 866.0 675.0 867.0 671.5 867.0 664.0 865.5 659.5 862.5 656.5ZM766.0 617.0 762.5 618.5 760.5 620.5 759.5 623.5 760.5 627.0 764.0 630.0 765.5 630.5 769.5 630.5 771.0 630.0 774.0 627.5 775.0 625.0 775.0 622.5 773.5 619.5 771.5 618.0 768.5 617.0Z"/>
<path d="M674.7 716.0H877.3M776.0 614.7V817.3" stroke="#000" stroke-width="1.0" fill="none"/>
</g>
<circle cx="776.0" cy="716.0" r="101.3" fill="none" stroke="#333" stroke-width="1"/>
<g clip-path="url(#c9)"><rect x="168.5" y="875.7" width="206.6" height="206.6" fill="#0000ff"/>
<path fill="#04906e" fill-rule="evenodd" d="M164.8 912.5 164.8 970.5 165.8 970.5 169.2 974.0 175.8 983.5 180.8 988.0 183.8 989.5 187.2 990.0 187.8 990.5 192.8 990.5 193.2 990.0 196.8 989.5 201.2 987.0 204.8 983.5 207.2 979.0 207.8 975.5 208.2 975.0 208.2 970.0 207.8 969.5 207.8 967.5 206.8 964.5 192.2 943.5 189.2 937.0 186.2 928.5 184.8 926.0 184.8 925.0 181.8 919.5 178.8 916.5 175.8 914.5 171.2 913.0ZM286.2 901.0 285.8 901.5 281.2 902.0 277.2 903.5 269.8 909.5 267.2 913.0 265.2 918.0 264.8 922.5 264.2 923.0 264.2 927.5 264.8 928.0 265.2 932.5 267.8 938.5 269.2 940.5 274.2 945.0 280.8 948.5 282.8 948.5 285.8 949.5 292.8 949.5 293.2 949.0 297.8 948.5 302.8 946.5 306.2 944.0 311.2 938.5 313.8 932.5 314.2 928.0 314.8 927.5 314.8 923.0 314.2 922.5 313.8 918.0 311.8 913.0 308.8 909.0 301.8 903.5 297.8 902.0 293.2 901.5 292.8 901.0Z"/>
<path fill="#22ff00" fill-rule="evenodd" d="M164.8 915.5 164.8 965.5 166.2 966.0 168.2 968.0 177.2 981.0 181.2 985.0 184.8 987.0 189.8 987.5 190.2 988.0 190.8 987.5 195.8 987.0 199.2 985.0 202.8 981.5 204.8 978.0 205.2 973.0 205.8 972.5 205.2 972.0 204.8 967.0 200.8 960.0 190.2 945.5 187.8 940.5 187.8 939.5 183.2 929.5 183.2 928.5 181.8 926.0 181.8 925.0 179.8 921.5 176.8 918.5 173.2 916.5 169.8 915.5ZM286.2 903.5 285.8 904.0 281.8 904.5 277.2 906.5 270.2 913.0 268.8 915.5 267.2 920.5 266.8 927.5 269.2 936.0 271.8 939.5 275.2 942.5 281.2 946.0 285.2 946.5 285.8 947.0 292.8 947.0 293.2 946.5 295.2 946.5 300.2 945.0 302.8 943.5 307.2 939.5 309.8 936.0 311.2 932.0 311.8 928.0 312.2 927.5 312.2 923.0 311.8 922.5 311.8 920.5 310.2 915.5 308.8 913.0 303.8 908.0 301.8 906.5 297.2 904.5 293.2 904.0 292.8 903.5Z"/>
<path fill="#b6ff00" fill-rule="evenodd" d="M164.8 918.0 164.8 961.5 165.8 961.5 170.2 966.0 178.8 978.5 183.2 983.0 187.8 985.0 192.8 985.0 195.8 984.0 197.2 983.0 201.8 978.0 202.8 975.0 202.8 970.0 201.8 967.0 197.8 960.5 196.2 959.0 186.8 945.0 183.8 936.5 177.8 923.5 174.8 920.5 172.2 919.0 168.8 918.5 168.2 918.0ZM280.8 907.5 276.8 910.0 272.8 914.0 269.8 920.5 269.2 927.0 269.8 927.5 269.8 930.0 272.2 936.0 278.8 942.0 283.2 944.0 285.2 944.0 285.8 944.5 292.8 944.5 300.2 942.0 304.2 939.0 306.8 936.0 309.2 930.0 309.8 923.5 309.2 923.0 309.2 920.5 307.2 915.5 302.2 910.0 299.2 908.0 295.2 906.5 293.2 906.5 292.8 906.0 286.2 906.0 285.8 906.5 283.8 906.5Z"/>
<path fill="#ffd800" fill-rule="evenodd" d="M164.8 921.0 164.8 957.0 172.8 964.5 178.8 973.5 184.8 980.5 187.8 982.0 192.8 982.0 195.8 980.5 198.2 978.0 199.8 975.0 199.8 970.0 199.2 968.5 196.2 963.5 185.8 949.0 182.8 942.5 181.8 938.5 177.8 931.0 177.8 930.0 175.2 925.0 171.8 922.0 168.2 921.0ZM282.8 909.5 278.2 912.0 274.8 915.5 273.2 918.0 272.2 921.0 272.2 923.0 271.8 923.5 271.8 927.0 272.2 927.5 272.8 931.5 274.2 934.5 278.2 938.5 283.8 941.5 285.8 941.5 286.2 942.0 292.2 942.0 298.8 940.0 304.8 934.5 306.2 931.5 306.8 927.5 307.2 927.0 307.2 923.5 305.2 917.0 301.2 912.5 296.2 909.5 292.8 909.0 292.2 908.5 286.8 908.5 286.2 909.0Z"/>
<path fill="#ff8c00" fill-rule="evenodd" d="M172.8 934.0 170.2 935.0 167.8 937.5 166.2 940.5 164.8 942.0 164.8 949.0 166.2 950.0 169.2 956.5 172.2 959.5 174.2 960.5 175.8 960.5 178.2 959.0 180.8 954.5 181.2 949.0 180.8 948.5 180.2 943.5 177.8 937.5 175.8 935.0ZM286.8 911.0 281.2 913.0 277.2 916.5 274.8 921.5 274.2 927.0 275.8 932.0 279.8 936.5 284.2 939.0 285.8 939.0 286.2 939.5 292.2 939.5 298.8 937.0 302.2 933.5 304.2 929.0 304.8 923.5 302.8 918.0 301.8 916.5 297.8 913.0 292.2 911.0Z"/>
<path fill="#ff4b00" fill-rule="evenodd" d="M287.2 913.5 282.2 915.5 279.8 917.5 277.8 920.5 276.8 924.0 276.8 926.5 278.2 931.0 280.8 934.0 285.2 936.5 291.8 937.0 296.2 935.5 299.8 932.5 301.8 928.5 302.2 924.0 300.8 919.5 296.8 915.5 291.8 913.5Z"/>
<path fill="#ff0000" fill-rule="evenodd" d="M285.8 917.0 283.2 918.5 281.2 920.5 280.2 922.5 279.8 926.0 281.2 930.0 283.8 932.5 287.2 934.0 291.2 934.0 295.2 932.5 297.8 930.0 299.2 926.0 298.8 922.5 297.8 920.5 295.8 918.5 293.2 917.0 291.8 917.0 291.2 916.5Z"/>
<path d="M170.5 979.0H373.1M271.8 877.7V1080.3" stroke="#000" stroke-width="1.0" fill="none"/>
</g>
<circle cx="271.8" cy="979.0" r="101.3" fill="none" stroke="#333" stroke-width="1"/>
<line x1="271.8" y1="979.0" x2="305.2" y2="877.4" stroke="#000" stroke-width="1.3"/>
<g clip-path="url(#c10)"><rect x="422.3" y="875.7" width="206.6" height="206.6" fill="#0000ff"/>
<path fill="#04906e" fill-rule="evenodd" d="M455.6 872.0 455.6 873.5 455.1 874.0 455.1 886.5 455.6 887.0 455.6 892.5 456.1 893.0 456.1 898.5 456.6 899.0 457.6 916.0 458.1 916.5 458.1 919.0 458.6 919.5 459.1 923.5 471.1 952.0 484.6 972.5 491.1 978.5 502.1 983.5 505.6 984.5 508.1 986.0 511.6 987.0 514.0 988.5 522.0 991.0 529.5 991.0 538.0 988.0 539.0 988.5 541.5 988.5 542.0 989.0 544.5 989.0 545.0 989.5 550.5 989.5 551.0 989.0 553.5 989.0 554.0 988.5 556.0 988.5 556.5 988.0 558.5 988.0 559.0 987.5 561.0 987.5 561.5 987.0 563.5 987.0 564.0 986.5 566.0 986.5 566.5 986.0 568.5 986.0 569.0 985.5 571.0 985.5 571.5 985.0 573.5 985.0 574.0 984.5 576.0 984.5 576.5 984.0 578.5 984.0 579.0 983.5 581.0 983.5 581.5 983.0 593.0 981.0 597.0 979.0 599.5 976.5 602.5 974.5 612.0 974.5 617.0 973.0 622.0 970.0 625.0 966.5 627.0 962.5 627.5 959.0 628.0 958.5 628.0 953.5 627.5 953.0 627.5 951.0 626.5 948.0 623.0 942.5 621.0 941.0 616.5 936.0 613.0 918.0 610.0 911.0 609.5 908.5 608.5 907.0 608.0 904.5 607.0 903.0 606.5 900.5 605.5 899.0 605.0 896.5 604.0 895.0 603.5 892.5 602.5 891.0 602.0 888.5 599.0 882.5 593.5 877.5 590.5 876.5 588.5 876.5 588.0 876.0 585.0 876.0 584.5 876.5 582.5 876.5 579.5 877.5 574.0 882.5 572.0 886.5 572.0 888.5 571.5 889.0 571.5 895.0 572.0 895.5 572.0 897.0 574.0 901.5 574.5 904.0 575.5 905.5 576.0 908.0 577.0 909.5 577.5 912.0 578.5 913.5 579.0 916.0 580.0 917.5 580.5 920.0 581.5 921.5 582.0 924.0 583.0 925.5 585.0 932.5 585.5 937.5 586.0 938.0 586.0 943.5 585.0 945.5 580.0 951.5 577.0 953.0 565.5 955.0 565.0 955.5 563.0 955.5 562.5 956.0 560.5 956.0 560.0 956.5 558.0 956.5 557.5 957.0 555.5 957.0 555.0 957.5 553.0 957.5 552.5 958.0 550.5 958.0 550.0 958.5 548.0 958.5 547.5 959.0 545.5 959.0 545.0 959.5 540.5 959.5 532.5 954.5 521.5 950.5 514.0 947.0 510.6 943.0 505.1 934.5 495.1 910.5 494.6 902.0 494.1 901.5 494.1 896.0 493.6 895.5 493.6 890.0 493.1 889.5 493.1 884.0 492.6 883.5 492.6 878.5 492.1 878.0 491.6 872.0Z"/>
<path fill="#22ff00" fill-rule="evenodd" d="M458.1 872.0 458.1 875.0 457.6 875.5 457.6 884.0 458.1 884.5 458.1 890.0 458.6 890.5 458.6 896.0 459.1 896.5 460.1 914.0 460.6 914.5 460.6 918.0 461.1 918.5 461.1 920.5 462.1 924.0 474.1 951.5 488.1 972.5 493.1 976.5 519.0 987.5 523.0 988.0 523.5 988.5 530.5 988.0 536.5 985.0 540.0 985.0 543.5 986.5 549.0 987.0 549.5 986.5 552.0 986.5 552.5 986.0 554.5 986.0 555.0 985.5 557.0 985.5 557.5 985.0 559.5 985.0 560.0 984.5 562.0 984.5 562.5 984.0 564.5 984.0 565.0 983.5 567.0 983.5 567.5 983.0 569.5 983.0 570.0 982.5 572.0 982.5 572.5 982.0 574.5 982.0 575.0 981.5 577.0 981.5 577.5 981.0 579.5 981.0 580.0 980.5 591.5 978.5 595.0 977.0 600.5 972.0 602.0 971.5 606.5 972.0 607.0 972.5 613.5 972.0 616.5 971.0 620.5 968.5 624.0 964.0 626.0 957.5 626.0 954.5 625.5 954.0 625.0 950.0 621.5 944.0 616.0 940.0 614.0 937.0 613.0 933.5 612.5 928.5 612.0 928.0 611.5 923.0 609.0 915.0 608.0 913.5 607.5 911.0 606.5 909.5 606.0 907.0 605.0 905.5 604.5 903.0 603.5 901.5 599.0 888.5 597.0 884.5 595.5 882.5 593.0 880.5 589.5 879.0 583.5 879.0 580.0 880.5 578.0 882.0 576.0 884.5 574.5 888.0 574.5 890.5 574.0 891.0 575.0 897.5 576.0 899.0 576.5 901.5 577.5 903.0 578.0 905.5 579.0 907.0 579.5 909.5 580.5 911.0 581.0 913.5 582.0 915.0 582.5 917.5 583.5 919.0 584.0 921.5 585.0 923.0 587.0 929.0 587.5 933.5 588.5 936.5 588.5 939.0 589.0 939.5 589.0 944.0 588.0 946.0 583.5 952.0 581.5 954.0 578.5 955.5 576.5 955.5 574.0 956.5 572.0 956.5 571.5 957.0 569.5 957.0 569.0 957.5 567.0 957.5 566.5 958.0 564.5 958.0 564.0 958.5 562.0 958.5 561.5 959.0 559.5 959.0 559.0 959.5 557.0 959.5 556.5 960.0 554.5 960.0 554.0 960.5 552.0 960.5 549.0 961.5 546.5 961.5 544.0 962.5 539.0 962.5 534.0 958.5 530.0 956.5 521.5 953.5 519.0 952.0 515.5 951.0 512.0 949.0 510.1 947.0 503.1 936.5 492.6 912.0 492.1 904.5 491.6 904.0 491.6 898.5 491.1 898.0 491.1 892.5 490.6 892.0 490.6 886.5 490.1 886.0 490.1 880.5 489.6 880.0 489.6 876.5 489.1 876.0 488.6 872.0Z"/>
<path fill="#b6ff00" fill-rule="evenodd" d="M461.1 872.0 460.1 881.0 460.6 881.5 460.6 887.0 461.1 887.5 461.1 893.0 461.6 893.5 462.6 911.0 463.1 911.5 463.1 916.0 463.6 916.5 464.1 921.0 476.1 949.5 488.1 968.0 490.1 970.5 493.6 973.5 502.1 977.5 503.1 977.5 508.1 980.0 509.1 980.0 514.0 982.5 515.0 982.5 522.0 985.5 529.0 985.5 532.5 984.0 537.0 981.0 539.0 981.0 542.0 983.0 545.5 984.0 550.5 984.0 551.0 983.5 553.0 983.5 553.5 983.0 555.5 983.0 556.0 982.5 558.0 982.5 558.5 982.0 560.5 982.0 561.0 981.5 563.0 981.5 563.5 981.0 565.5 981.0 566.0 980.5 568.0 980.5 568.5 980.0 570.5 980.0 571.0 979.5 573.0 979.5 573.5 979.0 575.5 979.0 576.0 978.5 578.0 978.5 578.5 978.0 590.0 976.0 595.0 973.5 596.0 972.0 599.5 969.0 603.5 969.0 608.0 970.5 612.5 970.0 617.5 968.0 621.5 964.0 623.5 959.5 623.5 952.5 622.5 949.5 621.0 947.0 617.5 943.5 614.5 942.0 612.0 939.5 611.0 937.5 608.5 922.5 606.0 915.0 605.0 913.5 604.5 911.0 603.5 909.5 603.0 907.0 602.0 905.5 601.5 903.0 600.5 901.5 596.0 888.5 595.0 886.5 591.5 883.0 587.5 881.5 583.5 882.0 581.5 883.0 578.5 886.0 577.0 889.5 577.5 896.0 589.5 927.5 590.0 931.5 590.5 932.0 590.5 934.5 591.5 937.5 591.5 940.0 592.0 940.5 592.0 945.0 586.0 953.5 581.5 957.5 578.0 958.5 576.0 958.5 575.5 959.0 573.5 959.0 573.0 959.5 571.0 959.5 570.5 960.0 568.5 960.0 568.0 960.5 566.0 960.5 565.5 961.0 563.5 961.0 563.0 961.5 561.0 961.5 560.5 962.0 558.5 962.0 558.0 962.5 556.0 962.5 555.5 963.0 553.5 963.0 553.0 963.5 551.0 963.5 550.5 964.0 548.5 964.0 548.0 964.5 546.0 964.5 541.0 966.5 539.0 966.5 532.0 960.5 516.5 954.0 515.5 954.0 510.6 951.5 508.1 949.0 500.1 937.0 497.6 931.5 497.6 930.5 496.1 928.0 496.1 927.0 494.6 924.5 494.6 923.5 493.1 921.0 493.1 920.0 491.6 917.5 489.6 911.5 487.1 878.5 486.6 878.0 486.6 875.5 485.6 872.0Z"/>
<path fill="#ffd800" fill-rule="evenodd" d="M588.5 886.5 587.0 886.5 586.5 886.0 583.5 887.0 581.5 890.0 581.5 893.5 594.0 927.0 595.0 934.5 596.0 937.5 596.0 940.0 596.5 940.5 596.5 945.5 595.0 948.5 588.5 957.5 585.5 960.5 582.5 962.0 571.0 964.0 570.5 964.5 568.5 964.5 568.0 965.0 566.0 965.0 565.5 965.5 563.5 965.5 563.0 966.0 561.0 966.0 560.5 966.5 558.5 966.5 558.0 967.0 556.0 967.0 555.5 967.5 553.5 967.5 553.0 968.0 551.0 968.0 550.5 968.5 548.5 968.5 544.0 970.0 541.5 972.5 541.0 975.0 542.0 977.0 544.5 979.0 546.0 979.5 550.5 979.5 551.0 979.0 553.0 979.0 553.5 978.5 555.5 978.5 556.0 978.0 558.0 978.0 558.5 977.5 560.5 977.5 561.0 977.0 563.0 977.0 563.5 976.5 565.5 976.5 566.0 976.0 568.0 976.0 568.5 975.5 570.5 975.5 571.0 975.0 588.0 972.0 591.5 970.5 594.0 967.5 597.0 965.0 600.0 965.0 609.0 968.0 612.0 967.5 616.5 965.5 620.0 961.5 621.0 958.5 621.0 953.0 619.0 948.5 616.5 946.0 610.5 943.0 607.0 939.0 606.0 933.0 605.5 932.5 605.0 927.5 604.5 927.0 604.5 925.0 602.0 917.0 601.0 915.5 600.5 913.0 599.5 911.5 599.0 909.0 598.0 907.5 597.5 905.0 596.5 903.5 592.0 890.5 590.5 888.0ZM464.6 872.0 464.6 873.5 463.6 876.0 463.6 885.5 464.1 886.0 464.1 891.5 464.6 892.0 464.6 897.5 465.1 898.0 465.1 903.5 465.6 904.0 465.6 909.5 466.1 910.0 466.6 918.0 468.1 923.0 471.1 929.0 472.1 932.5 473.6 935.0 473.6 936.0 475.1 938.5 475.1 939.5 476.6 942.0 478.1 946.5 480.1 950.0 485.1 957.0 486.1 959.5 491.6 967.5 495.6 971.0 523.0 982.5 528.0 982.5 530.5 981.5 534.5 978.0 536.5 974.5 536.0 970.0 533.5 966.0 529.0 962.5 528.0 962.5 525.5 961.0 524.5 961.0 509.1 954.5 505.6 951.0 496.1 936.0 496.1 935.0 488.6 918.5 486.6 912.5 486.1 903.0 485.6 902.5 485.6 897.0 485.1 896.5 485.1 891.0 484.6 890.5 484.6 885.0 484.1 884.5 484.1 880.0 483.6 879.5 483.6 876.5 482.6 874.5 482.6 872.0Z"/>
<path fill="#ff8c00" fill-rule="evenodd" d="M490.6 957.0 490.6 960.0 493.1 963.0 496.1 964.5 500.6 964.5 501.6 964.0 503.1 962.0 502.6 958.5 500.6 956.5 497.6 955.0 493.1 955.0Z"/>
<path d="M424.3 979.0H626.9M525.6 877.7V1080.3" stroke="#000" stroke-width="1.0" fill="none"/>
</g>
<circle cx="525.6" cy="979.0" r="101.3" fill="none" stroke="#333" stroke-width="1"/>
<g clip-path="url(#c11)"><rect x="672.5" y="875.7" width="206.6" height="206.6" fill="#0000ff"/>
<path fill="#04906e" fill-rule="evenodd" d="M668.8 911.0 668.8 941.0 670.8 941.5 679.8 951.5 690.8 972.0 695.2 977.5 698.2 979.5 701.2 980.5 708.2 980.5 711.2 979.5 714.2 977.5 717.8 973.0 718.8 970.0 719.2 965.5 718.8 965.0 718.8 962.5 717.2 958.0 715.2 955.0 712.8 949.5 711.8 948.5 706.2 937.5 700.8 930.5 683.8 912.5 682.2 911.5 677.2 910.0 673.2 910.0 672.8 910.5ZM723.2 887.0 720.8 891.5 720.2 894.0 719.2 895.5 717.8 901.0 716.8 902.5 715.8 906.5 714.8 908.0 713.2 913.5 712.2 915.0 710.2 921.0 710.2 923.0 709.8 923.5 709.8 930.0 710.8 933.5 714.2 939.5 724.2 953.5 729.2 959.5 733.8 962.5 746.2 968.5 747.2 968.5 753.8 972.0 754.8 972.0 766.8 978.5 772.8 979.5 773.2 980.0 790.8 980.5 800.8 983.5 809.2 983.5 809.8 983.0 811.8 983.0 816.8 981.5 818.8 981.5 823.8 980.0 825.8 980.0 830.8 978.5 837.2 977.5 842.2 975.5 847.2 971.0 851.8 964.0 858.2 956.0 862.8 948.0 865.8 937.5 866.2 932.5 866.8 932.0 866.8 927.5 867.2 927.0 866.8 920.5 864.8 913.5 861.2 909.0 856.8 906.5 851.8 905.5 849.2 903.0 836.2 878.5 833.2 874.5 832.2 872.0 810.8 872.0 810.8 873.0 809.2 875.0 806.8 880.5 806.2 887.0 807.8 892.0 824.2 923.0 828.8 938.0 828.8 941.5 827.2 944.5 823.8 948.0 819.2 949.5 814.8 950.0 812.2 951.0 809.2 951.0 808.8 951.5 804.8 951.0 802.8 950.0 798.8 949.5 798.2 949.0 782.8 947.5 782.2 947.0 779.2 947.0 778.8 946.5 775.2 946.0 752.8 935.5 749.8 932.5 748.8 930.5 749.2 925.5 750.2 923.5 750.8 919.5 751.2 919.0 751.2 916.5 751.8 916.0 751.8 911.5 752.2 911.0 752.2 906.5 752.8 905.0 757.2 900.5 767.8 892.5 772.2 888.0 774.2 884.0 774.8 880.0 775.2 879.5 774.2 872.0 739.2 872.0 738.8 873.5 734.8 877.5Z"/>
<path fill="#22ff00" fill-rule="evenodd" d="M668.8 913.5 668.8 937.0 669.8 937.0 671.2 938.0 682.2 950.5 693.2 971.0 698.2 976.5 701.8 978.0 707.8 978.0 711.2 976.5 714.8 973.0 716.2 969.5 716.2 963.0 713.2 956.0 712.2 955.0 702.8 937.0 688.2 920.5 682.8 915.0 680.2 913.5 676.8 912.5 673.8 912.5 673.2 913.0ZM725.8 888.0 722.8 893.5 722.2 896.0 721.2 897.5 719.8 903.0 718.8 904.5 717.8 908.5 716.8 910.0 715.2 915.5 712.8 921.5 712.2 929.0 713.2 932.5 726.8 952.5 732.2 958.5 742.8 964.0 743.8 964.0 760.2 972.0 766.2 976.0 773.2 978.0 791.2 978.0 791.8 978.5 796.2 979.0 801.2 981.0 808.8 981.0 809.2 980.5 811.2 980.5 811.8 980.0 813.8 980.0 818.8 978.5 820.8 978.5 825.8 977.0 827.8 977.0 828.2 976.5 836.8 975.0 842.2 972.5 844.8 970.0 851.2 960.5 856.8 954.5 860.2 948.5 862.8 941.5 862.8 940.0 864.2 935.5 864.2 933.0 864.8 932.5 864.8 929.0 865.2 928.5 864.8 920.0 863.2 915.0 862.2 913.0 857.8 909.0 854.8 908.0 849.8 907.5 847.8 905.5 833.2 878.5 829.2 874.0 828.2 872.0 814.8 872.0 814.8 873.0 810.8 877.5 809.8 879.5 808.8 883.0 808.8 886.5 809.8 890.0 813.8 898.0 814.8 899.0 817.8 905.5 818.8 906.5 825.8 920.0 831.2 937.5 831.2 942.5 828.2 947.5 825.8 950.0 823.8 951.0 819.8 951.5 814.8 953.0 812.8 953.0 812.2 953.5 810.2 953.5 809.8 954.0 805.8 954.0 797.8 951.5 782.2 950.0 781.8 949.5 778.8 949.5 778.2 949.0 776.2 949.0 773.2 948.0 751.8 938.0 748.2 935.0 746.8 932.5 746.2 929.5 748.2 923.5 748.2 922.0 749.2 919.5 749.2 917.0 749.8 916.5 750.2 904.5 753.2 900.5 764.2 891.5 766.8 890.0 770.8 885.5 772.2 881.5 771.8 872.0 743.2 872.0 742.8 873.5 738.8 877.5Z"/>
<path fill="#b6ff00" fill-rule="evenodd" d="M668.8 917.0 668.8 932.5 671.8 934.0 683.8 947.5 697.2 971.5 699.2 973.5 702.2 975.0 707.2 975.0 710.2 973.5 711.8 972.0 713.2 969.0 713.2 963.5 711.8 959.5 710.8 958.5 708.8 954.0 707.8 953.0 705.8 948.5 704.8 947.5 699.8 938.0 681.8 918.0 678.2 916.0 676.8 916.0 676.2 915.5 674.2 915.5 670.2 917.0ZM727.2 891.0 724.2 898.0 722.8 903.5 721.8 905.0 720.8 909.0 719.8 910.5 718.2 916.0 715.8 922.0 715.8 923.5 715.2 924.0 715.8 930.5 721.2 939.5 722.8 941.0 728.2 949.5 733.2 955.5 742.2 960.5 743.2 960.5 749.8 964.0 750.8 964.0 757.2 967.5 759.2 968.0 764.8 972.5 768.2 974.5 771.2 975.5 773.2 975.5 773.8 976.0 794.2 975.5 801.2 978.0 808.8 978.0 809.2 977.5 813.8 977.0 816.2 976.0 818.2 976.0 818.8 975.5 820.8 975.5 823.2 974.5 825.2 974.5 825.8 974.0 827.8 974.0 830.2 973.0 836.2 972.0 839.8 970.5 843.2 967.0 845.8 963.0 855.2 953.0 859.2 945.5 862.2 935.5 862.8 929.0 863.2 928.5 863.2 923.5 862.8 923.0 862.8 920.0 861.8 916.5 859.2 912.5 857.2 911.0 854.2 910.0 850.8 910.0 850.2 910.5 847.8 910.0 845.2 907.5 831.2 881.0 826.8 876.0 824.8 875.0 822.8 875.0 822.2 874.5 818.8 875.0 815.2 877.0 812.2 881.5 811.8 886.0 812.8 889.5 819.2 902.0 820.2 903.0 823.8 910.5 824.8 911.5 829.8 922.0 833.8 936.0 833.8 940.0 834.2 940.5 833.8 941.0 833.8 943.5 831.2 948.5 827.8 952.5 824.2 954.0 822.2 954.0 821.8 954.5 815.2 955.5 810.2 957.0 805.2 957.0 797.8 954.5 782.8 953.0 782.2 952.5 778.8 952.5 778.2 952.0 775.8 952.0 772.8 951.0 749.2 940.0 746.8 938.0 743.8 933.5 743.8 930.0 746.8 921.5 747.2 917.5 747.8 917.0 747.8 912.5 748.2 912.0 747.8 904.5 748.2 904.0 748.2 902.0 752.8 897.0 763.8 888.5 767.8 884.5 769.2 881.5 768.8 872.0 747.8 872.0 746.8 874.5 730.2 888.0Z"/>
<path fill="#ffd800" fill-rule="evenodd" d="M764.8 965.5 764.8 968.0 767.2 971.0 768.8 972.0 773.8 973.5 782.8 973.5 783.2 973.0 785.2 973.0 788.8 971.5 790.8 969.5 791.2 968.0 790.8 965.0 787.8 962.0 781.8 960.0 774.2 960.0 773.8 960.5 770.2 961.0 767.2 962.5ZM855.2 913.0 850.8 913.0 847.8 914.0 844.2 917.5 839.2 926.5 837.8 931.0 837.2 937.0 836.8 937.5 836.8 945.5 836.2 946.0 836.2 948.0 836.8 948.5 837.2 952.5 838.2 954.5 842.2 958.0 845.2 958.0 847.2 957.0 852.8 952.0 854.8 949.0 858.2 941.0 858.2 939.5 859.8 935.5 859.8 933.0 860.2 932.5 860.8 923.5 860.2 923.0 860.2 920.0 858.8 916.0ZM741.2 897.0 737.8 897.0 734.2 899.5 730.2 906.5 728.2 913.0 728.2 915.5 727.8 916.0 727.8 927.0 728.2 927.5 728.2 929.0 729.8 932.5 732.2 935.0 733.8 935.0 734.2 935.5 737.8 934.5 739.8 932.5 743.2 924.5 744.2 919.5 744.8 919.0 744.8 917.0 745.2 916.5 745.2 912.5 745.8 912.0 745.2 902.5 744.2 899.5Z"/>
<path d="M674.5 979.0H877.1M775.8 877.7V1080.3" stroke="#000" stroke-width="1.0" fill="none"/>
</g>
<circle cx="775.8" cy="979.0" r="101.3" fill="none" stroke="#333" stroke-width="1"/>
<text letter-spacing="0.8" x="43.5" y="72.9" font-size="34.0" font-weight="bold" text-anchor="start" fill="#000">(a)</text>
<text letter-spacing="1.5" x="44.5" y="617.9" font-size="34.0" font-weight="bold" text-anchor="start" fill="#000">(b)</text>
<text x="52.0" y="171.7" font-size="21.0" font-weight="bold" text-anchor="start" fill="#000">PwdL</text>
<path d="M52.5 174.2L54.5 173.2L56.5 174.7L58.5 173.2L60.5 174.7L62.5 173.2L64.5 174.7L66.5 173.2L68.5 174.7L70.5 173.2L72.5 174.7L74.5 173.2L76.5 174.7L78.5 173.2L80.5 174.7L82.5 173.2L84.5 174.7L86.5 173.2L88.5 174.7L90.5 173.2L92.5 174.7L94.5 173.2L96.5 174.7L98.5 173.2L100.5 174.7L102.5 173.2L104.5 174.7L106.5 173.2L108.5 174.7" stroke="#f08080" stroke-width="0.9" fill="none"/>
<text x="52.0" y="431.7" font-size="21.0" font-weight="bold" text-anchor="start" fill="#000">PwdS</text>
<path d="M52.5 434.2L54.5 433.2L56.5 434.7L58.5 433.2L60.5 434.7L62.5 433.2L64.5 434.7L66.5 433.2L68.5 434.7L70.5 433.2L72.5 434.7L74.5 433.2L76.5 434.7L78.5 433.2L80.5 434.7L82.5 433.2L84.5 434.7L86.5 433.2L88.5 434.7L90.5 433.2L92.5 434.7L94.5 433.2L96.5 434.7L98.5 433.2L100.5 434.7L102.5 433.2L104.5 434.7L106.5 433.2L108.5 434.7" stroke="#f08080" stroke-width="0.9" fill="none"/>
<text x="52.0" y="725.0" font-size="21.0" font-weight="bold" text-anchor="start" fill="#000">PwdL</text>
<path d="M52.5 727.5L54.5 726.5L56.5 728.0L58.5 726.5L60.5 728.0L62.5 726.5L64.5 728.0L66.5 726.5L68.5 728.0L70.5 726.5L72.5 728.0L74.5 726.5L76.5 728.0L78.5 726.5L80.5 728.0L82.5 726.5L84.5 728.0L86.5 726.5L88.5 728.0L90.5 726.5L92.5 728.0L94.5 726.5L96.5 728.0L98.5 726.5L100.5 728.0L102.5 726.5L104.5 728.0L106.5 726.5L108.5 728.0" stroke="#f08080" stroke-width="0.9" fill="none"/>
<text x="273.1" y="55.6" font-size="20.0" font-weight="normal" text-anchor="middle" fill="#000">BD</text>
<text x="167.3" y="170.7" font-size="20.0" font-weight="normal" text-anchor="end" fill="#000">TD</text>
<text letter-spacing="-1.3" x="271.1" y="287.8" font-size="22.5" font-weight="normal" text-anchor="middle" fill="#000">0 0 1</text>
<text x="526.7" y="55.7" font-size="20.0" font-weight="normal" text-anchor="middle" fill="#000">BD</text>
<text x="420.9" y="170.8" font-size="20.0" font-weight="normal" text-anchor="end" fill="#000">TD</text>
<text letter-spacing="-1.3" x="524.7" y="287.9" font-size="22.5" font-weight="normal" text-anchor="middle" fill="#000">1 1 1</text>
<text x="769.0" y="55.7" font-size="20.0" font-weight="normal" text-anchor="middle" fill="#000">BD</text>
<text x="663.2" y="170.8" font-size="20.0" font-weight="normal" text-anchor="end" fill="#000">TD</text>
<text letter-spacing="-1.3" x="767.0" y="287.9" font-size="22.5" font-weight="normal" text-anchor="middle" fill="#000">1 1 0</text>
<text x="273.0" y="317.7" font-size="20.0" font-weight="normal" text-anchor="middle" fill="#000">BD</text>
<text x="167.2" y="432.8" font-size="20.0" font-weight="normal" text-anchor="end" fill="#000">TD</text>
<text letter-spacing="-1.3" x="271.0" y="549.9" font-size="22.5" font-weight="normal" text-anchor="middle" fill="#000">0 0 1</text>
<text x="525.7" y="318.0" font-size="20.0" font-weight="normal" text-anchor="middle" fill="#000">BD</text>
<text x="419.9" y="433.1" font-size="20.0" font-weight="normal" text-anchor="end" fill="#000">TD</text>
<text letter-spacing="-1.3" x="523.7" y="550.2" font-size="22.5" font-weight="normal" text-anchor="middle" fill="#000">1 1 1</text>
<text x="770.5" y="317.2" font-size="20.0" font-weight="normal" text-anchor="middle" fill="#000">BD</text>
<text x="664.7" y="432.3" font-size="20.0" font-weight="normal" text-anchor="end" fill="#000">TD</text>
<text letter-spacing="-1.3" x="768.5" y="549.4" font-size="22.5" font-weight="normal" text-anchor="middle" fill="#000">1 1 0</text>
<text x="271.3" y="608.6" font-size="20.0" font-weight="normal" text-anchor="middle" fill="#000">BD</text>
<text x="378.1" y="724.2" font-size="20.0" font-weight="normal" text-anchor="start" fill="#000">LD</text>
<text letter-spacing="-1.3" x="269.3" y="840.8" font-size="22.5" font-weight="normal" text-anchor="middle" fill="#000">0 0 1</text>
<text x="525.1" y="609.0" font-size="20.0" font-weight="normal" text-anchor="middle" fill="#000">BD</text>
<text x="631.9" y="724.6" font-size="20.0" font-weight="normal" text-anchor="start" fill="#000">LD</text>
<text letter-spacing="-1.3" x="523.1" y="841.2" font-size="22.5" font-weight="normal" text-anchor="middle" fill="#000">1 1 1</text>
<text x="776.0" y="608.4" font-size="20.0" font-weight="normal" text-anchor="middle" fill="#000">BD</text>
<text x="882.8" y="724.0" font-size="20.0" font-weight="normal" text-anchor="start" fill="#000">LD</text>
<text letter-spacing="-1.3" x="774.0" y="840.6" font-size="22.5" font-weight="normal" text-anchor="middle" fill="#000">1 1 0</text>
<text x="271.8" y="871.4" font-size="20.0" font-weight="normal" text-anchor="middle" fill="#000">BD</text>
<text x="525.6" y="871.4" font-size="20.0" font-weight="normal" text-anchor="middle" fill="#000">BD</text>
<text x="775.8" y="871.4" font-size="20.0" font-weight="normal" text-anchor="middle" fill="#000">BD</text>
<text x="326.0" y="620.7" font-size="20.0" font-weight="normal" text-anchor="start" fill="#000">60.9º</text>
<text x="310.5" y="874.5" font-size="20.0" font-weight="normal" text-anchor="start" fill="#000">72.5º</text>
<rect x="940.5" y="91.2" width="30.5" height="19.4" fill="#ff0000"/>
<rect x="940.5" y="110.6" width="30.5" height="19.4" fill="#ff4b00"/>
<rect x="940.5" y="130.0" width="30.5" height="19.4" fill="#ff8c00"/>
<rect x="940.5" y="149.4" width="30.5" height="19.4" fill="#ffd800"/>
<rect x="940.5" y="168.8" width="30.5" height="19.4" fill="#b6ff00"/>
<rect x="940.5" y="188.2" width="30.5" height="19.4" fill="#22ff00"/>
<rect x="940.5" y="207.6" width="30.5" height="19.4" fill="#04906e"/>
<rect x="940.5" y="227.0" width="30.5" height="19.4" fill="#0000ff"/>
<line x1="940" y1="91.2" x2="971.5" y2="91.2" stroke="#000" stroke-width="1.6"/>
<line x1="940" y1="110.6" x2="971.5" y2="110.6" stroke="#000" stroke-width="1.6"/>
<line x1="940" y1="130.0" x2="971.5" y2="130.0" stroke="#000" stroke-width="1.6"/>
<line x1="940" y1="149.4" x2="971.5" y2="149.4" stroke="#000" stroke-width="1.6"/>
<line x1="940" y1="168.8" x2="971.5" y2="168.8" stroke="#000" stroke-width="1.6"/>
<line x1="940" y1="188.2" x2="971.5" y2="188.2" stroke="#000" stroke-width="1.6"/>
<line x1="940" y1="207.6" x2="971.5" y2="207.6" stroke="#000" stroke-width="1.6"/>
<line x1="940" y1="227.0" x2="971.5" y2="227.0" stroke="#000" stroke-width="1.6"/>
<line x1="940" y1="246.4" x2="971.5" y2="246.4" stroke="#000" stroke-width="1.6"/>
<path d="M940.5 91.2V246.4M971 91.2V246.4" stroke="#000" stroke-width="1.3"/>
<text x="977.0" y="95.8" font-size="13.0" font-weight="normal" text-anchor="start" fill="#222">max = 5.672</text>
<text x="977.0" y="115.2" font-size="13.0" font-weight="normal" text-anchor="start" fill="#222">4.247</text>
<text x="977.0" y="134.6" font-size="13.0" font-weight="normal" text-anchor="start" fill="#222">3.180</text>
<text x="977.0" y="154.0" font-size="13.0" font-weight="normal" text-anchor="start" fill="#222">2.381</text>
<text x="977.0" y="173.4" font-size="13.0" font-weight="normal" text-anchor="start" fill="#222">1.783</text>
<text x="977.0" y="192.8" font-size="13.0" font-weight="normal" text-anchor="start" fill="#222">1.335</text>
<text x="977.0" y="212.2" font-size="13.0" font-weight="normal" text-anchor="start" fill="#222">1.000</text>
<text x="977.0" y="231.6" font-size="13.0" font-weight="normal" text-anchor="start" fill="#222">0.749</text>
<rect x="940.5" y="352.1" width="30.5" height="19.4" fill="#ff0000"/>
<rect x="940.5" y="371.5" width="30.5" height="19.4" fill="#ff4b00"/>
<rect x="940.5" y="390.9" width="30.5" height="19.4" fill="#ff8c00"/>
<rect x="940.5" y="410.3" width="30.5" height="19.4" fill="#ffd800"/>
<rect x="940.5" y="429.7" width="30.5" height="19.4" fill="#b6ff00"/>
<rect x="940.5" y="449.1" width="30.5" height="19.4" fill="#22ff00"/>
<rect x="940.5" y="468.5" width="30.5" height="19.4" fill="#04906e"/>
<rect x="940.5" y="487.9" width="30.5" height="19.4" fill="#0000ff"/>
<line x1="940" y1="352.1" x2="971.5" y2="352.1" stroke="#000" stroke-width="1.6"/>
<line x1="940" y1="371.5" x2="971.5" y2="371.5" stroke="#000" stroke-width="1.6"/>
<line x1="940" y1="390.9" x2="971.5" y2="390.9" stroke="#000" stroke-width="1.6"/>
<line x1="940" y1="410.3" x2="971.5" y2="410.3" stroke="#000" stroke-width="1.6"/>
<line x1="940" y1="429.7" x2="971.5" y2="429.7" stroke="#000" stroke-width="1.6"/>
<line x1="940" y1="449.1" x2="971.5" y2="449.1" stroke="#000" stroke-width="1.6"/>
<line x1="940" y1="468.5" x2="971.5" y2="468.5" stroke="#000" stroke-width="1.6"/>
<line x1="940" y1="487.9" x2="971.5" y2="487.9" stroke="#000" stroke-width="1.6"/>
<line x1="940" y1="507.3" x2="971.5" y2="507.3" stroke="#000" stroke-width="1.6"/>
<path d="M940.5 352.1V507.3M971 352.1V507.3" stroke="#000" stroke-width="1.3"/>
<text x="977.0" y="356.7" font-size="13.0" font-weight="normal" text-anchor="start" fill="#222">max = 6.264</text>
<text x="977.0" y="376.1" font-size="13.0" font-weight="normal" text-anchor="start" fill="#222">4.614</text>
<text x="977.0" y="395.5" font-size="13.0" font-weight="normal" text-anchor="start" fill="#222">3.398</text>
<text x="977.0" y="414.9" font-size="13.0" font-weight="normal" text-anchor="start" fill="#222">2.503</text>
<text x="977.0" y="434.3" font-size="13.0" font-weight="normal" text-anchor="start" fill="#222">1.843</text>
<text x="977.0" y="453.7" font-size="13.0" font-weight="normal" text-anchor="start" fill="#222">1.358</text>
<text x="977.0" y="473.1" font-size="13.0" font-weight="normal" text-anchor="start" fill="#222">1.000</text>
<text x="977.0" y="492.5" font-size="13.0" font-weight="normal" text-anchor="start" fill="#222">0.737</text>
<rect x="940.5" y="642.1" width="30.5" height="19.4" fill="#ff0000"/>
<rect x="940.5" y="661.5" width="30.5" height="19.4" fill="#ff4b00"/>
<rect x="940.5" y="680.9" width="30.5" height="19.4" fill="#ff8c00"/>
<rect x="940.5" y="700.3" width="30.5" height="19.4" fill="#ffd800"/>
<rect x="940.5" y="719.7" width="30.5" height="19.4" fill="#b6ff00"/>
<rect x="940.5" y="739.1" width="30.5" height="19.4" fill="#22ff00"/>
<rect x="940.5" y="758.5" width="30.5" height="19.4" fill="#04906e"/>
<rect x="940.5" y="777.9" width="30.5" height="19.4" fill="#0000ff"/>
<line x1="940" y1="642.1" x2="971.5" y2="642.1" stroke="#000" stroke-width="1.6"/>
<line x1="940" y1="661.5" x2="971.5" y2="661.5" stroke="#000" stroke-width="1.6"/>
<line x1="940" y1="680.9" x2="971.5" y2="680.9" stroke="#000" stroke-width="1.6"/>
<line x1="940" y1="700.3" x2="971.5" y2="700.3" stroke="#000" stroke-width="1.6"/>
<line x1="940" y1="719.7" x2="971.5" y2="719.7" stroke="#000" stroke-width="1.6"/>
<line x1="940" y1="739.1" x2="971.5" y2="739.1" stroke="#000" stroke-width="1.6"/>
<line x1="940" y1="758.5" x2="971.5" y2="758.5" stroke="#000" stroke-width="1.6"/>
<line x1="940" y1="777.9" x2="971.5" y2="777.9" stroke="#000" stroke-width="1.6"/>
<line x1="940" y1="797.3" x2="971.5" y2="797.3" stroke="#000" stroke-width="1.6"/>
<path d="M940.5 642.1V797.3M971 642.1V797.3" stroke="#000" stroke-width="1.3"/>
<text x="977.0" y="646.7" font-size="13.0" font-weight="normal" text-anchor="start" fill="#222">max = 12.228</text>
<text x="977.0" y="666.1" font-size="13.0" font-weight="normal" text-anchor="start" fill="#222">8.056</text>
<text x="977.0" y="685.5" font-size="13.0" font-weight="normal" text-anchor="start" fill="#222">5.308</text>
<text x="977.0" y="704.9" font-size="13.0" font-weight="normal" text-anchor="start" fill="#222">3.497</text>
<text x="977.0" y="724.3" font-size="13.0" font-weight="normal" text-anchor="start" fill="#222">2.304</text>
<text x="977.0" y="743.7" font-size="13.0" font-weight="normal" text-anchor="start" fill="#222">1.518</text>
<text x="977.0" y="763.1" font-size="13.0" font-weight="normal" text-anchor="start" fill="#222">1.000</text>
<text x="977.0" y="782.5" font-size="13.0" font-weight="normal" text-anchor="start" fill="#222">0.659</text>
<rect x="940.5" y="901.1" width="30.5" height="19.4" fill="#ff0000"/>
<rect x="940.5" y="920.5" width="30.5" height="19.4" fill="#ff4b00"/>
<rect x="940.5" y="939.9" width="30.5" height="19.4" fill="#ff8c00"/>
<rect x="940.5" y="959.3" width="30.5" height="19.4" fill="#ffd800"/>
<rect x="940.5" y="978.7" width="30.5" height="19.4" fill="#b6ff00"/>
<rect x="940.5" y="998.1" width="30.5" height="19.4" fill="#22ff00"/>
<rect x="940.5" y="1017.5" width="30.5" height="19.4" fill="#04906e"/>
<rect x="940.5" y="1036.9" width="30.5" height="19.4" fill="#0000ff"/>
<line x1="940" y1="901.1" x2="971.5" y2="901.1" stroke="#000" stroke-width="1.6"/>
<line x1="940" y1="920.5" x2="971.5" y2="920.5" stroke="#000" stroke-width="1.6"/>
<line x1="940" y1="939.9" x2="971.5" y2="939.9" stroke="#000" stroke-width="1.6"/>
<line x1="940" y1="959.3" x2="971.5" y2="959.3" stroke="#000" stroke-width="1.6"/>
<line x1="940" y1="978.7" x2="971.5" y2="978.7" stroke="#000" stroke-width="1.6"/>
<line x1="940" y1="998.1" x2="971.5" y2="998.1" stroke="#000" stroke-width="1.6"/>
<line x1="940" y1="1017.5" x2="971.5" y2="1017.5" stroke="#000" stroke-width="1.6"/>
<line x1="940" y1="1036.9" x2="971.5" y2="1036.9" stroke="#000" stroke-width="1.6"/>
<line x1="940" y1="1056.3" x2="971.5" y2="1056.3" stroke="#000" stroke-width="1.6"/>
<path d="M940.5 901.1V1056.3M971 901.1V1056.3" stroke="#000" stroke-width="1.3"/>
<text x="977.0" y="905.7" font-size="13.0" font-weight="normal" text-anchor="start" fill="#222">max = 17.507</text>
<text x="977.0" y="925.1" font-size="13.0" font-weight="normal" text-anchor="start" fill="#222">10.865</text>
<text x="977.0" y="944.5" font-size="13.0" font-weight="normal" text-anchor="start" fill="#222">6.742</text>
<text x="977.0" y="963.9" font-size="13.0" font-weight="normal" text-anchor="start" fill="#222">4.184</text>
<text x="977.0" y="983.3" font-size="13.0" font-weight="normal" text-anchor="start" fill="#222">2.6</text>
<text x="977.0" y="1002.7" font-size="13.0" font-weight="normal" text-anchor="start" fill="#222">1.6</text>
<text x="977.0" y="1022.1" font-size="13.0" font-weight="normal" text-anchor="start" fill="#222">1.000</text>
<text x="977.0" y="1041.5" font-size="13.0" font-weight="normal" text-anchor="start" fill="#222">0.6</text>
<rect x="0" y="966" width="1099" height="39" fill="#fff"/>
<line x1="37" y1="966.5" x2="1058" y2="966.5" stroke="#7d7a88" stroke-width="1"/>
<line x1="37" y1="967.5" x2="1058" y2="967.5" stroke="#c9c3cf" stroke-width="1"/>
<line x1="37" y1="968.5" x2="1058" y2="968.5" stroke="#b5b8ad" stroke-width="1"/>
<line x1="37" y1="969.5" x2="1058" y2="969.5" stroke="#a69cb0" stroke-width="1"/>
<line x1="37" y1="970.5" x2="1058" y2="970.5" stroke="#8f8a98" stroke-width="1"/>
<path d="M37 966.5h3M118 966.5h6M131 966.5h4M253 966.5h3M431 966.5h2M435 966.5h2M454 966.5h6M547 966.5h4M558 966.5h1M782 966.5h4M817 966.5h2M823 966.5h1M853 966.5h6M935 966.5h6M953 966.5h4M959 966.5h2" stroke="#6a6af0" stroke-width="1" stroke-opacity="0.55"/>
<path d="M51 966.5h1M61 966.5h1M73 966.5h4M93 966.5h1M235 966.5h6M300 966.5h1M308 966.5h4M338 966.5h6M541 966.5h2M582 966.5h4M609 966.5h2M750 966.5h2M797 966.5h3M965 966.5h4M997 966.5h1" stroke="#5ac0a0" stroke-width="1" stroke-opacity="0.55"/>
<path d="M54 966.5h3M98 966.5h6M158 966.5h6M267 966.5h4M441 966.5h2M467 966.5h3M495 966.5h6M553 966.5h3M561 966.5h3M625 966.5h6M645 966.5h6M712 966.5h1M850 966.5h1M911 966.5h2M1009 966.5h6" stroke="#e05a8a" stroke-width="1" stroke-opacity="0.55"/>
<path d="M81 966.5h1M155 966.5h1M168 966.5h4M405 966.5h4M474 966.5h4M672 966.5h6M844 966.5h2M897 966.5h3M920 966.5h4M945 966.5h6M971 966.5h3M985 966.5h1" stroke="#60d060" stroke-width="1" stroke-opacity="0.55"/>
<path d="M115 966.5h1M147 966.5h1M204 966.5h2M355 966.5h1M363 966.5h2M685 966.5h2M691 966.5h4M756 966.5h4M870 966.5h2M874 966.5h3M884 966.5h6M988 966.5h2M1039 966.5h6M1052 966.5h6" stroke="#d0b040" stroke-width="1" stroke-opacity="0.55"/>
<path d="M137 966.5h6M197 966.5h3M208 966.5h6M395 966.5h6M603 966.5h4M658 966.5h1M720 966.5h4" stroke="#40a0e0" stroke-width="1" stroke-opacity="0.55"/>
<path d="M183 966.5h3M225 966.5h3M286 966.5h3M314 966.5h3M376 966.5h4M382 966.5h2M588 966.5h4M618 966.5h3M699 966.5h6M767 966.5h2M835 966.5h2M1025 966.5h3" stroke="#f0f0f0" stroke-width="1" stroke-opacity="0.55"/>
<path d="M243 966.5h6M512 966.5h6M529 966.5h4M535 966.5h4M566 966.5h2M777 966.5h1M811 966.5h4" stroke="#303030" stroke-width="1" stroke-opacity="0.55"/>
<path d="M273 966.5h6M324 966.5h4M330 966.5h4M416 966.5h4M485 966.5h6M572 966.5h3M635 966.5h6M666 966.5h2M728 966.5h6M745 966.5h3M771 966.5h4M1017 966.5h4" stroke="#a050c0" stroke-width="1" stroke-opacity="0.55"/>
<path d="M37 967.5h2M113 967.5h6M408 967.5h2M585 967.5h6M617 967.5h6M926 967.5h3M966 967.5h1M1009 967.5h3M1032 967.5h1" stroke="#303030" stroke-width="1" stroke-opacity="0.55"/>
<path d="M41 967.5h4M92 967.5h4M330 967.5h3M352 967.5h6M460 967.5h1M523 967.5h1M718 967.5h4M733 967.5h1M764 967.5h1M773 967.5h2M799 967.5h4M818 967.5h1M821 967.5h3M826 967.5h6M879 967.5h4M897 967.5h4" stroke="#f0f0f0" stroke-width="1" stroke-opacity="0.55"/>
<path d="M52 967.5h1M64 967.5h1M86 967.5h4M126 967.5h4M263 967.5h6M302 967.5h6M314 967.5h2M447 967.5h6M531 967.5h6M635 967.5h6M712 967.5h2M741 967.5h1M805 967.5h6M839 967.5h4M953 967.5h1" stroke="#d0b040" stroke-width="1" stroke-opacity="0.55"/>
<path d="M72 967.5h1M100 967.5h2M245 967.5h1M297 967.5h3M417 967.5h1M598 967.5h4M609 967.5h6M744 967.5h6M894 967.5h1M912 967.5h3M1002 967.5h3M1049 967.5h4" stroke="#6a6af0" stroke-width="1" stroke-opacity="0.55"/>
<path d="M80 967.5h2M196 967.5h3M201 967.5h2M207 967.5h4M257 967.5h1M260 967.5h1M310 967.5h2M392 967.5h6M420 967.5h1M465 967.5h2M478 967.5h1M571 967.5h1M673 967.5h4M757 967.5h3M767 967.5h4M782 967.5h6M852 967.5h6M956 967.5h3M991 967.5h4" stroke="#40a0e0" stroke-width="1" stroke-opacity="0.55"/>
<path d="M137 967.5h3M184 967.5h6M192 967.5h2M235 967.5h3M271 967.5h3M362 967.5h4M549 967.5h3M579 967.5h2M648 967.5h3M679 967.5h4M685 967.5h6M702 967.5h3M847 967.5h1M978 967.5h6M997 967.5h3" stroke="#5ac0a0" stroke-width="1" stroke-opacity="0.55"/>
<path d="M147 967.5h1M285 967.5h1M337 967.5h3M402 967.5h2M505 967.5h2M511 967.5h1M874 967.5h1M936 967.5h1M939 967.5h3M1019 967.5h2" stroke="#a050c0" stroke-width="1" stroke-opacity="0.55"/>
<path d="M159 967.5h4M342 967.5h3M432 967.5h2M496 967.5h2M541 967.5h6M556 967.5h4M643 967.5h1M1037 967.5h1" stroke="#e05a8a" stroke-width="1" stroke-opacity="0.55"/>
<path d="M174 967.5h3M222 967.5h2M323 967.5h3M347 967.5h1M377 967.5h4M436 967.5h4M486 967.5h3M627 967.5h6M662 967.5h4M668 967.5h1M865 967.5h2" stroke="#60d060" stroke-width="1" stroke-opacity="0.55"/>
<path d="M37 968.5h4M263 968.5h2M331 968.5h6M375 968.5h6M577 968.5h1M630 968.5h1M708 968.5h4M754 968.5h3M978 968.5h1M1004 968.5h1M1043 968.5h2M1049 968.5h3" stroke="#e05a8a" stroke-width="1" stroke-opacity="0.55"/>
<path d="M45 968.5h2M137 968.5h3M276 968.5h4M461 968.5h2M486 968.5h2M582 968.5h4M605 968.5h6M623 968.5h3M679 968.5h6M723 968.5h1M762 968.5h4M791 968.5h2M815 968.5h3M880 968.5h4M975 968.5h1M990 968.5h2" stroke="#f0f0f0" stroke-width="1" stroke-opacity="0.55"/>
<path d="M58 968.5h3M68 968.5h3M82 968.5h2M220 968.5h4M237 968.5h1M257 968.5h4M344 968.5h2M367 968.5h4M383 968.5h6M423 968.5h4M726 968.5h1M797 968.5h1M864 968.5h1M907 968.5h3M917 968.5h6M930 968.5h3M999 968.5h1M1024 968.5h4" stroke="#40a0e0" stroke-width="1" stroke-opacity="0.55"/>
<path d="M95 968.5h6M183 968.5h4M242 968.5h4M282 968.5h1M452 968.5h2M465 968.5h3M534 968.5h4M613 968.5h3M703 968.5h1M777 968.5h3M860 968.5h2M961 968.5h1" stroke="#303030" stroke-width="1" stroke-opacity="0.55"/>
<path d="M103 968.5h2M300 968.5h2M326 968.5h1M524 968.5h6M540 968.5h6M560 968.5h6M835 968.5h4M888 968.5h2" stroke="#6a6af0" stroke-width="1" stroke-opacity="0.55"/>
<path d="M107 968.5h2M151 968.5h2M163 968.5h3M231 968.5h2M323 968.5h1M360 968.5h3M407 968.5h4M481 968.5h3M849 968.5h4M969 968.5h2M1017 968.5h3" stroke="#60d060" stroke-width="1" stroke-opacity="0.55"/>
<path d="M120 968.5h6M168 968.5h3M178 968.5h3M198 968.5h6M294 968.5h4M415 968.5h6M429 968.5h1M475 968.5h4M492 968.5h3M499 968.5h4M557 968.5h1M598 968.5h3M668 968.5h4M759 968.5h1M802 968.5h6M901 968.5h4M937 968.5h4M945 968.5h2M951 968.5h3M1009 968.5h6" stroke="#d0b040" stroke-width="1" stroke-opacity="0.55"/>
<path d="M157 968.5h2M306 968.5h6M357 968.5h1M441 968.5h4M510 968.5h3M593 968.5h1M633 968.5h3M643 968.5h4M662 968.5h4M825 968.5h6M843 968.5h4M867 968.5h2" stroke="#5ac0a0" stroke-width="1" stroke-opacity="0.55"/>
<path d="M215 968.5h3M400 968.5h3M651 968.5h4M689 968.5h3M731 968.5h1M739 968.5h3M744 968.5h3M1030 968.5h1M1035 968.5h1" stroke="#a050c0" stroke-width="1" stroke-opacity="0.55"/>
<path d="M37 969.5h1M188 969.5h6M312 969.5h4M540 969.5h3M652 969.5h3M676 969.5h6M743 969.5h2" stroke="#a050c0" stroke-width="1" stroke-opacity="0.55"/>
<path d="M49 969.5h3M161 969.5h4M205 969.5h2M225 969.5h6M242 969.5h6M279 969.5h6M299 969.5h4M453 969.5h1M545 969.5h2M567 969.5h4M614 969.5h3M638 969.5h2M756 969.5h2M760 969.5h2M813 969.5h2M820 969.5h4M860 969.5h6M957 969.5h2M1032 969.5h6M1045 969.5h1" stroke="#6a6af0" stroke-width="1" stroke-opacity="0.55"/>
<path d="M59 969.5h1M141 969.5h3M155 969.5h4M318 969.5h2M496 969.5h2M657 969.5h1M716 969.5h6M975 969.5h6M1017 969.5h4" stroke="#d0b040" stroke-width="1" stroke-opacity="0.55"/>
<path d="M62 969.5h4M80 969.5h4M209 969.5h1M324 969.5h1M373 969.5h4M456 969.5h3M461 969.5h1M578 969.5h1M586 969.5h3M642 969.5h3M832 969.5h1M843 969.5h6M876 969.5h4M920 969.5h3" stroke="#60d060" stroke-width="1" stroke-opacity="0.55"/>
<path d="M77 969.5h1M135 969.5h4M250 969.5h1M276 969.5h1M289 969.5h6M307 969.5h1M362 969.5h4M440 969.5h3M662 969.5h3M778 969.5h3M837 969.5h2M882 969.5h4M966 969.5h2M1028 969.5h2" stroke="#303030" stroke-width="1" stroke-opacity="0.55"/>
<path d="M88 969.5h6M176 969.5h1M214 969.5h4M327 969.5h3M435 969.5h1M477 969.5h6M624 969.5h3M706 969.5h3M773 969.5h1M902 969.5h2M947 969.5h2" stroke="#5ac0a0" stroke-width="1" stroke-opacity="0.55"/>
<path d="M98 969.5h4M113 969.5h3M127 969.5h1M235 969.5h3M262 969.5h2M354 969.5h4M500 969.5h3M507 969.5h3M521 969.5h2M534 969.5h2M558 969.5h2M600 969.5h3M733 969.5h6M873 969.5h1M915 969.5h3M934 969.5h6M951 969.5h2" stroke="#40a0e0" stroke-width="1" stroke-opacity="0.55"/>
<path d="M268 969.5h1M341 969.5h6M392 969.5h6M409 969.5h2M422 969.5h2M450 969.5h1M487 969.5h2M581 969.5h3M684 969.5h2M796 969.5h6M897 969.5h1M992 969.5h6" stroke="#f0f0f0" stroke-width="1" stroke-opacity="0.55"/>
<path d="M388 969.5h2M473 969.5h2M690 969.5h6M698 969.5h1M788 969.5h1M817 969.5h1M828 969.5h2M911 969.5h2M1009 969.5h6M1042 969.5h1M1053 969.5h2" stroke="#e05a8a" stroke-width="1" stroke-opacity="0.55"/>
<path d="M37 970.5h1M204 970.5h4M232 970.5h6M384 970.5h3M419 970.5h4M776 970.5h4M890 970.5h2M903 970.5h3M994 970.5h4" stroke="#6a6af0" stroke-width="1" stroke-opacity="0.55"/>
<path d="M40 970.5h1M117 970.5h3M146 970.5h3M186 970.5h4M194 970.5h3M279 970.5h4M478 970.5h4M571 970.5h3M662 970.5h4M866 970.5h6M977 970.5h6M1015 970.5h6" stroke="#e05a8a" stroke-width="1" stroke-opacity="0.55"/>
<path d="M43 970.5h6M103 970.5h3M132 970.5h3M219 970.5h6M268 970.5h3M326 970.5h3M391 970.5h2M640 970.5h6M737 970.5h2M758 970.5h4M1055 970.5h2" stroke="#a050c0" stroke-width="1" stroke-opacity="0.55"/>
<path d="M53 970.5h6M75 970.5h2M79 970.5h1M87 970.5h4M258 970.5h2M413 970.5h2M585 970.5h4M723 970.5h2M823 970.5h6M849 970.5h1M874 970.5h2M883 970.5h3M918 970.5h6M937 970.5h6" stroke="#5ac0a0" stroke-width="1" stroke-opacity="0.55"/>
<path d="M70 970.5h1M95 970.5h1M168 970.5h6M245 970.5h2M307 970.5h4M357 970.5h3M371 970.5h6M400 970.5h2M441 970.5h3M504 970.5h2M527 970.5h4M598 970.5h2M698 970.5h6M715 970.5h4" stroke="#d0b040" stroke-width="1" stroke-opacity="0.55"/>
<path d="M127 970.5h3M176 970.5h6M290 970.5h2M409 970.5h2M427 970.5h3M446 970.5h1M522 970.5h3M542 970.5h2M648 970.5h3M680 970.5h3M685 970.5h2M750 970.5h4M791 970.5h1M799 970.5h2M836 970.5h2" stroke="#40a0e0" stroke-width="1" stroke-opacity="0.55"/>
<path d="M160 970.5h1M273 970.5h4M457 970.5h1M486 970.5h3M491 970.5h2M561 970.5h6M636 970.5h2M668 970.5h1M766 970.5h3M957 970.5h3M1049 970.5h4" stroke="#303030" stroke-width="1" stroke-opacity="0.55"/>
<path d="M163 970.5h3M199 970.5h3M344 970.5h2M364 970.5h3M451 970.5h4M510 970.5h1M555 970.5h4M607 970.5h1M628 970.5h4M808 970.5h4M931 970.5h2M964 970.5h2M1009 970.5h2M1025 970.5h3M1039 970.5h3" stroke="#f0f0f0" stroke-width="1" stroke-opacity="0.55"/>
<path d="M262 970.5h4M299 970.5h4M322 970.5h2M333 970.5h4M469 970.5h2M591 970.5h3M612 970.5h4M618 970.5h3M729 970.5h4M857 970.5h2M910 970.5h4M954 970.5h1" stroke="#60d060" stroke-width="1" stroke-opacity="0.55"/></svg></body></html>
